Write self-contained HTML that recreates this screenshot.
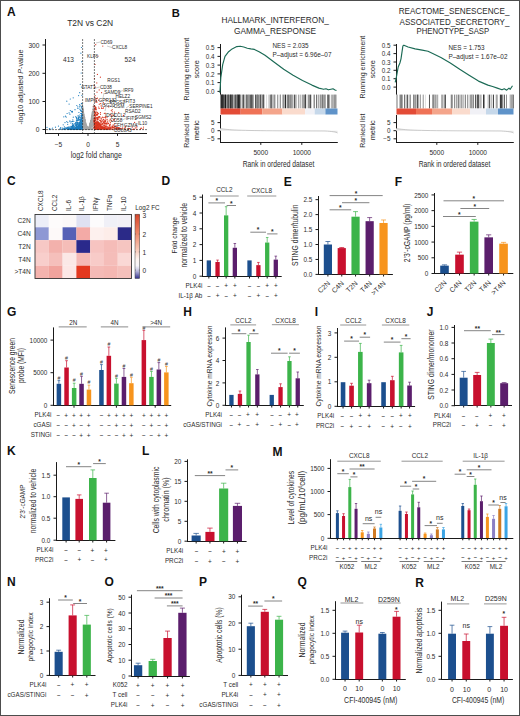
<!DOCTYPE html>
<html><head><meta charset="utf-8"><style>
html,body{margin:0;padding:0;background:#fff;}
svg{display:block;}
text{font-family:"Liberation Sans", sans-serif;}
</style></head><body>
<svg width="520" height="716" viewBox="0 0 520 716">
<rect x="0" y="0" width="520" height="716" fill="#fff"/>
<text x="6.90" y="16.10" font-size="12" fill="#111" font-weight="bold">A</text>
<text x="67.20" y="25.81" font-size="8.4" fill="#2b2b2b" textLength="46" lengthAdjust="spacingAndGlyphs">T2N vs C2N</text>
<g>
<circle cx="85.9" cy="128.1" r="0.6" fill="#a6a6a6"/>
<circle cx="89.8" cy="128.9" r="0.6" fill="#a6a6a6"/>
<circle cx="88.4" cy="128.8" r="0.6" fill="#a6a6a6"/>
<circle cx="82.8" cy="116.0" r="0.6" fill="#a6a6a6"/>
<circle cx="82.5" cy="116.8" r="0.6" fill="#a6a6a6"/>
<circle cx="82.9" cy="126.2" r="0.6" fill="#a6a6a6"/>
<circle cx="87.1" cy="127.4" r="0.6" fill="#a6a6a6"/>
<circle cx="83.6" cy="124.0" r="0.6" fill="#a6a6a6"/>
<circle cx="89.5" cy="125.5" r="0.6" fill="#a6a6a6"/>
<circle cx="88.9" cy="128.3" r="0.6" fill="#a6a6a6"/>
<circle cx="93.6" cy="127.3" r="0.6" fill="#a6a6a6"/>
<circle cx="92.2" cy="123.2" r="0.6" fill="#a6a6a6"/>
<circle cx="83.8" cy="126.5" r="0.6" fill="#a6a6a6"/>
<circle cx="85.7" cy="123.6" r="0.6" fill="#a6a6a6"/>
<circle cx="84.2" cy="120.3" r="0.6" fill="#a6a6a6"/>
<circle cx="89.6" cy="127.4" r="0.6" fill="#a6a6a6"/>
<circle cx="88.6" cy="129.3" r="0.6" fill="#a6a6a6"/>
<circle cx="82.8" cy="123.0" r="0.6" fill="#a6a6a6"/>
<circle cx="90.1" cy="126.3" r="0.6" fill="#a6a6a6"/>
<circle cx="85.8" cy="125.2" r="0.6" fill="#a6a6a6"/>
<circle cx="87.4" cy="128.8" r="0.6" fill="#a6a6a6"/>
<circle cx="91.5" cy="120.0" r="0.6" fill="#a6a6a6"/>
<circle cx="85.0" cy="122.9" r="0.6" fill="#a6a6a6"/>
<circle cx="88.3" cy="128.3" r="0.6" fill="#a6a6a6"/>
<circle cx="90.7" cy="126.2" r="0.6" fill="#a6a6a6"/>
<circle cx="93.7" cy="124.7" r="0.6" fill="#a6a6a6"/>
<circle cx="87.0" cy="127.4" r="0.6" fill="#a6a6a6"/>
<circle cx="83.9" cy="120.4" r="0.6" fill="#a6a6a6"/>
<circle cx="82.6" cy="111.6" r="0.6" fill="#a6a6a6"/>
<circle cx="91.1" cy="122.6" r="0.6" fill="#a6a6a6"/>
<circle cx="92.4" cy="122.3" r="0.6" fill="#a6a6a6"/>
<circle cx="90.3" cy="124.8" r="0.6" fill="#a6a6a6"/>
<circle cx="88.9" cy="128.1" r="0.6" fill="#a6a6a6"/>
<circle cx="92.0" cy="114.6" r="0.6" fill="#a6a6a6"/>
<circle cx="87.7" cy="128.5" r="0.6" fill="#a6a6a6"/>
<circle cx="82.8" cy="112.2" r="0.6" fill="#a6a6a6"/>
<circle cx="89.7" cy="124.6" r="0.6" fill="#a6a6a6"/>
<circle cx="91.8" cy="124.2" r="0.6" fill="#a6a6a6"/>
<circle cx="86.7" cy="126.8" r="0.6" fill="#a6a6a6"/>
<circle cx="82.4" cy="115.4" r="0.6" fill="#a6a6a6"/>
<circle cx="84.1" cy="126.8" r="0.6" fill="#a6a6a6"/>
<circle cx="82.8" cy="110.8" r="0.6" fill="#a6a6a6"/>
<circle cx="83.6" cy="123.7" r="0.6" fill="#a6a6a6"/>
<circle cx="86.7" cy="126.4" r="0.6" fill="#a6a6a6"/>
<circle cx="83.1" cy="118.2" r="0.6" fill="#a6a6a6"/>
<circle cx="88.6" cy="127.9" r="0.6" fill="#a6a6a6"/>
<circle cx="91.8" cy="116.8" r="0.6" fill="#a6a6a6"/>
<circle cx="85.4" cy="125.3" r="0.6" fill="#a6a6a6"/>
<circle cx="86.3" cy="125.3" r="0.6" fill="#a6a6a6"/>
<circle cx="93.4" cy="124.1" r="0.6" fill="#a6a6a6"/>
<circle cx="84.2" cy="125.0" r="0.6" fill="#a6a6a6"/>
<circle cx="84.9" cy="123.4" r="0.6" fill="#a6a6a6"/>
<circle cx="89.1" cy="128.5" r="0.6" fill="#a6a6a6"/>
<circle cx="82.1" cy="115.7" r="0.6" fill="#a6a6a6"/>
<circle cx="86.5" cy="126.8" r="0.6" fill="#a6a6a6"/>
<circle cx="93.3" cy="111.6" r="0.6" fill="#a6a6a6"/>
<circle cx="88.2" cy="128.7" r="0.6" fill="#a6a6a6"/>
<circle cx="90.1" cy="128.9" r="0.6" fill="#a6a6a6"/>
<circle cx="92.7" cy="113.2" r="0.6" fill="#a6a6a6"/>
<circle cx="92.4" cy="114.4" r="0.6" fill="#a6a6a6"/>
<circle cx="86.7" cy="127.9" r="0.6" fill="#a6a6a6"/>
<circle cx="83.3" cy="115.8" r="0.6" fill="#a6a6a6"/>
<circle cx="82.8" cy="126.9" r="0.6" fill="#a6a6a6"/>
<circle cx="84.6" cy="126.6" r="0.6" fill="#a6a6a6"/>
<circle cx="86.1" cy="129.0" r="0.6" fill="#a6a6a6"/>
<circle cx="82.1" cy="123.3" r="0.6" fill="#a6a6a6"/>
<circle cx="83.3" cy="120.7" r="0.6" fill="#a6a6a6"/>
<circle cx="82.4" cy="106.3" r="0.6" fill="#a6a6a6"/>
<circle cx="89.3" cy="128.7" r="0.6" fill="#a6a6a6"/>
<circle cx="85.1" cy="125.3" r="0.6" fill="#a6a6a6"/>
<circle cx="86.4" cy="128.7" r="0.6" fill="#a6a6a6"/>
<circle cx="92.1" cy="113.4" r="0.6" fill="#a6a6a6"/>
<circle cx="87.6" cy="128.7" r="0.6" fill="#a6a6a6"/>
<circle cx="83.1" cy="126.1" r="0.6" fill="#a6a6a6"/>
<circle cx="86.1" cy="127.7" r="0.6" fill="#a6a6a6"/>
<circle cx="91.9" cy="126.0" r="0.6" fill="#a6a6a6"/>
<circle cx="82.4" cy="104.5" r="0.6" fill="#a6a6a6"/>
<circle cx="88.3" cy="129.2" r="0.6" fill="#a6a6a6"/>
<circle cx="88.5" cy="129.4" r="0.6" fill="#a6a6a6"/>
<circle cx="88.3" cy="128.1" r="0.6" fill="#a6a6a6"/>
<circle cx="92.3" cy="116.6" r="0.6" fill="#a6a6a6"/>
<circle cx="85.2" cy="125.3" r="0.6" fill="#a6a6a6"/>
<circle cx="84.1" cy="117.2" r="0.6" fill="#a6a6a6"/>
<circle cx="88.4" cy="128.3" r="0.6" fill="#a6a6a6"/>
<circle cx="86.0" cy="127.7" r="0.6" fill="#a6a6a6"/>
<circle cx="91.7" cy="115.9" r="0.6" fill="#a6a6a6"/>
<circle cx="92.2" cy="115.6" r="0.6" fill="#a6a6a6"/>
<circle cx="91.8" cy="118.4" r="0.6" fill="#a6a6a6"/>
<circle cx="84.8" cy="122.8" r="0.6" fill="#a6a6a6"/>
<circle cx="86.3" cy="129.2" r="0.6" fill="#a6a6a6"/>
<circle cx="82.4" cy="120.3" r="0.6" fill="#a6a6a6"/>
<circle cx="85.2" cy="122.4" r="0.6" fill="#a6a6a6"/>
<circle cx="93.4" cy="116.7" r="0.6" fill="#a6a6a6"/>
<circle cx="93.2" cy="106.9" r="0.6" fill="#a6a6a6"/>
<circle cx="93.4" cy="118.7" r="0.6" fill="#a6a6a6"/>
<circle cx="84.7" cy="125.9" r="0.6" fill="#a6a6a6"/>
<circle cx="84.4" cy="125.8" r="0.6" fill="#a6a6a6"/>
<circle cx="89.5" cy="125.8" r="0.6" fill="#a6a6a6"/>
<circle cx="92.0" cy="120.8" r="0.6" fill="#a6a6a6"/>
<circle cx="89.8" cy="125.2" r="0.6" fill="#a6a6a6"/>
<circle cx="83.1" cy="114.4" r="0.6" fill="#a6a6a6"/>
<circle cx="92.8" cy="112.5" r="0.6" fill="#a6a6a6"/>
<circle cx="91.0" cy="124.0" r="0.6" fill="#a6a6a6"/>
<circle cx="84.2" cy="117.6" r="0.6" fill="#a6a6a6"/>
<circle cx="86.0" cy="124.6" r="0.6" fill="#a6a6a6"/>
<circle cx="93.6" cy="117.3" r="0.6" fill="#a6a6a6"/>
<circle cx="86.8" cy="126.5" r="0.6" fill="#a6a6a6"/>
<circle cx="90.7" cy="127.4" r="0.6" fill="#a6a6a6"/>
<circle cx="83.6" cy="125.5" r="0.6" fill="#a6a6a6"/>
<circle cx="92.8" cy="112.4" r="0.6" fill="#a6a6a6"/>
<circle cx="83.8" cy="115.3" r="0.6" fill="#a6a6a6"/>
<circle cx="93.7" cy="110.7" r="0.6" fill="#a6a6a6"/>
<circle cx="86.2" cy="126.4" r="0.6" fill="#a6a6a6"/>
<circle cx="83.6" cy="128.9" r="0.6" fill="#a6a6a6"/>
<circle cx="93.6" cy="111.4" r="0.6" fill="#a6a6a6"/>
<circle cx="88.3" cy="128.2" r="0.6" fill="#a6a6a6"/>
<circle cx="87.2" cy="127.5" r="0.6" fill="#a6a6a6"/>
<circle cx="91.8" cy="125.3" r="0.6" fill="#a6a6a6"/>
<circle cx="85.1" cy="125.8" r="0.6" fill="#a6a6a6"/>
<circle cx="84.9" cy="122.6" r="0.6" fill="#a6a6a6"/>
<circle cx="85.2" cy="124.8" r="0.6" fill="#a6a6a6"/>
<circle cx="83.6" cy="113.1" r="0.6" fill="#a6a6a6"/>
<circle cx="86.3" cy="126.9" r="0.6" fill="#a6a6a6"/>
<circle cx="89.0" cy="127.0" r="0.6" fill="#a6a6a6"/>
<circle cx="87.1" cy="127.1" r="0.6" fill="#a6a6a6"/>
<circle cx="88.0" cy="128.8" r="0.6" fill="#a6a6a6"/>
<circle cx="88.3" cy="129.4" r="0.6" fill="#a6a6a6"/>
<circle cx="87.3" cy="129.0" r="0.6" fill="#a6a6a6"/>
<circle cx="82.1" cy="106.4" r="0.6" fill="#a6a6a6"/>
<circle cx="84.1" cy="121.4" r="0.6" fill="#a6a6a6"/>
<circle cx="90.7" cy="124.1" r="0.6" fill="#a6a6a6"/>
<circle cx="85.9" cy="125.9" r="0.6" fill="#a6a6a6"/>
<circle cx="88.7" cy="127.9" r="0.6" fill="#a6a6a6"/>
<circle cx="83.4" cy="117.3" r="0.6" fill="#a6a6a6"/>
<circle cx="85.0" cy="125.9" r="0.6" fill="#a6a6a6"/>
<circle cx="91.2" cy="122.9" r="0.6" fill="#a6a6a6"/>
<circle cx="88.7" cy="127.8" r="0.6" fill="#a6a6a6"/>
<circle cx="92.9" cy="118.6" r="0.6" fill="#a6a6a6"/>
<circle cx="89.3" cy="127.4" r="0.6" fill="#a6a6a6"/>
<circle cx="88.1" cy="128.6" r="0.6" fill="#a6a6a6"/>
<circle cx="87.4" cy="128.4" r="0.6" fill="#a6a6a6"/>
<circle cx="87.7" cy="128.3" r="0.6" fill="#a6a6a6"/>
<circle cx="90.4" cy="122.9" r="0.6" fill="#a6a6a6"/>
<circle cx="93.2" cy="121.6" r="0.6" fill="#a6a6a6"/>
<circle cx="88.7" cy="127.6" r="0.6" fill="#a6a6a6"/>
<circle cx="92.0" cy="126.3" r="0.6" fill="#a6a6a6"/>
<circle cx="83.5" cy="120.0" r="0.6" fill="#a6a6a6"/>
<circle cx="83.0" cy="122.5" r="0.6" fill="#a6a6a6"/>
<circle cx="83.0" cy="113.6" r="0.6" fill="#a6a6a6"/>
<circle cx="91.4" cy="118.5" r="0.6" fill="#a6a6a6"/>
<circle cx="83.9" cy="117.2" r="0.6" fill="#a6a6a6"/>
<circle cx="89.9" cy="128.3" r="0.6" fill="#a6a6a6"/>
<circle cx="92.5" cy="111.3" r="0.6" fill="#a6a6a6"/>
<circle cx="84.7" cy="118.2" r="0.6" fill="#a6a6a6"/>
<circle cx="86.8" cy="127.7" r="0.6" fill="#a6a6a6"/>
<circle cx="93.8" cy="106.1" r="0.6" fill="#a6a6a6"/>
<circle cx="84.0" cy="121.6" r="0.6" fill="#a6a6a6"/>
<circle cx="88.2" cy="129.0" r="0.6" fill="#a6a6a6"/>
<circle cx="84.4" cy="124.2" r="0.6" fill="#a6a6a6"/>
<circle cx="90.6" cy="129.1" r="0.6" fill="#a6a6a6"/>
<circle cx="88.6" cy="128.5" r="0.6" fill="#a6a6a6"/>
<circle cx="82.3" cy="118.6" r="0.6" fill="#a6a6a6"/>
<circle cx="89.5" cy="127.1" r="0.6" fill="#a6a6a6"/>
<circle cx="82.9" cy="107.1" r="0.6" fill="#a6a6a6"/>
<circle cx="91.4" cy="117.5" r="0.6" fill="#a6a6a6"/>
<circle cx="83.3" cy="122.7" r="0.6" fill="#a6a6a6"/>
<circle cx="82.6" cy="109.3" r="0.6" fill="#a6a6a6"/>
<circle cx="85.3" cy="127.8" r="0.6" fill="#a6a6a6"/>
<circle cx="87.1" cy="127.2" r="0.6" fill="#a6a6a6"/>
<circle cx="91.8" cy="124.7" r="0.6" fill="#a6a6a6"/>
<circle cx="83.9" cy="114.2" r="0.6" fill="#a6a6a6"/>
<circle cx="88.8" cy="127.8" r="0.6" fill="#a6a6a6"/>
<circle cx="83.2" cy="127.4" r="0.6" fill="#a6a6a6"/>
<circle cx="90.2" cy="126.1" r="0.6" fill="#a6a6a6"/>
<circle cx="83.0" cy="108.6" r="0.6" fill="#a6a6a6"/>
<circle cx="89.6" cy="125.8" r="0.6" fill="#a6a6a6"/>
<circle cx="83.1" cy="110.8" r="0.6" fill="#a6a6a6"/>
<circle cx="82.9" cy="109.5" r="0.6" fill="#a6a6a6"/>
<circle cx="87.5" cy="128.8" r="0.6" fill="#a6a6a6"/>
<circle cx="88.6" cy="127.7" r="0.6" fill="#a6a6a6"/>
<circle cx="85.3" cy="127.7" r="0.6" fill="#a6a6a6"/>
<circle cx="88.3" cy="129.1" r="0.6" fill="#a6a6a6"/>
<circle cx="83.4" cy="125.0" r="0.6" fill="#a6a6a6"/>
<circle cx="82.7" cy="122.9" r="0.6" fill="#a6a6a6"/>
<circle cx="85.8" cy="126.9" r="0.6" fill="#a6a6a6"/>
<circle cx="91.1" cy="125.6" r="0.6" fill="#a6a6a6"/>
<circle cx="88.0" cy="129.2" r="0.6" fill="#a6a6a6"/>
<circle cx="86.2" cy="129.3" r="0.6" fill="#a6a6a6"/>
<circle cx="85.1" cy="129.1" r="0.6" fill="#a6a6a6"/>
<circle cx="90.8" cy="123.9" r="0.6" fill="#a6a6a6"/>
<circle cx="84.3" cy="122.0" r="0.6" fill="#a6a6a6"/>
<circle cx="93.1" cy="125.7" r="0.6" fill="#a6a6a6"/>
<circle cx="91.8" cy="122.2" r="0.6" fill="#a6a6a6"/>
<circle cx="87.9" cy="128.5" r="0.6" fill="#a6a6a6"/>
<circle cx="86.7" cy="127.5" r="0.6" fill="#a6a6a6"/>
<circle cx="90.2" cy="122.9" r="0.6" fill="#a6a6a6"/>
<circle cx="86.1" cy="124.9" r="0.6" fill="#a6a6a6"/>
<circle cx="90.4" cy="124.2" r="0.6" fill="#a6a6a6"/>
<circle cx="86.9" cy="128.2" r="0.6" fill="#a6a6a6"/>
<circle cx="82.7" cy="124.9" r="0.6" fill="#a6a6a6"/>
<circle cx="82.9" cy="112.1" r="0.6" fill="#a6a6a6"/>
<circle cx="85.1" cy="127.2" r="0.6" fill="#a6a6a6"/>
<circle cx="83.1" cy="111.1" r="0.6" fill="#a6a6a6"/>
<circle cx="92.4" cy="116.6" r="0.6" fill="#a6a6a6"/>
<circle cx="85.4" cy="126.8" r="0.6" fill="#a6a6a6"/>
<circle cx="85.6" cy="125.4" r="0.6" fill="#a6a6a6"/>
<circle cx="84.0" cy="121.2" r="0.6" fill="#a6a6a6"/>
<circle cx="85.2" cy="120.5" r="0.6" fill="#a6a6a6"/>
<circle cx="93.6" cy="113.7" r="0.6" fill="#a6a6a6"/>
<circle cx="85.0" cy="119.5" r="0.6" fill="#a6a6a6"/>
<circle cx="85.8" cy="126.5" r="0.6" fill="#a6a6a6"/>
<circle cx="82.1" cy="116.6" r="0.6" fill="#a6a6a6"/>
<circle cx="87.7" cy="128.7" r="0.6" fill="#a6a6a6"/>
<circle cx="84.5" cy="122.0" r="0.6" fill="#a6a6a6"/>
<circle cx="82.2" cy="120.0" r="0.6" fill="#a6a6a6"/>
<circle cx="83.2" cy="119.6" r="0.6" fill="#a6a6a6"/>
<circle cx="82.6" cy="128.3" r="0.6" fill="#a6a6a6"/>
<circle cx="85.7" cy="127.3" r="0.6" fill="#a6a6a6"/>
<circle cx="89.0" cy="127.9" r="0.6" fill="#a6a6a6"/>
<circle cx="91.0" cy="122.3" r="0.6" fill="#a6a6a6"/>
<circle cx="90.5" cy="122.2" r="0.6" fill="#a6a6a6"/>
<circle cx="86.7" cy="128.1" r="0.6" fill="#a6a6a6"/>
<circle cx="93.7" cy="123.7" r="0.6" fill="#a6a6a6"/>
<circle cx="90.6" cy="123.5" r="0.6" fill="#a6a6a6"/>
<circle cx="82.6" cy="108.4" r="0.6" fill="#a6a6a6"/>
<circle cx="92.6" cy="116.2" r="0.6" fill="#a6a6a6"/>
<circle cx="90.8" cy="121.8" r="0.6" fill="#a6a6a6"/>
<circle cx="83.7" cy="119.3" r="0.6" fill="#a6a6a6"/>
<circle cx="88.1" cy="128.5" r="0.6" fill="#a6a6a6"/>
<circle cx="91.6" cy="118.1" r="0.6" fill="#a6a6a6"/>
<circle cx="89.0" cy="127.1" r="0.6" fill="#a6a6a6"/>
<circle cx="90.2" cy="124.6" r="0.6" fill="#a6a6a6"/>
<circle cx="84.8" cy="128.8" r="0.6" fill="#a6a6a6"/>
<circle cx="83.7" cy="121.8" r="0.6" fill="#a6a6a6"/>
<circle cx="83.3" cy="112.6" r="0.6" fill="#a6a6a6"/>
<circle cx="88.7" cy="128.1" r="0.6" fill="#a6a6a6"/>
<circle cx="89.5" cy="126.5" r="0.6" fill="#a6a6a6"/>
<circle cx="87.9" cy="129.5" r="0.6" fill="#a6a6a6"/>
<circle cx="91.5" cy="119.3" r="0.6" fill="#a6a6a6"/>
<circle cx="88.0" cy="128.8" r="0.6" fill="#a6a6a6"/>
<circle cx="89.9" cy="128.9" r="0.6" fill="#a6a6a6"/>
<circle cx="90.8" cy="126.4" r="0.6" fill="#a6a6a6"/>
<circle cx="83.0" cy="121.9" r="0.6" fill="#a6a6a6"/>
<circle cx="90.7" cy="127.0" r="0.6" fill="#a6a6a6"/>
<circle cx="90.8" cy="120.3" r="0.6" fill="#a6a6a6"/>
<circle cx="87.9" cy="129.0" r="0.6" fill="#a6a6a6"/>
<circle cx="87.8" cy="128.5" r="0.6" fill="#a6a6a6"/>
<circle cx="91.2" cy="122.0" r="0.6" fill="#a6a6a6"/>
<circle cx="89.7" cy="128.9" r="0.6" fill="#a6a6a6"/>
<circle cx="83.8" cy="124.0" r="0.6" fill="#a6a6a6"/>
<circle cx="90.9" cy="125.8" r="0.6" fill="#a6a6a6"/>
<circle cx="88.8" cy="129.4" r="0.6" fill="#a6a6a6"/>
<circle cx="82.8" cy="121.5" r="0.6" fill="#a6a6a6"/>
<circle cx="90.0" cy="125.0" r="0.6" fill="#a6a6a6"/>
<circle cx="90.1" cy="127.2" r="0.6" fill="#a6a6a6"/>
<circle cx="88.2" cy="128.8" r="0.6" fill="#a6a6a6"/>
<circle cx="87.6" cy="129.2" r="0.6" fill="#a6a6a6"/>
<circle cx="92.6" cy="124.1" r="0.6" fill="#a6a6a6"/>
<circle cx="93.6" cy="104.7" r="0.6" fill="#a6a6a6"/>
<circle cx="82.3" cy="115.3" r="0.6" fill="#a6a6a6"/>
<circle cx="91.8" cy="115.6" r="0.6" fill="#a6a6a6"/>
<circle cx="87.4" cy="128.9" r="0.6" fill="#a6a6a6"/>
<circle cx="84.6" cy="117.7" r="0.6" fill="#a6a6a6"/>
<circle cx="84.6" cy="121.5" r="0.6" fill="#a6a6a6"/>
<circle cx="83.8" cy="119.4" r="0.6" fill="#a6a6a6"/>
<circle cx="93.3" cy="124.7" r="0.6" fill="#a6a6a6"/>
<circle cx="91.8" cy="121.2" r="0.6" fill="#a6a6a6"/>
<circle cx="92.6" cy="115.2" r="0.6" fill="#a6a6a6"/>
<circle cx="84.8" cy="119.3" r="0.6" fill="#a6a6a6"/>
<circle cx="87.8" cy="129.4" r="0.6" fill="#a6a6a6"/>
<circle cx="82.1" cy="113.8" r="0.6" fill="#a6a6a6"/>
<circle cx="87.4" cy="128.8" r="0.6" fill="#a6a6a6"/>
<circle cx="83.8" cy="122.3" r="0.6" fill="#a6a6a6"/>
<circle cx="85.8" cy="123.8" r="0.6" fill="#a6a6a6"/>
<circle cx="82.1" cy="107.4" r="0.6" fill="#a6a6a6"/>
<circle cx="92.0" cy="126.6" r="0.6" fill="#a6a6a6"/>
<circle cx="93.0" cy="112.8" r="0.6" fill="#a6a6a6"/>
<circle cx="92.7" cy="122.1" r="0.6" fill="#a6a6a6"/>
<circle cx="86.5" cy="127.5" r="0.6" fill="#a6a6a6"/>
<circle cx="93.9" cy="111.2" r="0.6" fill="#a6a6a6"/>
<circle cx="86.4" cy="127.2" r="0.6" fill="#a6a6a6"/>
<circle cx="85.3" cy="128.7" r="0.6" fill="#a6a6a6"/>
<circle cx="83.3" cy="112.4" r="0.6" fill="#a6a6a6"/>
<circle cx="85.5" cy="121.9" r="0.6" fill="#a6a6a6"/>
<circle cx="85.0" cy="126.0" r="0.6" fill="#a6a6a6"/>
<circle cx="88.1" cy="129.2" r="0.6" fill="#a6a6a6"/>
<circle cx="86.5" cy="125.5" r="0.6" fill="#a6a6a6"/>
<circle cx="92.5" cy="113.6" r="0.6" fill="#a6a6a6"/>
<circle cx="89.5" cy="125.5" r="0.6" fill="#a6a6a6"/>
<circle cx="93.2" cy="115.2" r="0.6" fill="#a6a6a6"/>
<circle cx="90.6" cy="128.7" r="0.6" fill="#a6a6a6"/>
<circle cx="90.7" cy="124.7" r="0.6" fill="#a6a6a6"/>
<circle cx="91.0" cy="122.4" r="0.6" fill="#a6a6a6"/>
<circle cx="85.5" cy="128.8" r="0.6" fill="#a6a6a6"/>
<circle cx="93.0" cy="125.3" r="0.6" fill="#a6a6a6"/>
<circle cx="87.7" cy="128.9" r="0.6" fill="#a6a6a6"/>
<circle cx="85.6" cy="123.7" r="0.6" fill="#a6a6a6"/>
<circle cx="93.6" cy="120.7" r="0.6" fill="#a6a6a6"/>
<circle cx="89.8" cy="127.5" r="0.6" fill="#a6a6a6"/>
<circle cx="88.7" cy="128.6" r="0.6" fill="#a6a6a6"/>
<circle cx="84.1" cy="126.0" r="0.6" fill="#a6a6a6"/>
<circle cx="84.6" cy="118.0" r="0.6" fill="#a6a6a6"/>
<circle cx="88.0" cy="129.2" r="0.6" fill="#a6a6a6"/>
<circle cx="92.8" cy="109.2" r="0.6" fill="#a6a6a6"/>
<circle cx="87.4" cy="129.1" r="0.6" fill="#a6a6a6"/>
<circle cx="84.4" cy="127.5" r="0.6" fill="#a6a6a6"/>
<circle cx="86.1" cy="128.7" r="0.6" fill="#a6a6a6"/>
<circle cx="84.9" cy="125.9" r="0.6" fill="#a6a6a6"/>
<circle cx="88.8" cy="127.4" r="0.6" fill="#a6a6a6"/>
<circle cx="90.9" cy="124.6" r="0.6" fill="#a6a6a6"/>
<circle cx="87.0" cy="127.9" r="0.6" fill="#a6a6a6"/>
<circle cx="86.5" cy="127.8" r="0.6" fill="#a6a6a6"/>
<circle cx="82.8" cy="121.3" r="0.6" fill="#a6a6a6"/>
<circle cx="93.5" cy="124.7" r="0.6" fill="#a6a6a6"/>
<circle cx="88.0" cy="128.7" r="0.6" fill="#a6a6a6"/>
<circle cx="92.3" cy="124.4" r="0.6" fill="#a6a6a6"/>
<circle cx="85.3" cy="126.6" r="0.6" fill="#a6a6a6"/>
<circle cx="86.8" cy="127.8" r="0.6" fill="#a6a6a6"/>
<circle cx="93.4" cy="108.3" r="0.6" fill="#a6a6a6"/>
<circle cx="92.4" cy="128.7" r="0.6" fill="#a6a6a6"/>
<circle cx="82.5" cy="110.3" r="0.6" fill="#a6a6a6"/>
<circle cx="92.7" cy="118.7" r="0.6" fill="#a6a6a6"/>
<circle cx="89.0" cy="129.5" r="0.6" fill="#a6a6a6"/>
<circle cx="86.7" cy="126.2" r="0.6" fill="#a6a6a6"/>
<circle cx="91.8" cy="116.6" r="0.6" fill="#a6a6a6"/>
<circle cx="93.6" cy="121.1" r="0.6" fill="#a6a6a6"/>
<circle cx="83.4" cy="125.2" r="0.6" fill="#a6a6a6"/>
<circle cx="88.3" cy="128.5" r="0.6" fill="#a6a6a6"/>
<circle cx="93.2" cy="111.7" r="0.6" fill="#a6a6a6"/>
<circle cx="89.7" cy="125.5" r="0.6" fill="#a6a6a6"/>
<circle cx="87.5" cy="128.5" r="0.6" fill="#a6a6a6"/>
<circle cx="82.6" cy="109.2" r="0.6" fill="#a6a6a6"/>
<circle cx="84.8" cy="119.2" r="0.6" fill="#a6a6a6"/>
<circle cx="89.7" cy="127.6" r="0.6" fill="#a6a6a6"/>
<circle cx="83.6" cy="123.6" r="0.6" fill="#a6a6a6"/>
<circle cx="89.6" cy="126.1" r="0.6" fill="#a6a6a6"/>
<circle cx="83.4" cy="127.2" r="0.6" fill="#a6a6a6"/>
<circle cx="88.3" cy="128.6" r="0.6" fill="#a6a6a6"/>
<circle cx="86.7" cy="128.4" r="0.6" fill="#a6a6a6"/>
<circle cx="89.2" cy="129.4" r="0.6" fill="#a6a6a6"/>
<circle cx="85.7" cy="125.6" r="0.6" fill="#a6a6a6"/>
<circle cx="93.4" cy="112.2" r="0.6" fill="#a6a6a6"/>
<circle cx="92.5" cy="119.2" r="0.6" fill="#a6a6a6"/>
<circle cx="84.9" cy="125.9" r="0.6" fill="#a6a6a6"/>
<circle cx="93.4" cy="110.8" r="0.6" fill="#a6a6a6"/>
<circle cx="85.7" cy="129.2" r="0.6" fill="#a6a6a6"/>
<circle cx="88.0" cy="128.7" r="0.6" fill="#a6a6a6"/>
<circle cx="87.1" cy="128.6" r="0.6" fill="#a6a6a6"/>
<circle cx="90.0" cy="124.1" r="0.6" fill="#a6a6a6"/>
<circle cx="84.8" cy="128.7" r="0.6" fill="#a6a6a6"/>
<circle cx="86.1" cy="126.7" r="0.6" fill="#a6a6a6"/>
<circle cx="90.2" cy="127.7" r="0.6" fill="#a6a6a6"/>
<circle cx="91.5" cy="119.4" r="0.6" fill="#a6a6a6"/>
<circle cx="88.1" cy="129.2" r="0.6" fill="#a6a6a6"/>
<circle cx="93.5" cy="119.5" r="0.6" fill="#a6a6a6"/>
<circle cx="91.8" cy="125.1" r="0.6" fill="#a6a6a6"/>
<circle cx="84.7" cy="120.1" r="0.6" fill="#a6a6a6"/>
<circle cx="85.6" cy="122.2" r="0.6" fill="#a6a6a6"/>
<circle cx="88.0" cy="129.2" r="0.6" fill="#a6a6a6"/>
<circle cx="84.7" cy="123.8" r="0.6" fill="#a6a6a6"/>
<circle cx="90.0" cy="124.0" r="0.6" fill="#a6a6a6"/>
<circle cx="83.8" cy="121.6" r="0.6" fill="#a6a6a6"/>
<circle cx="84.6" cy="117.6" r="0.6" fill="#a6a6a6"/>
<circle cx="83.8" cy="127.9" r="0.6" fill="#a6a6a6"/>
<circle cx="82.8" cy="118.6" r="0.6" fill="#a6a6a6"/>
<circle cx="92.7" cy="111.6" r="0.6" fill="#a6a6a6"/>
<circle cx="90.7" cy="120.5" r="0.6" fill="#a6a6a6"/>
<circle cx="93.1" cy="120.3" r="0.6" fill="#a6a6a6"/>
<circle cx="84.3" cy="116.3" r="0.6" fill="#a6a6a6"/>
<circle cx="90.9" cy="128.9" r="0.6" fill="#a6a6a6"/>
<circle cx="89.9" cy="126.9" r="0.6" fill="#a6a6a6"/>
<circle cx="86.5" cy="127.8" r="0.6" fill="#a6a6a6"/>
<circle cx="84.1" cy="129.4" r="0.6" fill="#a6a6a6"/>
<circle cx="85.4" cy="125.9" r="0.6" fill="#a6a6a6"/>
<circle cx="93.4" cy="124.9" r="0.6" fill="#a6a6a6"/>
<circle cx="93.5" cy="122.4" r="0.6" fill="#a6a6a6"/>
<circle cx="86.3" cy="125.4" r="0.6" fill="#a6a6a6"/>
<circle cx="91.8" cy="122.1" r="0.6" fill="#a6a6a6"/>
<circle cx="82.7" cy="116.4" r="0.6" fill="#a6a6a6"/>
<circle cx="86.5" cy="125.6" r="0.6" fill="#a6a6a6"/>
<circle cx="84.4" cy="123.5" r="0.6" fill="#a6a6a6"/>
<circle cx="92.7" cy="128.3" r="0.6" fill="#a6a6a6"/>
<circle cx="86.9" cy="127.1" r="0.6" fill="#a6a6a6"/>
<circle cx="91.1" cy="128.7" r="0.6" fill="#a6a6a6"/>
<circle cx="82.5" cy="126.8" r="0.6" fill="#a6a6a6"/>
<circle cx="93.0" cy="122.3" r="0.6" fill="#a6a6a6"/>
<circle cx="90.9" cy="120.5" r="0.6" fill="#a6a6a6"/>
<circle cx="86.1" cy="127.6" r="0.6" fill="#a6a6a6"/>
<circle cx="93.4" cy="112.9" r="0.6" fill="#a6a6a6"/>
<circle cx="85.2" cy="122.4" r="0.6" fill="#a6a6a6"/>
<circle cx="85.8" cy="127.2" r="0.6" fill="#a6a6a6"/>
<circle cx="82.1" cy="107.4" r="0.6" fill="#a6a6a6"/>
<circle cx="92.9" cy="114.8" r="0.6" fill="#a6a6a6"/>
<circle cx="93.2" cy="128.3" r="0.6" fill="#a6a6a6"/>
<circle cx="84.9" cy="123.5" r="0.6" fill="#a6a6a6"/>
<circle cx="93.4" cy="106.0" r="0.6" fill="#a6a6a6"/>
<circle cx="86.7" cy="128.3" r="0.6" fill="#a6a6a6"/>
<circle cx="87.2" cy="128.2" r="0.6" fill="#a6a6a6"/>
<circle cx="93.1" cy="123.8" r="0.6" fill="#a6a6a6"/>
<circle cx="91.6" cy="119.2" r="0.6" fill="#a6a6a6"/>
<circle cx="91.8" cy="117.7" r="0.6" fill="#a6a6a6"/>
<circle cx="89.3" cy="128.1" r="0.6" fill="#a6a6a6"/>
<circle cx="85.9" cy="126.7" r="0.6" fill="#a6a6a6"/>
<circle cx="91.3" cy="127.9" r="0.6" fill="#a6a6a6"/>
<circle cx="84.4" cy="119.0" r="0.6" fill="#a6a6a6"/>
<circle cx="85.0" cy="128.4" r="0.6" fill="#a6a6a6"/>
<circle cx="82.5" cy="113.9" r="0.6" fill="#a6a6a6"/>
<circle cx="85.9" cy="123.5" r="0.6" fill="#a6a6a6"/>
<circle cx="92.5" cy="111.0" r="0.6" fill="#a6a6a6"/>
<circle cx="85.2" cy="128.2" r="0.6" fill="#a6a6a6"/>
<circle cx="83.2" cy="117.9" r="0.6" fill="#a6a6a6"/>
<circle cx="90.5" cy="125.4" r="0.6" fill="#a6a6a6"/>
<circle cx="84.9" cy="124.1" r="0.6" fill="#a6a6a6"/>
<circle cx="89.4" cy="126.7" r="0.6" fill="#a6a6a6"/>
<circle cx="90.9" cy="120.9" r="0.6" fill="#a6a6a6"/>
<circle cx="89.9" cy="128.5" r="0.6" fill="#a6a6a6"/>
<circle cx="92.0" cy="123.6" r="0.6" fill="#a6a6a6"/>
<circle cx="88.8" cy="128.5" r="0.6" fill="#a6a6a6"/>
<circle cx="90.8" cy="126.9" r="0.6" fill="#a6a6a6"/>
<circle cx="85.0" cy="126.2" r="0.6" fill="#a6a6a6"/>
<circle cx="83.9" cy="114.9" r="0.6" fill="#a6a6a6"/>
<circle cx="88.9" cy="128.5" r="0.6" fill="#a6a6a6"/>
<circle cx="86.8" cy="126.2" r="0.6" fill="#a6a6a6"/>
<circle cx="88.1" cy="129.1" r="0.6" fill="#a6a6a6"/>
<circle cx="91.6" cy="119.9" r="0.6" fill="#a6a6a6"/>
<circle cx="93.8" cy="125.1" r="0.6" fill="#a6a6a6"/>
<circle cx="87.7" cy="128.3" r="0.6" fill="#a6a6a6"/>
<circle cx="92.0" cy="114.9" r="0.6" fill="#a6a6a6"/>
<circle cx="82.6" cy="120.3" r="0.6" fill="#a6a6a6"/>
<circle cx="83.5" cy="124.6" r="0.6" fill="#a6a6a6"/>
<circle cx="93.6" cy="112.8" r="0.6" fill="#a6a6a6"/>
<circle cx="93.1" cy="119.4" r="0.6" fill="#a6a6a6"/>
<circle cx="92.3" cy="120.3" r="0.6" fill="#a6a6a6"/>
<circle cx="85.2" cy="121.8" r="0.6" fill="#a6a6a6"/>
<circle cx="93.3" cy="125.6" r="0.6" fill="#a6a6a6"/>
<circle cx="89.1" cy="127.4" r="0.6" fill="#a6a6a6"/>
<circle cx="84.7" cy="124.1" r="0.6" fill="#a6a6a6"/>
<circle cx="83.8" cy="124.8" r="0.6" fill="#a6a6a6"/>
<circle cx="85.1" cy="123.1" r="0.6" fill="#a6a6a6"/>
<circle cx="89.8" cy="128.1" r="0.6" fill="#a6a6a6"/>
<circle cx="82.2" cy="118.4" r="0.6" fill="#a6a6a6"/>
<circle cx="90.1" cy="127.9" r="0.6" fill="#a6a6a6"/>
<circle cx="85.8" cy="127.6" r="0.6" fill="#a6a6a6"/>
<circle cx="91.5" cy="121.7" r="0.6" fill="#a6a6a6"/>
<circle cx="82.8" cy="125.9" r="0.6" fill="#a6a6a6"/>
<circle cx="86.8" cy="127.4" r="0.6" fill="#a6a6a6"/>
<circle cx="89.6" cy="128.8" r="0.6" fill="#a6a6a6"/>
<circle cx="84.0" cy="118.0" r="0.6" fill="#a6a6a6"/>
<circle cx="86.9" cy="128.5" r="0.6" fill="#a6a6a6"/>
<circle cx="85.7" cy="122.8" r="0.6" fill="#a6a6a6"/>
<circle cx="85.8" cy="125.2" r="0.6" fill="#a6a6a6"/>
<circle cx="86.3" cy="127.1" r="0.6" fill="#a6a6a6"/>
<circle cx="92.3" cy="112.2" r="0.6" fill="#a6a6a6"/>
<circle cx="86.4" cy="128.3" r="0.6" fill="#a6a6a6"/>
<circle cx="90.7" cy="127.0" r="0.6" fill="#a6a6a6"/>
<circle cx="82.2" cy="104.2" r="0.6" fill="#a6a6a6"/>
<circle cx="87.1" cy="127.4" r="0.6" fill="#a6a6a6"/>
<circle cx="86.9" cy="126.8" r="0.6" fill="#a6a6a6"/>
<circle cx="87.5" cy="129.1" r="0.6" fill="#a6a6a6"/>
<circle cx="82.3" cy="112.9" r="0.6" fill="#a6a6a6"/>
<circle cx="89.7" cy="125.2" r="0.6" fill="#a6a6a6"/>
<circle cx="83.2" cy="115.3" r="0.6" fill="#a6a6a6"/>
<circle cx="86.5" cy="127.1" r="0.6" fill="#a6a6a6"/>
<circle cx="83.8" cy="123.4" r="0.6" fill="#a6a6a6"/>
<circle cx="88.2" cy="128.3" r="0.6" fill="#a6a6a6"/>
<circle cx="83.4" cy="118.6" r="0.6" fill="#a6a6a6"/>
<circle cx="91.6" cy="116.6" r="0.6" fill="#a6a6a6"/>
<circle cx="84.4" cy="127.0" r="0.6" fill="#a6a6a6"/>
<circle cx="93.2" cy="106.7" r="0.6" fill="#a6a6a6"/>
<circle cx="87.8" cy="129.4" r="0.6" fill="#a6a6a6"/>
<circle cx="93.0" cy="119.2" r="0.6" fill="#a6a6a6"/>
<circle cx="92.8" cy="115.7" r="0.6" fill="#a6a6a6"/>
<circle cx="91.8" cy="126.1" r="0.6" fill="#a6a6a6"/>
<circle cx="91.4" cy="125.9" r="0.6" fill="#a6a6a6"/>
<circle cx="86.9" cy="126.8" r="0.6" fill="#a6a6a6"/>
<circle cx="91.9" cy="125.7" r="0.6" fill="#a6a6a6"/>
<circle cx="84.7" cy="123.8" r="0.6" fill="#a6a6a6"/>
<circle cx="88.2" cy="128.9" r="0.6" fill="#a6a6a6"/>
<circle cx="83.6" cy="123.5" r="0.6" fill="#a6a6a6"/>
<circle cx="90.7" cy="121.6" r="0.6" fill="#a6a6a6"/>
<circle cx="82.6" cy="114.0" r="0.6" fill="#a6a6a6"/>
<circle cx="91.0" cy="128.7" r="0.6" fill="#a6a6a6"/>
<circle cx="92.0" cy="126.7" r="0.6" fill="#a6a6a6"/>
<circle cx="89.2" cy="127.5" r="0.6" fill="#a6a6a6"/>
<circle cx="89.5" cy="127.9" r="0.6" fill="#a6a6a6"/>
<circle cx="87.1" cy="127.8" r="0.6" fill="#a6a6a6"/>
<circle cx="87.1" cy="127.8" r="0.6" fill="#a6a6a6"/>
<circle cx="87.4" cy="128.5" r="0.6" fill="#a6a6a6"/>
<circle cx="82.4" cy="111.8" r="0.6" fill="#a6a6a6"/>
<circle cx="87.9" cy="129.1" r="0.6" fill="#a6a6a6"/>
<circle cx="91.1" cy="120.7" r="0.6" fill="#a6a6a6"/>
<circle cx="87.5" cy="129.1" r="0.6" fill="#a6a6a6"/>
<circle cx="87.7" cy="129.3" r="0.6" fill="#a6a6a6"/>
<circle cx="83.6" cy="120.4" r="0.6" fill="#a6a6a6"/>
<circle cx="83.2" cy="118.8" r="0.6" fill="#a6a6a6"/>
<circle cx="88.1" cy="129.4" r="0.6" fill="#a6a6a6"/>
<circle cx="89.6" cy="128.9" r="0.6" fill="#a6a6a6"/>
<circle cx="90.8" cy="122.1" r="0.6" fill="#a6a6a6"/>
<circle cx="88.1" cy="129.4" r="0.6" fill="#a6a6a6"/>
<circle cx="88.0" cy="129.0" r="0.6" fill="#a6a6a6"/>
<circle cx="93.3" cy="124.7" r="0.6" fill="#a6a6a6"/>
<circle cx="92.2" cy="112.8" r="0.6" fill="#a6a6a6"/>
<circle cx="90.7" cy="121.9" r="0.6" fill="#a6a6a6"/>
<circle cx="84.4" cy="116.3" r="0.6" fill="#a6a6a6"/>
<circle cx="87.9" cy="128.4" r="0.6" fill="#a6a6a6"/>
<circle cx="92.9" cy="124.5" r="0.6" fill="#a6a6a6"/>
<circle cx="91.4" cy="117.9" r="0.6" fill="#a6a6a6"/>
<circle cx="82.9" cy="119.7" r="0.6" fill="#a6a6a6"/>
<circle cx="91.0" cy="127.1" r="0.6" fill="#a6a6a6"/>
<circle cx="92.7" cy="122.5" r="0.6" fill="#a6a6a6"/>
<circle cx="91.7" cy="126.5" r="0.6" fill="#a6a6a6"/>
<circle cx="88.0" cy="128.4" r="0.6" fill="#a6a6a6"/>
<circle cx="84.6" cy="125.2" r="0.6" fill="#a6a6a6"/>
<circle cx="88.1" cy="129.0" r="0.6" fill="#a6a6a6"/>
<circle cx="82.5" cy="123.1" r="0.6" fill="#a6a6a6"/>
<circle cx="84.0" cy="114.8" r="0.6" fill="#a6a6a6"/>
<circle cx="90.1" cy="123.7" r="0.6" fill="#a6a6a6"/>
<circle cx="84.1" cy="117.1" r="0.6" fill="#a6a6a6"/>
<circle cx="83.5" cy="118.2" r="0.6" fill="#a6a6a6"/>
<circle cx="89.6" cy="127.5" r="0.6" fill="#a6a6a6"/>
<circle cx="92.4" cy="118.3" r="0.6" fill="#a6a6a6"/>
<circle cx="88.9" cy="127.2" r="0.6" fill="#a6a6a6"/>
<circle cx="83.3" cy="110.0" r="0.6" fill="#a6a6a6"/>
<circle cx="89.5" cy="127.5" r="0.6" fill="#a6a6a6"/>
<circle cx="91.5" cy="125.1" r="0.6" fill="#a6a6a6"/>
<circle cx="93.8" cy="112.0" r="0.6" fill="#a6a6a6"/>
<circle cx="86.4" cy="125.8" r="0.6" fill="#a6a6a6"/>
<circle cx="87.3" cy="129.0" r="0.6" fill="#a6a6a6"/>
<circle cx="90.9" cy="128.6" r="0.6" fill="#a6a6a6"/>
<circle cx="91.8" cy="124.7" r="0.6" fill="#a6a6a6"/>
<circle cx="89.6" cy="125.0" r="0.6" fill="#a6a6a6"/>
<circle cx="89.0" cy="127.5" r="0.6" fill="#a6a6a6"/>
<circle cx="85.8" cy="129.5" r="0.6" fill="#a6a6a6"/>
<circle cx="82.5" cy="124.0" r="0.6" fill="#a6a6a6"/>
<circle cx="89.4" cy="127.6" r="0.6" fill="#a6a6a6"/>
<circle cx="88.1" cy="128.4" r="0.6" fill="#a6a6a6"/>
<circle cx="83.7" cy="124.1" r="0.6" fill="#a6a6a6"/>
<circle cx="89.8" cy="129.3" r="0.6" fill="#a6a6a6"/>
<circle cx="82.1" cy="117.4" r="0.6" fill="#a6a6a6"/>
<circle cx="83.4" cy="121.0" r="0.6" fill="#a6a6a6"/>
<circle cx="84.7" cy="122.0" r="0.6" fill="#a6a6a6"/>
<circle cx="89.1" cy="128.7" r="0.6" fill="#a6a6a6"/>
<circle cx="89.5" cy="127.3" r="0.6" fill="#a6a6a6"/>
<circle cx="83.7" cy="113.0" r="0.6" fill="#a6a6a6"/>
<circle cx="85.0" cy="127.2" r="0.6" fill="#a6a6a6"/>
<circle cx="83.2" cy="115.4" r="0.6" fill="#a6a6a6"/>
<circle cx="92.4" cy="114.9" r="0.6" fill="#a6a6a6"/>
<circle cx="86.8" cy="128.4" r="0.6" fill="#a6a6a6"/>
<circle cx="82.2" cy="110.5" r="0.6" fill="#a6a6a6"/>
<circle cx="88.7" cy="128.6" r="0.6" fill="#a6a6a6"/>
<circle cx="89.7" cy="127.0" r="0.6" fill="#a6a6a6"/>
<circle cx="93.2" cy="111.7" r="0.6" fill="#a6a6a6"/>
<circle cx="85.0" cy="120.2" r="0.6" fill="#a6a6a6"/>
<circle cx="82.6" cy="114.8" r="0.6" fill="#a6a6a6"/>
<circle cx="86.9" cy="128.6" r="0.6" fill="#a6a6a6"/>
<circle cx="82.8" cy="110.5" r="0.6" fill="#a6a6a6"/>
<circle cx="82.2" cy="112.8" r="0.6" fill="#a6a6a6"/>
<circle cx="93.2" cy="124.6" r="0.6" fill="#a6a6a6"/>
<circle cx="84.5" cy="120.8" r="0.6" fill="#a6a6a6"/>
<circle cx="88.1" cy="128.7" r="0.6" fill="#a6a6a6"/>
<circle cx="91.7" cy="126.1" r="0.6" fill="#a6a6a6"/>
<circle cx="85.8" cy="126.9" r="0.6" fill="#a6a6a6"/>
<circle cx="82.7" cy="107.7" r="0.6" fill="#a6a6a6"/>
<circle cx="91.3" cy="120.4" r="0.6" fill="#a6a6a6"/>
<circle cx="82.2" cy="105.5" r="0.6" fill="#a6a6a6"/>
<circle cx="90.9" cy="124.2" r="0.6" fill="#a6a6a6"/>
<circle cx="90.9" cy="124.4" r="0.6" fill="#a6a6a6"/>
<circle cx="84.8" cy="127.6" r="0.6" fill="#a6a6a6"/>
<circle cx="84.8" cy="128.7" r="0.6" fill="#a6a6a6"/>
<circle cx="86.1" cy="125.0" r="0.6" fill="#a6a6a6"/>
<circle cx="90.3" cy="123.3" r="0.6" fill="#a6a6a6"/>
<circle cx="90.5" cy="126.8" r="0.6" fill="#a6a6a6"/>
<circle cx="88.6" cy="128.5" r="0.6" fill="#a6a6a6"/>
<circle cx="91.4" cy="122.2" r="0.6" fill="#a6a6a6"/>
<circle cx="85.2" cy="123.1" r="0.6" fill="#a6a6a6"/>
<circle cx="93.5" cy="122.1" r="0.6" fill="#a6a6a6"/>
<circle cx="92.5" cy="128.9" r="0.6" fill="#a6a6a6"/>
<circle cx="85.2" cy="126.5" r="0.6" fill="#a6a6a6"/>
<circle cx="90.9" cy="120.3" r="0.6" fill="#a6a6a6"/>
<circle cx="90.9" cy="125.5" r="0.6" fill="#a6a6a6"/>
<circle cx="92.5" cy="121.9" r="0.6" fill="#a6a6a6"/>
<circle cx="84.9" cy="119.7" r="0.6" fill="#a6a6a6"/>
<circle cx="89.5" cy="126.3" r="0.6" fill="#a6a6a6"/>
<circle cx="89.9" cy="123.9" r="0.6" fill="#a6a6a6"/>
<circle cx="87.6" cy="128.3" r="0.6" fill="#a6a6a6"/>
<circle cx="90.3" cy="123.1" r="0.6" fill="#a6a6a6"/>
<circle cx="87.3" cy="127.9" r="0.6" fill="#a6a6a6"/>
<circle cx="88.8" cy="128.6" r="0.6" fill="#a6a6a6"/>
<circle cx="84.6" cy="121.1" r="0.6" fill="#a6a6a6"/>
<circle cx="83.0" cy="109.4" r="0.6" fill="#a6a6a6"/>
<circle cx="83.8" cy="128.6" r="0.6" fill="#a6a6a6"/>
<circle cx="83.4" cy="111.2" r="0.6" fill="#a6a6a6"/>
<circle cx="86.2" cy="128.4" r="0.6" fill="#a6a6a6"/>
<circle cx="82.4" cy="127.5" r="0.6" fill="#a6a6a6"/>
<circle cx="90.3" cy="124.7" r="0.6" fill="#a6a6a6"/>
<circle cx="90.3" cy="123.9" r="0.6" fill="#a6a6a6"/>
<circle cx="82.9" cy="114.7" r="0.6" fill="#a6a6a6"/>
<circle cx="86.4" cy="125.7" r="0.6" fill="#a6a6a6"/>
<circle cx="91.8" cy="116.5" r="0.6" fill="#a6a6a6"/>
<circle cx="82.9" cy="109.4" r="0.6" fill="#a6a6a6"/>
<circle cx="92.9" cy="109.4" r="0.6" fill="#a6a6a6"/>
<circle cx="83.4" cy="124.0" r="0.6" fill="#a6a6a6"/>
<circle cx="83.4" cy="128.2" r="0.6" fill="#a6a6a6"/>
<circle cx="92.1" cy="115.8" r="0.6" fill="#a6a6a6"/>
<circle cx="89.6" cy="125.7" r="0.6" fill="#a6a6a6"/>
<circle cx="89.6" cy="127.9" r="0.6" fill="#a6a6a6"/>
<circle cx="83.3" cy="126.4" r="0.6" fill="#a6a6a6"/>
<circle cx="91.0" cy="126.6" r="0.6" fill="#a6a6a6"/>
<circle cx="85.9" cy="126.3" r="0.6" fill="#a6a6a6"/>
<circle cx="82.3" cy="120.7" r="0.6" fill="#a6a6a6"/>
<circle cx="85.4" cy="123.2" r="0.6" fill="#a6a6a6"/>
<circle cx="86.4" cy="127.8" r="0.6" fill="#a6a6a6"/>
<circle cx="93.5" cy="115.1" r="0.6" fill="#a6a6a6"/>
<circle cx="92.1" cy="118.3" r="0.6" fill="#a6a6a6"/>
<circle cx="82.5" cy="117.0" r="0.6" fill="#a6a6a6"/>
<circle cx="87.3" cy="127.8" r="0.6" fill="#a6a6a6"/>
<circle cx="86.2" cy="125.6" r="0.6" fill="#a6a6a6"/>
<circle cx="88.4" cy="129.0" r="0.6" fill="#a6a6a6"/>
<circle cx="92.3" cy="127.0" r="0.6" fill="#a6a6a6"/>
<circle cx="91.8" cy="126.0" r="0.6" fill="#a6a6a6"/>
<circle cx="82.1" cy="121.7" r="0.6" fill="#a6a6a6"/>
<circle cx="91.1" cy="119.0" r="0.6" fill="#a6a6a6"/>
<circle cx="82.2" cy="113.9" r="0.6" fill="#a6a6a6"/>
<circle cx="87.9" cy="128.5" r="0.6" fill="#a6a6a6"/>
<circle cx="84.3" cy="121.5" r="0.6" fill="#a6a6a6"/>
<circle cx="86.2" cy="125.0" r="0.6" fill="#a6a6a6"/>
<circle cx="85.2" cy="120.5" r="0.6" fill="#a6a6a6"/>
<circle cx="85.4" cy="127.1" r="0.6" fill="#a6a6a6"/>
<circle cx="90.4" cy="125.3" r="0.6" fill="#a6a6a6"/>
<circle cx="83.4" cy="116.1" r="0.6" fill="#a6a6a6"/>
<circle cx="83.1" cy="111.8" r="0.6" fill="#a6a6a6"/>
<circle cx="90.3" cy="123.6" r="0.6" fill="#a6a6a6"/>
<circle cx="89.5" cy="127.7" r="0.6" fill="#a6a6a6"/>
<circle cx="86.8" cy="128.0" r="0.6" fill="#a6a6a6"/>
<circle cx="92.6" cy="126.8" r="0.6" fill="#a6a6a6"/>
<circle cx="92.6" cy="128.5" r="0.6" fill="#a6a6a6"/>
<circle cx="84.5" cy="125.2" r="0.6" fill="#a6a6a6"/>
<circle cx="92.7" cy="118.0" r="0.6" fill="#a6a6a6"/>
<circle cx="86.6" cy="126.0" r="0.6" fill="#a6a6a6"/>
<circle cx="84.9" cy="123.6" r="0.6" fill="#a6a6a6"/>
<circle cx="88.4" cy="128.3" r="0.6" fill="#a6a6a6"/>
<circle cx="91.0" cy="122.3" r="0.6" fill="#a6a6a6"/>
<circle cx="86.2" cy="127.4" r="0.6" fill="#a6a6a6"/>
<circle cx="83.9" cy="115.6" r="0.6" fill="#a6a6a6"/>
<circle cx="89.9" cy="125.1" r="0.6" fill="#a6a6a6"/>
<circle cx="84.1" cy="121.8" r="0.6" fill="#a6a6a6"/>
<circle cx="91.2" cy="122.2" r="0.6" fill="#a6a6a6"/>
<circle cx="83.6" cy="119.8" r="0.6" fill="#a6a6a6"/>
<circle cx="92.5" cy="123.5" r="0.6" fill="#a6a6a6"/>
<circle cx="84.4" cy="124.3" r="0.6" fill="#a6a6a6"/>
<circle cx="90.4" cy="123.0" r="0.6" fill="#a6a6a6"/>
<circle cx="83.9" cy="125.9" r="0.6" fill="#a6a6a6"/>
<circle cx="85.0" cy="125.4" r="0.6" fill="#a6a6a6"/>
<circle cx="88.3" cy="129.2" r="0.6" fill="#a6a6a6"/>
<circle cx="86.0" cy="127.9" r="0.6" fill="#a6a6a6"/>
<circle cx="93.6" cy="109.4" r="0.6" fill="#a6a6a6"/>
<circle cx="83.3" cy="110.3" r="0.6" fill="#a6a6a6"/>
<circle cx="83.3" cy="120.3" r="0.6" fill="#a6a6a6"/>
<circle cx="93.7" cy="107.4" r="0.6" fill="#a6a6a6"/>
<circle cx="90.8" cy="124.8" r="0.6" fill="#a6a6a6"/>
<circle cx="84.4" cy="120.3" r="0.6" fill="#a6a6a6"/>
<circle cx="83.4" cy="124.0" r="0.6" fill="#a6a6a6"/>
<circle cx="86.7" cy="129.3" r="0.6" fill="#a6a6a6"/>
<circle cx="86.8" cy="126.8" r="0.6" fill="#a6a6a6"/>
<circle cx="90.3" cy="125.5" r="0.6" fill="#a6a6a6"/>
<circle cx="89.6" cy="127.2" r="0.6" fill="#a6a6a6"/>
<circle cx="83.8" cy="118.2" r="0.6" fill="#a6a6a6"/>
<circle cx="86.9" cy="127.1" r="0.6" fill="#a6a6a6"/>
<circle cx="92.8" cy="119.0" r="0.6" fill="#a6a6a6"/>
<circle cx="88.9" cy="127.6" r="0.6" fill="#a6a6a6"/>
<circle cx="87.1" cy="128.7" r="0.6" fill="#a6a6a6"/>
<circle cx="90.6" cy="121.9" r="0.6" fill="#a6a6a6"/>
<circle cx="91.2" cy="120.9" r="0.6" fill="#a6a6a6"/>
<circle cx="92.2" cy="117.4" r="0.6" fill="#a6a6a6"/>
<circle cx="89.7" cy="127.0" r="0.6" fill="#a6a6a6"/>
<circle cx="85.8" cy="124.9" r="0.6" fill="#a6a6a6"/>
<circle cx="83.3" cy="119.5" r="0.6" fill="#a6a6a6"/>
<circle cx="91.3" cy="120.4" r="0.6" fill="#a6a6a6"/>
<circle cx="89.5" cy="128.1" r="0.6" fill="#a6a6a6"/>
<circle cx="87.1" cy="128.2" r="0.6" fill="#a6a6a6"/>
<circle cx="89.4" cy="127.6" r="0.6" fill="#a6a6a6"/>
<circle cx="90.1" cy="123.7" r="0.6" fill="#a6a6a6"/>
<circle cx="84.3" cy="119.5" r="0.6" fill="#a6a6a6"/>
<circle cx="91.3" cy="124.0" r="0.6" fill="#a6a6a6"/>
<circle cx="87.9" cy="128.3" r="0.6" fill="#a6a6a6"/>
<circle cx="82.6" cy="114.3" r="0.6" fill="#a6a6a6"/>
<circle cx="84.0" cy="116.7" r="0.6" fill="#a6a6a6"/>
<circle cx="93.2" cy="115.8" r="0.6" fill="#a6a6a6"/>
<circle cx="83.3" cy="116.8" r="0.6" fill="#a6a6a6"/>
<circle cx="88.5" cy="128.3" r="0.6" fill="#a6a6a6"/>
<circle cx="88.1" cy="128.7" r="0.6" fill="#a6a6a6"/>
<circle cx="91.9" cy="120.7" r="0.6" fill="#a6a6a6"/>
<circle cx="86.9" cy="126.8" r="0.6" fill="#a6a6a6"/>
<circle cx="84.6" cy="120.4" r="0.6" fill="#a6a6a6"/>
<circle cx="86.7" cy="126.7" r="0.6" fill="#a6a6a6"/>
<circle cx="83.5" cy="111.5" r="0.6" fill="#a6a6a6"/>
<circle cx="86.3" cy="129.0" r="0.6" fill="#a6a6a6"/>
<circle cx="85.3" cy="125.3" r="0.6" fill="#a6a6a6"/>
<circle cx="82.3" cy="116.1" r="0.6" fill="#a6a6a6"/>
<circle cx="87.1" cy="127.6" r="0.6" fill="#a6a6a6"/>
<circle cx="79.7" cy="128.0" r="0.6" fill="#1c7cbd"/>
<circle cx="80.7" cy="121.6" r="0.6" fill="#1c7cbd"/>
<circle cx="66.3" cy="128.7" r="0.6" fill="#1c7cbd"/>
<circle cx="80.7" cy="119.9" r="0.6" fill="#1c7cbd"/>
<circle cx="79.3" cy="128.4" r="0.6" fill="#1c7cbd"/>
<circle cx="81.3" cy="119.6" r="0.6" fill="#1c7cbd"/>
<circle cx="72.8" cy="127.7" r="0.6" fill="#1c7cbd"/>
<circle cx="78.6" cy="126.2" r="0.6" fill="#1c7cbd"/>
<circle cx="80.7" cy="110.1" r="0.6" fill="#1c7cbd"/>
<circle cx="79.7" cy="124.5" r="0.6" fill="#1c7cbd"/>
<circle cx="72.5" cy="126.6" r="0.6" fill="#1c7cbd"/>
<circle cx="78.6" cy="128.1" r="0.6" fill="#1c7cbd"/>
<circle cx="77.6" cy="129.0" r="0.6" fill="#1c7cbd"/>
<circle cx="72.0" cy="128.8" r="0.6" fill="#1c7cbd"/>
<circle cx="71.4" cy="129.0" r="0.6" fill="#1c7cbd"/>
<circle cx="79.5" cy="128.1" r="0.6" fill="#1c7cbd"/>
<circle cx="79.0" cy="128.6" r="0.6" fill="#1c7cbd"/>
<circle cx="82.1" cy="119.8" r="0.6" fill="#1c7cbd"/>
<circle cx="80.2" cy="128.0" r="0.6" fill="#1c7cbd"/>
<circle cx="80.1" cy="126.1" r="0.6" fill="#1c7cbd"/>
<circle cx="79.0" cy="125.1" r="0.6" fill="#1c7cbd"/>
<circle cx="76.1" cy="128.3" r="0.6" fill="#1c7cbd"/>
<circle cx="67.3" cy="127.3" r="0.6" fill="#1c7cbd"/>
<circle cx="81.8" cy="116.9" r="0.6" fill="#1c7cbd"/>
<circle cx="68.9" cy="127.6" r="0.6" fill="#1c7cbd"/>
<circle cx="81.3" cy="117.9" r="0.6" fill="#1c7cbd"/>
<circle cx="76.5" cy="129.5" r="0.6" fill="#1c7cbd"/>
<circle cx="82.0" cy="106.6" r="0.6" fill="#1c7cbd"/>
<circle cx="76.1" cy="128.7" r="0.6" fill="#1c7cbd"/>
<circle cx="81.5" cy="128.4" r="0.6" fill="#1c7cbd"/>
<circle cx="80.6" cy="120.8" r="0.6" fill="#1c7cbd"/>
<circle cx="79.7" cy="128.7" r="0.6" fill="#1c7cbd"/>
<circle cx="69.0" cy="127.5" r="0.6" fill="#1c7cbd"/>
<circle cx="81.1" cy="115.5" r="0.6" fill="#1c7cbd"/>
<circle cx="76.8" cy="124.8" r="0.6" fill="#1c7cbd"/>
<circle cx="75.9" cy="123.5" r="0.6" fill="#1c7cbd"/>
<circle cx="73.4" cy="126.0" r="0.6" fill="#1c7cbd"/>
<circle cx="80.9" cy="122.3" r="0.6" fill="#1c7cbd"/>
<circle cx="77.9" cy="124.6" r="0.6" fill="#1c7cbd"/>
<circle cx="78.9" cy="120.4" r="0.6" fill="#1c7cbd"/>
<circle cx="77.6" cy="128.4" r="0.6" fill="#1c7cbd"/>
<circle cx="80.6" cy="128.6" r="0.6" fill="#1c7cbd"/>
<circle cx="78.3" cy="129.3" r="0.6" fill="#1c7cbd"/>
<circle cx="78.6" cy="128.9" r="0.6" fill="#1c7cbd"/>
<circle cx="78.3" cy="126.8" r="0.6" fill="#1c7cbd"/>
<circle cx="77.8" cy="122.4" r="0.6" fill="#1c7cbd"/>
<circle cx="82.1" cy="115.6" r="0.6" fill="#1c7cbd"/>
<circle cx="78.6" cy="126.1" r="0.6" fill="#1c7cbd"/>
<circle cx="76.0" cy="124.5" r="0.6" fill="#1c7cbd"/>
<circle cx="79.5" cy="126.9" r="0.6" fill="#1c7cbd"/>
<circle cx="64.0" cy="129.4" r="0.6" fill="#1c7cbd"/>
<circle cx="76.4" cy="126.6" r="0.6" fill="#1c7cbd"/>
<circle cx="81.9" cy="122.5" r="0.6" fill="#1c7cbd"/>
<circle cx="75.7" cy="122.6" r="0.6" fill="#1c7cbd"/>
<circle cx="79.9" cy="109.2" r="0.6" fill="#1c7cbd"/>
<circle cx="78.1" cy="127.0" r="0.6" fill="#1c7cbd"/>
<circle cx="69.3" cy="129.5" r="0.6" fill="#1c7cbd"/>
<circle cx="75.0" cy="127.2" r="0.6" fill="#1c7cbd"/>
<circle cx="79.8" cy="119.6" r="0.6" fill="#1c7cbd"/>
<circle cx="79.5" cy="126.4" r="0.6" fill="#1c7cbd"/>
<circle cx="77.9" cy="124.1" r="0.6" fill="#1c7cbd"/>
<circle cx="80.8" cy="126.1" r="0.6" fill="#1c7cbd"/>
<circle cx="79.0" cy="126.0" r="0.6" fill="#1c7cbd"/>
<circle cx="72.3" cy="128.9" r="0.6" fill="#1c7cbd"/>
<circle cx="72.2" cy="128.6" r="0.6" fill="#1c7cbd"/>
<circle cx="78.2" cy="128.3" r="0.6" fill="#1c7cbd"/>
<circle cx="78.1" cy="115.6" r="0.6" fill="#1c7cbd"/>
<circle cx="76.1" cy="125.2" r="0.6" fill="#1c7cbd"/>
<circle cx="79.8" cy="127.6" r="0.6" fill="#1c7cbd"/>
<circle cx="80.1" cy="124.8" r="0.6" fill="#1c7cbd"/>
<circle cx="76.5" cy="125.1" r="0.6" fill="#1c7cbd"/>
<circle cx="81.9" cy="120.1" r="0.6" fill="#1c7cbd"/>
<circle cx="69.9" cy="128.4" r="0.6" fill="#1c7cbd"/>
<circle cx="81.8" cy="126.9" r="0.6" fill="#1c7cbd"/>
<circle cx="82.1" cy="127.9" r="0.6" fill="#1c7cbd"/>
<circle cx="67.8" cy="128.4" r="0.6" fill="#1c7cbd"/>
<circle cx="76.1" cy="125.2" r="0.6" fill="#1c7cbd"/>
<circle cx="68.6" cy="128.3" r="0.6" fill="#1c7cbd"/>
<circle cx="76.7" cy="126.5" r="0.6" fill="#1c7cbd"/>
<circle cx="75.4" cy="127.2" r="0.6" fill="#1c7cbd"/>
<circle cx="75.7" cy="128.9" r="0.6" fill="#1c7cbd"/>
<circle cx="75.9" cy="127.9" r="0.6" fill="#1c7cbd"/>
<circle cx="74.0" cy="129.3" r="0.6" fill="#1c7cbd"/>
<circle cx="81.0" cy="129.3" r="0.6" fill="#1c7cbd"/>
<circle cx="73.8" cy="124.6" r="0.6" fill="#1c7cbd"/>
<circle cx="76.1" cy="128.2" r="0.6" fill="#1c7cbd"/>
<circle cx="72.4" cy="126.8" r="0.6" fill="#1c7cbd"/>
<circle cx="77.5" cy="128.5" r="0.6" fill="#1c7cbd"/>
<circle cx="80.1" cy="126.6" r="0.6" fill="#1c7cbd"/>
<circle cx="80.0" cy="126.6" r="0.6" fill="#1c7cbd"/>
<circle cx="76.3" cy="121.8" r="0.6" fill="#1c7cbd"/>
<circle cx="81.8" cy="123.5" r="0.6" fill="#1c7cbd"/>
<circle cx="81.9" cy="128.6" r="0.6" fill="#1c7cbd"/>
<circle cx="72.8" cy="128.0" r="0.6" fill="#1c7cbd"/>
<circle cx="68.0" cy="128.8" r="0.6" fill="#1c7cbd"/>
<circle cx="82.0" cy="125.8" r="0.6" fill="#1c7cbd"/>
<circle cx="77.1" cy="120.6" r="0.6" fill="#1c7cbd"/>
<circle cx="59.9" cy="128.9" r="0.6" fill="#1c7cbd"/>
<circle cx="79.1" cy="129.0" r="0.6" fill="#1c7cbd"/>
<circle cx="76.3" cy="128.8" r="0.6" fill="#1c7cbd"/>
<circle cx="81.2" cy="129.4" r="0.6" fill="#1c7cbd"/>
<circle cx="82.1" cy="120.8" r="0.6" fill="#1c7cbd"/>
<circle cx="81.4" cy="106.9" r="0.6" fill="#1c7cbd"/>
<circle cx="81.6" cy="115.4" r="0.6" fill="#1c7cbd"/>
<circle cx="81.3" cy="129.4" r="0.6" fill="#1c7cbd"/>
<circle cx="75.0" cy="128.8" r="0.6" fill="#1c7cbd"/>
<circle cx="74.7" cy="129.0" r="0.6" fill="#1c7cbd"/>
<circle cx="81.8" cy="118.7" r="0.6" fill="#1c7cbd"/>
<circle cx="75.1" cy="124.9" r="0.6" fill="#1c7cbd"/>
<circle cx="74.8" cy="129.3" r="0.6" fill="#1c7cbd"/>
<circle cx="76.5" cy="125.9" r="0.6" fill="#1c7cbd"/>
<circle cx="78.6" cy="118.4" r="0.6" fill="#1c7cbd"/>
<circle cx="80.5" cy="110.7" r="0.6" fill="#1c7cbd"/>
<circle cx="75.0" cy="129.5" r="0.6" fill="#1c7cbd"/>
<circle cx="82.0" cy="121.6" r="0.6" fill="#1c7cbd"/>
<circle cx="72.6" cy="129.4" r="0.6" fill="#1c7cbd"/>
<circle cx="80.0" cy="122.7" r="0.6" fill="#1c7cbd"/>
<circle cx="81.1" cy="117.0" r="0.6" fill="#1c7cbd"/>
<circle cx="78.4" cy="129.3" r="0.6" fill="#1c7cbd"/>
<circle cx="79.5" cy="125.4" r="0.6" fill="#1c7cbd"/>
<circle cx="78.9" cy="124.7" r="0.6" fill="#1c7cbd"/>
<circle cx="81.2" cy="119.2" r="0.6" fill="#1c7cbd"/>
<circle cx="79.6" cy="124.5" r="0.6" fill="#1c7cbd"/>
<circle cx="76.5" cy="127.9" r="0.6" fill="#1c7cbd"/>
<circle cx="79.4" cy="122.3" r="0.6" fill="#1c7cbd"/>
<circle cx="65.9" cy="127.9" r="0.6" fill="#1c7cbd"/>
<circle cx="77.4" cy="128.3" r="0.6" fill="#1c7cbd"/>
<circle cx="81.7" cy="103.4" r="0.6" fill="#1c7cbd"/>
<circle cx="75.3" cy="125.2" r="0.6" fill="#1c7cbd"/>
<circle cx="79.8" cy="124.8" r="0.6" fill="#1c7cbd"/>
<circle cx="60.8" cy="127.9" r="0.6" fill="#1c7cbd"/>
<circle cx="76.9" cy="128.3" r="0.6" fill="#1c7cbd"/>
<circle cx="79.0" cy="120.0" r="0.6" fill="#1c7cbd"/>
<circle cx="79.5" cy="124.1" r="0.6" fill="#1c7cbd"/>
<circle cx="76.9" cy="122.4" r="0.6" fill="#1c7cbd"/>
<circle cx="72.9" cy="128.9" r="0.6" fill="#1c7cbd"/>
<circle cx="82.1" cy="127.2" r="0.6" fill="#1c7cbd"/>
<circle cx="79.0" cy="125.6" r="0.6" fill="#1c7cbd"/>
<circle cx="72.6" cy="125.7" r="0.6" fill="#1c7cbd"/>
<circle cx="81.9" cy="116.4" r="0.6" fill="#1c7cbd"/>
<circle cx="72.7" cy="125.9" r="0.6" fill="#1c7cbd"/>
<circle cx="77.3" cy="128.4" r="0.6" fill="#1c7cbd"/>
<circle cx="71.4" cy="126.9" r="0.6" fill="#1c7cbd"/>
<circle cx="75.6" cy="123.2" r="0.6" fill="#1c7cbd"/>
<circle cx="79.7" cy="129.1" r="0.6" fill="#1c7cbd"/>
<circle cx="77.6" cy="124.0" r="0.6" fill="#1c7cbd"/>
<circle cx="80.8" cy="121.1" r="0.6" fill="#1c7cbd"/>
<circle cx="67.1" cy="129.2" r="0.6" fill="#1c7cbd"/>
<circle cx="76.9" cy="126.0" r="0.6" fill="#1c7cbd"/>
<circle cx="78.6" cy="128.6" r="0.6" fill="#1c7cbd"/>
<circle cx="80.5" cy="121.7" r="0.6" fill="#1c7cbd"/>
<circle cx="73.3" cy="128.3" r="0.6" fill="#1c7cbd"/>
<circle cx="81.6" cy="118.1" r="0.6" fill="#1c7cbd"/>
<circle cx="73.8" cy="129.0" r="0.6" fill="#1c7cbd"/>
<circle cx="77.2" cy="122.1" r="0.6" fill="#1c7cbd"/>
<circle cx="70.0" cy="128.5" r="0.6" fill="#1c7cbd"/>
<circle cx="78.5" cy="125.9" r="0.6" fill="#1c7cbd"/>
<circle cx="80.9" cy="128.2" r="0.6" fill="#1c7cbd"/>
<circle cx="81.0" cy="122.0" r="0.6" fill="#1c7cbd"/>
<circle cx="79.6" cy="125.5" r="0.6" fill="#1c7cbd"/>
<circle cx="79.2" cy="126.2" r="0.6" fill="#1c7cbd"/>
<circle cx="81.2" cy="129.2" r="0.6" fill="#1c7cbd"/>
<circle cx="49.3" cy="129.1" r="0.6" fill="#1c7cbd"/>
<circle cx="81.5" cy="122.7" r="0.6" fill="#1c7cbd"/>
<circle cx="73.4" cy="129.2" r="0.6" fill="#1c7cbd"/>
<circle cx="77.0" cy="128.2" r="0.6" fill="#1c7cbd"/>
<circle cx="78.0" cy="129.4" r="0.6" fill="#1c7cbd"/>
<circle cx="81.9" cy="95.3" r="0.6" fill="#1c7cbd"/>
<circle cx="70.8" cy="128.5" r="0.6" fill="#1c7cbd"/>
<circle cx="77.4" cy="128.5" r="0.6" fill="#1c7cbd"/>
<circle cx="73.6" cy="128.4" r="0.6" fill="#1c7cbd"/>
<circle cx="65.7" cy="128.0" r="0.6" fill="#1c7cbd"/>
<circle cx="72.5" cy="123.7" r="0.6" fill="#1c7cbd"/>
<circle cx="80.5" cy="129.3" r="0.6" fill="#1c7cbd"/>
<circle cx="80.8" cy="128.3" r="0.6" fill="#1c7cbd"/>
<circle cx="81.6" cy="129.1" r="0.6" fill="#1c7cbd"/>
<circle cx="77.5" cy="122.5" r="0.6" fill="#1c7cbd"/>
<circle cx="78.7" cy="117.4" r="0.6" fill="#1c7cbd"/>
<circle cx="68.6" cy="129.4" r="0.6" fill="#1c7cbd"/>
<circle cx="77.0" cy="127.9" r="0.6" fill="#1c7cbd"/>
<circle cx="81.4" cy="108.1" r="0.6" fill="#1c7cbd"/>
<circle cx="80.4" cy="124.8" r="0.6" fill="#1c7cbd"/>
<circle cx="76.4" cy="120.5" r="0.6" fill="#1c7cbd"/>
<circle cx="75.9" cy="128.2" r="0.6" fill="#1c7cbd"/>
<circle cx="78.8" cy="128.8" r="0.6" fill="#1c7cbd"/>
<circle cx="63.2" cy="124.8" r="0.6" fill="#1c7cbd"/>
<circle cx="80.7" cy="129.3" r="0.6" fill="#1c7cbd"/>
<circle cx="80.4" cy="127.1" r="0.6" fill="#1c7cbd"/>
<circle cx="69.0" cy="126.5" r="0.6" fill="#1c7cbd"/>
<circle cx="71.9" cy="129.4" r="0.6" fill="#1c7cbd"/>
<circle cx="73.4" cy="127.1" r="0.6" fill="#1c7cbd"/>
<circle cx="76.3" cy="117.6" r="0.6" fill="#1c7cbd"/>
<circle cx="81.8" cy="128.4" r="0.6" fill="#1c7cbd"/>
<circle cx="74.2" cy="123.5" r="0.6" fill="#1c7cbd"/>
<circle cx="75.8" cy="128.6" r="0.6" fill="#1c7cbd"/>
<circle cx="77.1" cy="125.0" r="0.6" fill="#1c7cbd"/>
<circle cx="81.5" cy="126.8" r="0.6" fill="#1c7cbd"/>
<circle cx="80.4" cy="128.8" r="0.6" fill="#1c7cbd"/>
<circle cx="78.4" cy="128.8" r="0.6" fill="#1c7cbd"/>
<circle cx="80.6" cy="128.6" r="0.6" fill="#1c7cbd"/>
<circle cx="75.8" cy="129.5" r="0.6" fill="#1c7cbd"/>
<circle cx="75.0" cy="129.0" r="0.6" fill="#1c7cbd"/>
<circle cx="81.9" cy="110.2" r="0.6" fill="#1c7cbd"/>
<circle cx="80.7" cy="113.5" r="0.6" fill="#1c7cbd"/>
<circle cx="70.8" cy="126.3" r="0.6" fill="#1c7cbd"/>
<circle cx="81.3" cy="125.6" r="0.6" fill="#1c7cbd"/>
<circle cx="81.5" cy="111.4" r="0.6" fill="#1c7cbd"/>
<circle cx="71.7" cy="127.9" r="0.6" fill="#1c7cbd"/>
<circle cx="78.7" cy="127.8" r="0.6" fill="#1c7cbd"/>
<circle cx="72.4" cy="128.4" r="0.6" fill="#1c7cbd"/>
<circle cx="76.6" cy="129.0" r="0.6" fill="#1c7cbd"/>
<circle cx="80.7" cy="129.2" r="0.6" fill="#1c7cbd"/>
<circle cx="75.1" cy="127.6" r="0.6" fill="#1c7cbd"/>
<circle cx="81.2" cy="116.2" r="0.6" fill="#1c7cbd"/>
<circle cx="80.4" cy="126.6" r="0.6" fill="#1c7cbd"/>
<circle cx="81.2" cy="127.5" r="0.6" fill="#1c7cbd"/>
<circle cx="71.8" cy="128.8" r="0.6" fill="#1c7cbd"/>
<circle cx="81.1" cy="125.2" r="0.6" fill="#1c7cbd"/>
<circle cx="80.0" cy="117.5" r="0.6" fill="#1c7cbd"/>
<circle cx="81.4" cy="103.6" r="0.6" fill="#1c7cbd"/>
<circle cx="81.8" cy="113.3" r="0.6" fill="#1c7cbd"/>
<circle cx="75.9" cy="128.9" r="0.6" fill="#1c7cbd"/>
<circle cx="78.5" cy="128.2" r="0.6" fill="#1c7cbd"/>
<circle cx="80.4" cy="128.2" r="0.6" fill="#1c7cbd"/>
<circle cx="79.6" cy="106.8" r="0.6" fill="#1c7cbd"/>
<circle cx="47.0" cy="127.3" r="0.6" fill="#1c7cbd"/>
<circle cx="81.5" cy="127.2" r="0.6" fill="#1c7cbd"/>
<circle cx="69.4" cy="129.4" r="0.6" fill="#1c7cbd"/>
<circle cx="74.8" cy="128.7" r="0.6" fill="#1c7cbd"/>
<circle cx="60.5" cy="129.5" r="0.6" fill="#1c7cbd"/>
<circle cx="72.9" cy="128.7" r="0.6" fill="#1c7cbd"/>
<circle cx="81.3" cy="129.5" r="0.6" fill="#1c7cbd"/>
<circle cx="72.1" cy="128.3" r="0.6" fill="#1c7cbd"/>
<circle cx="80.9" cy="126.0" r="0.6" fill="#1c7cbd"/>
<circle cx="68.5" cy="129.2" r="0.6" fill="#1c7cbd"/>
<circle cx="77.4" cy="129.0" r="0.6" fill="#1c7cbd"/>
<circle cx="81.0" cy="120.4" r="0.6" fill="#1c7cbd"/>
<circle cx="75.1" cy="129.0" r="0.6" fill="#1c7cbd"/>
<circle cx="81.6" cy="128.9" r="0.6" fill="#1c7cbd"/>
<circle cx="76.8" cy="127.4" r="0.6" fill="#1c7cbd"/>
<circle cx="80.3" cy="128.2" r="0.6" fill="#1c7cbd"/>
<circle cx="76.8" cy="125.7" r="0.6" fill="#1c7cbd"/>
<circle cx="72.7" cy="127.9" r="0.6" fill="#1c7cbd"/>
<circle cx="80.8" cy="129.1" r="0.6" fill="#1c7cbd"/>
<circle cx="74.7" cy="128.3" r="0.6" fill="#1c7cbd"/>
<circle cx="74.9" cy="129.4" r="0.6" fill="#1c7cbd"/>
<circle cx="72.8" cy="128.8" r="0.6" fill="#1c7cbd"/>
<circle cx="71.8" cy="126.3" r="0.6" fill="#1c7cbd"/>
<circle cx="78.3" cy="129.4" r="0.6" fill="#1c7cbd"/>
<circle cx="68.6" cy="128.7" r="0.6" fill="#1c7cbd"/>
<circle cx="70.6" cy="129.1" r="0.6" fill="#1c7cbd"/>
<circle cx="80.9" cy="118.5" r="0.6" fill="#1c7cbd"/>
<circle cx="79.5" cy="128.6" r="0.6" fill="#1c7cbd"/>
<circle cx="79.5" cy="125.2" r="0.6" fill="#1c7cbd"/>
<circle cx="82.1" cy="123.9" r="0.6" fill="#1c7cbd"/>
<circle cx="78.8" cy="126.4" r="0.6" fill="#1c7cbd"/>
<circle cx="81.4" cy="121.1" r="0.6" fill="#1c7cbd"/>
<circle cx="72.6" cy="126.0" r="0.6" fill="#1c7cbd"/>
<circle cx="79.9" cy="123.1" r="0.6" fill="#1c7cbd"/>
<circle cx="79.4" cy="123.0" r="0.6" fill="#1c7cbd"/>
<circle cx="81.7" cy="114.8" r="0.6" fill="#1c7cbd"/>
<circle cx="64.8" cy="128.8" r="0.6" fill="#1c7cbd"/>
<circle cx="78.1" cy="126.7" r="0.6" fill="#1c7cbd"/>
<circle cx="77.8" cy="129.4" r="0.6" fill="#1c7cbd"/>
<circle cx="62.9" cy="129.3" r="0.6" fill="#1c7cbd"/>
<circle cx="81.0" cy="128.8" r="0.6" fill="#1c7cbd"/>
<circle cx="80.5" cy="119.9" r="0.6" fill="#1c7cbd"/>
<circle cx="81.9" cy="128.8" r="0.6" fill="#1c7cbd"/>
<circle cx="75.4" cy="129.0" r="0.6" fill="#1c7cbd"/>
<circle cx="82.0" cy="122.6" r="0.6" fill="#1c7cbd"/>
<circle cx="77.3" cy="127.1" r="0.6" fill="#1c7cbd"/>
<circle cx="75.3" cy="129.2" r="0.6" fill="#1c7cbd"/>
<circle cx="70.7" cy="127.7" r="0.6" fill="#1c7cbd"/>
<circle cx="81.8" cy="128.5" r="0.6" fill="#1c7cbd"/>
<circle cx="78.3" cy="126.8" r="0.6" fill="#1c7cbd"/>
<circle cx="80.3" cy="128.8" r="0.6" fill="#1c7cbd"/>
<circle cx="79.2" cy="128.8" r="0.6" fill="#1c7cbd"/>
<circle cx="77.1" cy="123.2" r="0.6" fill="#1c7cbd"/>
<circle cx="81.2" cy="124.0" r="0.6" fill="#1c7cbd"/>
<circle cx="74.4" cy="129.1" r="0.6" fill="#1c7cbd"/>
<circle cx="72.3" cy="124.8" r="0.6" fill="#1c7cbd"/>
<circle cx="79.3" cy="127.0" r="0.6" fill="#1c7cbd"/>
<circle cx="71.8" cy="128.3" r="0.6" fill="#1c7cbd"/>
<circle cx="79.3" cy="116.5" r="0.6" fill="#1c7cbd"/>
<circle cx="73.7" cy="128.7" r="0.6" fill="#1c7cbd"/>
<circle cx="80.6" cy="127.2" r="0.6" fill="#1c7cbd"/>
<circle cx="78.9" cy="112.5" r="0.6" fill="#1c7cbd"/>
<circle cx="73.0" cy="125.0" r="0.6" fill="#1c7cbd"/>
<circle cx="72.6" cy="126.2" r="0.6" fill="#1c7cbd"/>
<circle cx="81.8" cy="124.3" r="0.6" fill="#1c7cbd"/>
<circle cx="64.4" cy="126.8" r="0.6" fill="#1c7cbd"/>
<circle cx="80.5" cy="126.4" r="0.6" fill="#1c7cbd"/>
<circle cx="76.5" cy="128.2" r="0.6" fill="#1c7cbd"/>
<circle cx="77.9" cy="129.2" r="0.6" fill="#1c7cbd"/>
<circle cx="78.9" cy="126.5" r="0.6" fill="#1c7cbd"/>
<circle cx="82.0" cy="128.4" r="0.6" fill="#1c7cbd"/>
<circle cx="62.5" cy="128.1" r="0.6" fill="#1c7cbd"/>
<circle cx="66.6" cy="128.4" r="0.6" fill="#1c7cbd"/>
<circle cx="72.8" cy="125.6" r="0.6" fill="#1c7cbd"/>
<circle cx="70.0" cy="129.5" r="0.6" fill="#1c7cbd"/>
<circle cx="76.3" cy="128.6" r="0.6" fill="#1c7cbd"/>
<circle cx="75.7" cy="128.7" r="0.6" fill="#1c7cbd"/>
<circle cx="77.7" cy="120.4" r="0.6" fill="#1c7cbd"/>
<circle cx="76.7" cy="128.6" r="0.6" fill="#1c7cbd"/>
<circle cx="78.0" cy="127.4" r="0.6" fill="#1c7cbd"/>
<circle cx="65.2" cy="129.1" r="0.6" fill="#1c7cbd"/>
<circle cx="80.1" cy="124.0" r="0.6" fill="#1c7cbd"/>
<circle cx="81.4" cy="123.5" r="0.6" fill="#1c7cbd"/>
<circle cx="64.6" cy="128.8" r="0.6" fill="#1c7cbd"/>
<circle cx="80.3" cy="126.0" r="0.6" fill="#1c7cbd"/>
<circle cx="77.8" cy="128.9" r="0.6" fill="#1c7cbd"/>
<circle cx="81.4" cy="128.6" r="0.6" fill="#1c7cbd"/>
<circle cx="80.2" cy="126.7" r="0.6" fill="#1c7cbd"/>
<circle cx="80.2" cy="128.0" r="0.6" fill="#1c7cbd"/>
<circle cx="81.6" cy="124.0" r="0.6" fill="#1c7cbd"/>
<circle cx="71.8" cy="128.0" r="0.6" fill="#1c7cbd"/>
<circle cx="77.4" cy="126.0" r="0.6" fill="#1c7cbd"/>
<circle cx="80.8" cy="122.0" r="0.6" fill="#1c7cbd"/>
<circle cx="78.6" cy="126.2" r="0.6" fill="#1c7cbd"/>
<circle cx="76.8" cy="127.6" r="0.6" fill="#1c7cbd"/>
<circle cx="80.0" cy="128.1" r="0.6" fill="#1c7cbd"/>
<circle cx="80.7" cy="125.3" r="0.6" fill="#1c7cbd"/>
<circle cx="79.4" cy="125.4" r="0.6" fill="#1c7cbd"/>
<circle cx="82.0" cy="126.2" r="0.6" fill="#1c7cbd"/>
<circle cx="71.0" cy="129.1" r="0.6" fill="#1c7cbd"/>
<circle cx="77.5" cy="127.2" r="0.6" fill="#1c7cbd"/>
<circle cx="80.2" cy="105.8" r="0.6" fill="#1c7cbd"/>
<circle cx="80.1" cy="121.6" r="0.6" fill="#1c7cbd"/>
<circle cx="81.1" cy="129.1" r="0.6" fill="#1c7cbd"/>
<circle cx="70.6" cy="128.7" r="0.6" fill="#1c7cbd"/>
<circle cx="81.7" cy="126.0" r="0.6" fill="#1c7cbd"/>
<circle cx="78.9" cy="123.8" r="0.6" fill="#1c7cbd"/>
<circle cx="81.5" cy="127.8" r="0.6" fill="#1c7cbd"/>
<circle cx="64.2" cy="128.2" r="0.6" fill="#1c7cbd"/>
<circle cx="81.2" cy="126.9" r="0.6" fill="#1c7cbd"/>
<circle cx="79.7" cy="124.0" r="0.6" fill="#1c7cbd"/>
<circle cx="76.7" cy="123.8" r="0.6" fill="#1c7cbd"/>
<circle cx="72.5" cy="128.2" r="0.6" fill="#1c7cbd"/>
<circle cx="74.6" cy="126.5" r="0.6" fill="#1c7cbd"/>
<circle cx="74.1" cy="128.1" r="0.6" fill="#1c7cbd"/>
<circle cx="73.5" cy="127.1" r="0.6" fill="#1c7cbd"/>
<circle cx="68.3" cy="129.3" r="0.6" fill="#1c7cbd"/>
<circle cx="70.6" cy="129.5" r="0.6" fill="#1c7cbd"/>
<circle cx="74.0" cy="127.7" r="0.6" fill="#1c7cbd"/>
<circle cx="78.2" cy="116.9" r="0.6" fill="#1c7cbd"/>
<circle cx="77.3" cy="127.7" r="0.6" fill="#1c7cbd"/>
<circle cx="73.5" cy="125.5" r="0.6" fill="#1c7cbd"/>
<circle cx="76.9" cy="128.0" r="0.6" fill="#1c7cbd"/>
<circle cx="78.7" cy="126.9" r="0.6" fill="#1c7cbd"/>
<circle cx="74.9" cy="128.7" r="0.6" fill="#1c7cbd"/>
<circle cx="79.3" cy="125.8" r="0.6" fill="#1c7cbd"/>
<circle cx="79.4" cy="127.7" r="0.6" fill="#1c7cbd"/>
<circle cx="73.4" cy="125.8" r="0.6" fill="#1c7cbd"/>
<circle cx="78.2" cy="127.3" r="0.6" fill="#1c7cbd"/>
<circle cx="81.0" cy="127.3" r="0.6" fill="#1c7cbd"/>
<circle cx="81.2" cy="123.9" r="0.6" fill="#1c7cbd"/>
<circle cx="77.2" cy="129.2" r="0.6" fill="#1c7cbd"/>
<circle cx="67.9" cy="129.0" r="0.6" fill="#1c7cbd"/>
<circle cx="71.7" cy="126.6" r="0.6" fill="#1c7cbd"/>
<circle cx="64.2" cy="129.3" r="0.6" fill="#1c7cbd"/>
<circle cx="79.0" cy="119.0" r="0.6" fill="#1c7cbd"/>
<circle cx="82.0" cy="129.1" r="0.6" fill="#1c7cbd"/>
<circle cx="77.4" cy="127.2" r="0.6" fill="#1c7cbd"/>
<circle cx="67.9" cy="127.7" r="0.6" fill="#1c7cbd"/>
<circle cx="77.8" cy="106.8" r="0.6" fill="#1c7cbd"/>
<circle cx="78.0" cy="126.8" r="0.6" fill="#1c7cbd"/>
<circle cx="75.6" cy="128.2" r="0.6" fill="#1c7cbd"/>
<circle cx="79.6" cy="125.1" r="0.6" fill="#1c7cbd"/>
<circle cx="79.7" cy="115.0" r="0.6" fill="#1c7cbd"/>
<circle cx="75.8" cy="127.5" r="0.6" fill="#1c7cbd"/>
<circle cx="81.5" cy="126.3" r="0.6" fill="#1c7cbd"/>
<circle cx="79.2" cy="125.8" r="0.6" fill="#1c7cbd"/>
<circle cx="77.3" cy="122.5" r="0.6" fill="#1c7cbd"/>
<circle cx="63.4" cy="128.8" r="0.6" fill="#1c7cbd"/>
<circle cx="78.8" cy="125.3" r="0.6" fill="#1c7cbd"/>
<circle cx="51.0" cy="129.1" r="0.6" fill="#1c7cbd"/>
<circle cx="77.9" cy="123.4" r="0.6" fill="#1c7cbd"/>
<circle cx="81.1" cy="127.1" r="0.6" fill="#1c7cbd"/>
<circle cx="60.6" cy="127.9" r="0.6" fill="#1c7cbd"/>
<circle cx="78.1" cy="129.1" r="0.6" fill="#1c7cbd"/>
<circle cx="69.5" cy="128.0" r="0.6" fill="#1c7cbd"/>
<circle cx="72.5" cy="121.5" r="0.6" fill="#1c7cbd"/>
<circle cx="69.8" cy="128.8" r="0.6" fill="#1c7cbd"/>
<circle cx="81.1" cy="127.3" r="0.6" fill="#1c7cbd"/>
<circle cx="78.1" cy="126.9" r="0.6" fill="#1c7cbd"/>
<circle cx="80.9" cy="128.3" r="0.6" fill="#1c7cbd"/>
<circle cx="76.5" cy="126.8" r="0.6" fill="#1c7cbd"/>
<circle cx="79.7" cy="104.7" r="0.6" fill="#1c7cbd"/>
<circle cx="76.4" cy="129.4" r="0.6" fill="#1c7cbd"/>
<circle cx="79.1" cy="122.6" r="0.6" fill="#1c7cbd"/>
<circle cx="80.0" cy="123.4" r="0.6" fill="#1c7cbd"/>
<circle cx="82.1" cy="126.7" r="0.6" fill="#1c7cbd"/>
<circle cx="71.8" cy="128.1" r="0.6" fill="#1c7cbd"/>
<circle cx="75.9" cy="128.9" r="0.6" fill="#1c7cbd"/>
<circle cx="78.2" cy="126.4" r="0.6" fill="#1c7cbd"/>
<circle cx="80.4" cy="123.7" r="0.6" fill="#1c7cbd"/>
<circle cx="77.9" cy="108.4" r="0.6" fill="#1c7cbd"/>
<circle cx="77.3" cy="127.7" r="0.6" fill="#1c7cbd"/>
<circle cx="81.4" cy="128.4" r="0.6" fill="#1c7cbd"/>
<circle cx="74.1" cy="129.3" r="0.6" fill="#1c7cbd"/>
<circle cx="81.5" cy="128.2" r="0.6" fill="#1c7cbd"/>
<circle cx="78.0" cy="123.1" r="0.6" fill="#1c7cbd"/>
<circle cx="76.8" cy="124.5" r="0.6" fill="#1c7cbd"/>
<circle cx="81.7" cy="129.4" r="0.6" fill="#1c7cbd"/>
<circle cx="73.8" cy="128.7" r="0.6" fill="#1c7cbd"/>
<circle cx="75.1" cy="128.5" r="0.6" fill="#1c7cbd"/>
<circle cx="81.1" cy="127.5" r="0.6" fill="#1c7cbd"/>
<circle cx="81.5" cy="113.5" r="0.6" fill="#1c7cbd"/>
<circle cx="77.2" cy="128.1" r="0.6" fill="#1c7cbd"/>
<circle cx="78.8" cy="127.5" r="0.6" fill="#1c7cbd"/>
<circle cx="81.8" cy="113.6" r="0.6" fill="#1c7cbd"/>
<circle cx="77.2" cy="119.1" r="0.6" fill="#1c7cbd"/>
<circle cx="78.9" cy="125.4" r="0.6" fill="#1c7cbd"/>
<circle cx="80.5" cy="129.2" r="0.6" fill="#1c7cbd"/>
<circle cx="67.1" cy="127.3" r="0.6" fill="#1c7cbd"/>
<circle cx="80.0" cy="117.6" r="0.6" fill="#1c7cbd"/>
<circle cx="72.6" cy="128.9" r="0.6" fill="#1c7cbd"/>
<circle cx="76.9" cy="119.5" r="0.6" fill="#1c7cbd"/>
<circle cx="78.3" cy="118.0" r="0.6" fill="#1c7cbd"/>
<circle cx="80.5" cy="126.7" r="0.6" fill="#1c7cbd"/>
<circle cx="76.8" cy="118.4" r="0.6" fill="#1c7cbd"/>
<circle cx="69.1" cy="112.8" r="0.6" fill="#1c7cbd"/>
<circle cx="72.4" cy="111.4" r="0.6" fill="#1c7cbd"/>
<circle cx="67.8" cy="122.5" r="0.6" fill="#1c7cbd"/>
<circle cx="70.0" cy="121.6" r="0.6" fill="#1c7cbd"/>
<circle cx="81.6" cy="115.0" r="0.6" fill="#1c7cbd"/>
<circle cx="73.8" cy="121.3" r="0.6" fill="#1c7cbd"/>
<circle cx="73.3" cy="117.2" r="0.6" fill="#1c7cbd"/>
<circle cx="70.8" cy="123.0" r="0.6" fill="#1c7cbd"/>
<circle cx="65.5" cy="116.2" r="0.6" fill="#1c7cbd"/>
<circle cx="69.9" cy="120.8" r="0.6" fill="#1c7cbd"/>
<circle cx="66.8" cy="121.6" r="0.6" fill="#1c7cbd"/>
<circle cx="67.7" cy="124.3" r="0.6" fill="#1c7cbd"/>
<circle cx="75.8" cy="116.7" r="0.6" fill="#1c7cbd"/>
<circle cx="66.2" cy="117.1" r="0.6" fill="#1c7cbd"/>
<circle cx="65.0" cy="122.6" r="0.6" fill="#1c7cbd"/>
<circle cx="79.0" cy="119.4" r="0.6" fill="#1c7cbd"/>
<circle cx="71.6" cy="111.3" r="0.6" fill="#1c7cbd"/>
<circle cx="78.4" cy="119.0" r="0.6" fill="#1c7cbd"/>
<circle cx="69.9" cy="114.2" r="0.6" fill="#1c7cbd"/>
<circle cx="70.3" cy="110.6" r="0.6" fill="#1c7cbd"/>
<circle cx="67.1" cy="113.5" r="0.6" fill="#1c7cbd"/>
<circle cx="72.8" cy="119.9" r="0.6" fill="#1c7cbd"/>
<circle cx="71.8" cy="121.7" r="0.6" fill="#1c7cbd"/>
<circle cx="76.6" cy="117.8" r="0.6" fill="#1c7cbd"/>
<circle cx="81.5" cy="47.5" r="0.6" fill="#1c7cbd"/>
<circle cx="80.9" cy="53.2" r="0.6" fill="#1c7cbd"/>
<circle cx="81.8" cy="61.7" r="0.6" fill="#1c7cbd"/>
<circle cx="80.3" cy="84.3" r="0.6" fill="#1c7cbd"/>
<circle cx="78.6" cy="95.6" r="0.6" fill="#1c7cbd"/>
<circle cx="73.2" cy="97.8" r="0.6" fill="#1c7cbd"/>
<circle cx="70.3" cy="99.0" r="0.6" fill="#1c7cbd"/>
<circle cx="66.8" cy="101.2" r="0.6" fill="#1c7cbd"/>
<circle cx="76.8" cy="105.5" r="0.6" fill="#1c7cbd"/>
<circle cx="75.0" cy="109.7" r="0.6" fill="#1c7cbd"/>
<circle cx="63.8" cy="116.8" r="0.6" fill="#1c7cbd"/>
<circle cx="72.1" cy="112.5" r="0.6" fill="#1c7cbd"/>
<circle cx="81.2" cy="73.0" r="0.6" fill="#1c7cbd"/>
<circle cx="81.5" cy="87.1" r="0.6" fill="#1c7cbd"/>
<circle cx="79.7" cy="92.7" r="0.6" fill="#1c7cbd"/>
<circle cx="69.1" cy="104.1" r="0.6" fill="#1c7cbd"/>
<circle cx="55.5" cy="127.2" r="0.6" fill="#1c7cbd"/>
<circle cx="52.6" cy="128.1" r="0.6" fill="#1c7cbd"/>
<circle cx="49.6" cy="128.7" r="0.6" fill="#1c7cbd"/>
<circle cx="58.5" cy="126.1" r="0.6" fill="#1c7cbd"/>
<circle cx="114.2" cy="127.6" r="0.6" fill="#d9351f"/>
<circle cx="98.0" cy="127.6" r="0.6" fill="#d9351f"/>
<circle cx="102.2" cy="128.4" r="0.6" fill="#d9351f"/>
<circle cx="112.1" cy="129.2" r="0.6" fill="#d9351f"/>
<circle cx="100.3" cy="125.2" r="0.6" fill="#d9351f"/>
<circle cx="96.7" cy="118.5" r="0.6" fill="#d9351f"/>
<circle cx="98.2" cy="122.5" r="0.6" fill="#d9351f"/>
<circle cx="101.3" cy="127.6" r="0.6" fill="#d9351f"/>
<circle cx="98.3" cy="128.9" r="0.6" fill="#d9351f"/>
<circle cx="95.6" cy="113.9" r="0.6" fill="#d9351f"/>
<circle cx="97.3" cy="121.9" r="0.6" fill="#d9351f"/>
<circle cx="94.9" cy="122.3" r="0.6" fill="#d9351f"/>
<circle cx="97.9" cy="124.9" r="0.6" fill="#d9351f"/>
<circle cx="97.0" cy="129.0" r="0.6" fill="#d9351f"/>
<circle cx="97.2" cy="127.7" r="0.6" fill="#d9351f"/>
<circle cx="95.1" cy="118.6" r="0.6" fill="#d9351f"/>
<circle cx="96.8" cy="125.7" r="0.6" fill="#d9351f"/>
<circle cx="115.1" cy="126.5" r="0.6" fill="#d9351f"/>
<circle cx="112.9" cy="125.0" r="0.6" fill="#d9351f"/>
<circle cx="95.2" cy="126.7" r="0.6" fill="#d9351f"/>
<circle cx="94.2" cy="118.8" r="0.6" fill="#d9351f"/>
<circle cx="103.5" cy="127.7" r="0.6" fill="#d9351f"/>
<circle cx="98.6" cy="122.7" r="0.6" fill="#d9351f"/>
<circle cx="104.5" cy="128.4" r="0.6" fill="#d9351f"/>
<circle cx="110.5" cy="128.4" r="0.6" fill="#d9351f"/>
<circle cx="102.7" cy="128.6" r="0.6" fill="#d9351f"/>
<circle cx="95.0" cy="108.3" r="0.6" fill="#d9351f"/>
<circle cx="105.6" cy="125.0" r="0.6" fill="#d9351f"/>
<circle cx="94.3" cy="129.1" r="0.6" fill="#d9351f"/>
<circle cx="95.5" cy="127.7" r="0.6" fill="#d9351f"/>
<circle cx="97.1" cy="126.1" r="0.6" fill="#d9351f"/>
<circle cx="94.3" cy="126.0" r="0.6" fill="#d9351f"/>
<circle cx="102.9" cy="128.6" r="0.6" fill="#d9351f"/>
<circle cx="110.1" cy="127.3" r="0.6" fill="#d9351f"/>
<circle cx="105.1" cy="128.4" r="0.6" fill="#d9351f"/>
<circle cx="99.0" cy="122.5" r="0.6" fill="#d9351f"/>
<circle cx="97.7" cy="129.5" r="0.6" fill="#d9351f"/>
<circle cx="109.8" cy="125.4" r="0.6" fill="#d9351f"/>
<circle cx="96.9" cy="129.2" r="0.6" fill="#d9351f"/>
<circle cx="110.9" cy="127.1" r="0.6" fill="#d9351f"/>
<circle cx="94.3" cy="126.9" r="0.6" fill="#d9351f"/>
<circle cx="94.9" cy="115.8" r="0.6" fill="#d9351f"/>
<circle cx="96.0" cy="110.0" r="0.6" fill="#d9351f"/>
<circle cx="106.2" cy="129.2" r="0.6" fill="#d9351f"/>
<circle cx="104.4" cy="127.5" r="0.6" fill="#d9351f"/>
<circle cx="106.1" cy="123.4" r="0.6" fill="#d9351f"/>
<circle cx="96.8" cy="128.8" r="0.6" fill="#d9351f"/>
<circle cx="119.8" cy="128.6" r="0.6" fill="#d9351f"/>
<circle cx="117.5" cy="127.3" r="0.6" fill="#d9351f"/>
<circle cx="105.8" cy="123.2" r="0.6" fill="#d9351f"/>
<circle cx="102.7" cy="126.8" r="0.6" fill="#d9351f"/>
<circle cx="94.4" cy="118.5" r="0.6" fill="#d9351f"/>
<circle cx="98.8" cy="125.1" r="0.6" fill="#d9351f"/>
<circle cx="117.2" cy="129.2" r="0.6" fill="#d9351f"/>
<circle cx="106.6" cy="129.4" r="0.6" fill="#d9351f"/>
<circle cx="104.6" cy="123.2" r="0.6" fill="#d9351f"/>
<circle cx="96.6" cy="123.6" r="0.6" fill="#d9351f"/>
<circle cx="124.8" cy="128.0" r="0.6" fill="#d9351f"/>
<circle cx="100.8" cy="128.0" r="0.6" fill="#d9351f"/>
<circle cx="94.4" cy="125.5" r="0.6" fill="#d9351f"/>
<circle cx="98.6" cy="128.1" r="0.6" fill="#d9351f"/>
<circle cx="97.2" cy="128.5" r="0.6" fill="#d9351f"/>
<circle cx="104.8" cy="125.3" r="0.6" fill="#d9351f"/>
<circle cx="96.3" cy="127.4" r="0.6" fill="#d9351f"/>
<circle cx="100.3" cy="126.3" r="0.6" fill="#d9351f"/>
<circle cx="118.2" cy="128.7" r="0.6" fill="#d9351f"/>
<circle cx="97.0" cy="113.9" r="0.6" fill="#d9351f"/>
<circle cx="95.3" cy="122.5" r="0.6" fill="#d9351f"/>
<circle cx="97.5" cy="117.8" r="0.6" fill="#d9351f"/>
<circle cx="100.9" cy="122.1" r="0.6" fill="#d9351f"/>
<circle cx="95.5" cy="120.4" r="0.6" fill="#d9351f"/>
<circle cx="102.0" cy="126.6" r="0.6" fill="#d9351f"/>
<circle cx="106.8" cy="123.6" r="0.6" fill="#d9351f"/>
<circle cx="95.0" cy="126.5" r="0.6" fill="#d9351f"/>
<circle cx="97.9" cy="127.9" r="0.6" fill="#d9351f"/>
<circle cx="94.5" cy="126.5" r="0.6" fill="#d9351f"/>
<circle cx="95.8" cy="119.8" r="0.6" fill="#d9351f"/>
<circle cx="99.2" cy="128.8" r="0.6" fill="#d9351f"/>
<circle cx="97.4" cy="125.1" r="0.6" fill="#d9351f"/>
<circle cx="97.9" cy="128.3" r="0.6" fill="#d9351f"/>
<circle cx="94.6" cy="129.4" r="0.6" fill="#d9351f"/>
<circle cx="136.8" cy="127.8" r="0.6" fill="#d9351f"/>
<circle cx="94.7" cy="118.2" r="0.6" fill="#d9351f"/>
<circle cx="128.6" cy="128.4" r="0.6" fill="#d9351f"/>
<circle cx="94.9" cy="123.6" r="0.6" fill="#d9351f"/>
<circle cx="98.9" cy="128.2" r="0.6" fill="#d9351f"/>
<circle cx="100.8" cy="129.5" r="0.6" fill="#d9351f"/>
<circle cx="116.2" cy="127.5" r="0.6" fill="#d9351f"/>
<circle cx="102.6" cy="117.2" r="0.6" fill="#d9351f"/>
<circle cx="103.3" cy="128.3" r="0.6" fill="#d9351f"/>
<circle cx="96.4" cy="128.4" r="0.6" fill="#d9351f"/>
<circle cx="94.1" cy="115.5" r="0.6" fill="#d9351f"/>
<circle cx="110.1" cy="128.6" r="0.6" fill="#d9351f"/>
<circle cx="95.7" cy="121.2" r="0.6" fill="#d9351f"/>
<circle cx="110.4" cy="122.7" r="0.6" fill="#d9351f"/>
<circle cx="95.5" cy="116.8" r="0.6" fill="#d9351f"/>
<circle cx="109.6" cy="125.8" r="0.6" fill="#d9351f"/>
<circle cx="97.4" cy="128.1" r="0.6" fill="#d9351f"/>
<circle cx="109.3" cy="128.4" r="0.6" fill="#d9351f"/>
<circle cx="98.0" cy="124.2" r="0.6" fill="#d9351f"/>
<circle cx="98.0" cy="117.7" r="0.6" fill="#d9351f"/>
<circle cx="96.3" cy="129.2" r="0.6" fill="#d9351f"/>
<circle cx="101.3" cy="124.6" r="0.6" fill="#d9351f"/>
<circle cx="109.1" cy="126.0" r="0.6" fill="#d9351f"/>
<circle cx="114.8" cy="123.5" r="0.6" fill="#d9351f"/>
<circle cx="99.9" cy="125.6" r="0.6" fill="#d9351f"/>
<circle cx="95.4" cy="126.5" r="0.6" fill="#d9351f"/>
<circle cx="101.6" cy="129.1" r="0.6" fill="#d9351f"/>
<circle cx="104.2" cy="128.8" r="0.6" fill="#d9351f"/>
<circle cx="99.1" cy="108.4" r="0.6" fill="#d9351f"/>
<circle cx="94.7" cy="129.1" r="0.6" fill="#d9351f"/>
<circle cx="99.0" cy="128.2" r="0.6" fill="#d9351f"/>
<circle cx="105.3" cy="129.5" r="0.6" fill="#d9351f"/>
<circle cx="110.2" cy="124.4" r="0.6" fill="#d9351f"/>
<circle cx="107.6" cy="127.8" r="0.6" fill="#d9351f"/>
<circle cx="96.8" cy="121.5" r="0.6" fill="#d9351f"/>
<circle cx="100.3" cy="126.5" r="0.6" fill="#d9351f"/>
<circle cx="97.6" cy="125.5" r="0.6" fill="#d9351f"/>
<circle cx="103.6" cy="122.2" r="0.6" fill="#d9351f"/>
<circle cx="114.6" cy="129.1" r="0.6" fill="#d9351f"/>
<circle cx="97.0" cy="125.3" r="0.6" fill="#d9351f"/>
<circle cx="101.2" cy="127.3" r="0.6" fill="#d9351f"/>
<circle cx="95.8" cy="128.8" r="0.6" fill="#d9351f"/>
<circle cx="97.4" cy="125.2" r="0.6" fill="#d9351f"/>
<circle cx="125.3" cy="126.1" r="0.6" fill="#d9351f"/>
<circle cx="111.6" cy="120.6" r="0.6" fill="#d9351f"/>
<circle cx="122.8" cy="128.0" r="0.6" fill="#d9351f"/>
<circle cx="108.7" cy="129.3" r="0.6" fill="#d9351f"/>
<circle cx="103.9" cy="125.7" r="0.6" fill="#d9351f"/>
<circle cx="97.0" cy="123.4" r="0.6" fill="#d9351f"/>
<circle cx="120.9" cy="128.4" r="0.6" fill="#d9351f"/>
<circle cx="103.1" cy="128.0" r="0.6" fill="#d9351f"/>
<circle cx="97.6" cy="114.7" r="0.6" fill="#d9351f"/>
<circle cx="94.1" cy="127.5" r="0.6" fill="#d9351f"/>
<circle cx="103.9" cy="127.1" r="0.6" fill="#d9351f"/>
<circle cx="94.7" cy="119.9" r="0.6" fill="#d9351f"/>
<circle cx="98.0" cy="123.8" r="0.6" fill="#d9351f"/>
<circle cx="98.7" cy="124.8" r="0.6" fill="#d9351f"/>
<circle cx="101.3" cy="127.0" r="0.6" fill="#d9351f"/>
<circle cx="95.0" cy="127.8" r="0.6" fill="#d9351f"/>
<circle cx="113.4" cy="127.8" r="0.6" fill="#d9351f"/>
<circle cx="95.0" cy="112.2" r="0.6" fill="#d9351f"/>
<circle cx="96.5" cy="128.7" r="0.6" fill="#d9351f"/>
<circle cx="100.6" cy="128.0" r="0.6" fill="#d9351f"/>
<circle cx="99.8" cy="124.9" r="0.6" fill="#d9351f"/>
<circle cx="96.2" cy="122.9" r="0.6" fill="#d9351f"/>
<circle cx="95.0" cy="123.2" r="0.6" fill="#d9351f"/>
<circle cx="101.8" cy="129.1" r="0.6" fill="#d9351f"/>
<circle cx="98.5" cy="129.0" r="0.6" fill="#d9351f"/>
<circle cx="99.0" cy="117.4" r="0.6" fill="#d9351f"/>
<circle cx="101.0" cy="123.1" r="0.6" fill="#d9351f"/>
<circle cx="106.4" cy="129.1" r="0.6" fill="#d9351f"/>
<circle cx="135.3" cy="127.9" r="0.6" fill="#d9351f"/>
<circle cx="94.9" cy="113.9" r="0.6" fill="#d9351f"/>
<circle cx="98.3" cy="128.3" r="0.6" fill="#d9351f"/>
<circle cx="122.4" cy="128.2" r="0.6" fill="#d9351f"/>
<circle cx="107.1" cy="129.0" r="0.6" fill="#d9351f"/>
<circle cx="107.1" cy="129.3" r="0.6" fill="#d9351f"/>
<circle cx="96.3" cy="125.9" r="0.6" fill="#d9351f"/>
<circle cx="94.0" cy="120.9" r="0.6" fill="#d9351f"/>
<circle cx="96.0" cy="126.7" r="0.6" fill="#d9351f"/>
<circle cx="104.8" cy="127.4" r="0.6" fill="#d9351f"/>
<circle cx="113.3" cy="127.4" r="0.6" fill="#d9351f"/>
<circle cx="112.1" cy="127.5" r="0.6" fill="#d9351f"/>
<circle cx="116.0" cy="125.5" r="0.6" fill="#d9351f"/>
<circle cx="95.5" cy="118.2" r="0.6" fill="#d9351f"/>
<circle cx="97.6" cy="119.6" r="0.6" fill="#d9351f"/>
<circle cx="104.0" cy="122.4" r="0.6" fill="#d9351f"/>
<circle cx="95.1" cy="125.5" r="0.6" fill="#d9351f"/>
<circle cx="105.7" cy="119.0" r="0.6" fill="#d9351f"/>
<circle cx="105.2" cy="129.3" r="0.6" fill="#d9351f"/>
<circle cx="102.1" cy="129.0" r="0.6" fill="#d9351f"/>
<circle cx="100.9" cy="121.1" r="0.6" fill="#d9351f"/>
<circle cx="95.0" cy="106.9" r="0.6" fill="#d9351f"/>
<circle cx="103.9" cy="128.3" r="0.6" fill="#d9351f"/>
<circle cx="95.8" cy="124.7" r="0.6" fill="#d9351f"/>
<circle cx="110.0" cy="127.2" r="0.6" fill="#d9351f"/>
<circle cx="95.0" cy="129.3" r="0.6" fill="#d9351f"/>
<circle cx="94.9" cy="115.4" r="0.6" fill="#d9351f"/>
<circle cx="95.7" cy="122.9" r="0.6" fill="#d9351f"/>
<circle cx="96.9" cy="121.0" r="0.6" fill="#d9351f"/>
<circle cx="98.1" cy="128.5" r="0.6" fill="#d9351f"/>
<circle cx="112.3" cy="127.7" r="0.6" fill="#d9351f"/>
<circle cx="104.3" cy="123.0" r="0.6" fill="#d9351f"/>
<circle cx="120.2" cy="129.5" r="0.6" fill="#d9351f"/>
<circle cx="97.6" cy="128.4" r="0.6" fill="#d9351f"/>
<circle cx="100.1" cy="118.1" r="0.6" fill="#d9351f"/>
<circle cx="108.2" cy="129.4" r="0.6" fill="#d9351f"/>
<circle cx="95.7" cy="115.6" r="0.6" fill="#d9351f"/>
<circle cx="104.0" cy="127.5" r="0.6" fill="#d9351f"/>
<circle cx="99.6" cy="128.5" r="0.6" fill="#d9351f"/>
<circle cx="110.4" cy="128.2" r="0.6" fill="#d9351f"/>
<circle cx="112.2" cy="127.3" r="0.6" fill="#d9351f"/>
<circle cx="94.6" cy="125.9" r="0.6" fill="#d9351f"/>
<circle cx="96.1" cy="111.8" r="0.6" fill="#d9351f"/>
<circle cx="101.8" cy="129.3" r="0.6" fill="#d9351f"/>
<circle cx="95.5" cy="125.8" r="0.6" fill="#d9351f"/>
<circle cx="99.5" cy="124.5" r="0.6" fill="#d9351f"/>
<circle cx="98.2" cy="126.7" r="0.6" fill="#d9351f"/>
<circle cx="94.0" cy="121.2" r="0.6" fill="#d9351f"/>
<circle cx="97.5" cy="129.4" r="0.6" fill="#d9351f"/>
<circle cx="99.3" cy="104.2" r="0.6" fill="#d9351f"/>
<circle cx="94.3" cy="128.0" r="0.6" fill="#d9351f"/>
<circle cx="103.7" cy="128.2" r="0.6" fill="#d9351f"/>
<circle cx="96.7" cy="124.4" r="0.6" fill="#d9351f"/>
<circle cx="96.6" cy="123.2" r="0.6" fill="#d9351f"/>
<circle cx="100.5" cy="112.7" r="0.6" fill="#d9351f"/>
<circle cx="136.8" cy="129.5" r="0.6" fill="#d9351f"/>
<circle cx="101.2" cy="122.1" r="0.6" fill="#d9351f"/>
<circle cx="112.1" cy="126.0" r="0.6" fill="#d9351f"/>
<circle cx="102.8" cy="125.0" r="0.6" fill="#d9351f"/>
<circle cx="97.9" cy="127.3" r="0.6" fill="#d9351f"/>
<circle cx="107.9" cy="123.2" r="0.6" fill="#d9351f"/>
<circle cx="118.6" cy="127.5" r="0.6" fill="#d9351f"/>
<circle cx="97.1" cy="119.2" r="0.6" fill="#d9351f"/>
<circle cx="105.8" cy="127.0" r="0.6" fill="#d9351f"/>
<circle cx="102.8" cy="127.6" r="0.6" fill="#d9351f"/>
<circle cx="101.0" cy="126.8" r="0.6" fill="#d9351f"/>
<circle cx="94.5" cy="125.7" r="0.6" fill="#d9351f"/>
<circle cx="97.4" cy="98.2" r="0.6" fill="#d9351f"/>
<circle cx="99.7" cy="126.9" r="0.6" fill="#d9351f"/>
<circle cx="96.4" cy="127.4" r="0.6" fill="#d9351f"/>
<circle cx="97.7" cy="128.5" r="0.6" fill="#d9351f"/>
<circle cx="94.0" cy="109.9" r="0.6" fill="#d9351f"/>
<circle cx="99.2" cy="126.0" r="0.6" fill="#d9351f"/>
<circle cx="101.3" cy="127.7" r="0.6" fill="#d9351f"/>
<circle cx="95.5" cy="128.9" r="0.6" fill="#d9351f"/>
<circle cx="97.1" cy="126.8" r="0.6" fill="#d9351f"/>
<circle cx="105.4" cy="126.6" r="0.6" fill="#d9351f"/>
<circle cx="118.4" cy="128.8" r="0.6" fill="#d9351f"/>
<circle cx="116.4" cy="127.8" r="0.6" fill="#d9351f"/>
<circle cx="94.6" cy="127.7" r="0.6" fill="#d9351f"/>
<circle cx="101.6" cy="108.1" r="0.6" fill="#d9351f"/>
<circle cx="97.8" cy="119.5" r="0.6" fill="#d9351f"/>
<circle cx="98.8" cy="117.0" r="0.6" fill="#d9351f"/>
<circle cx="94.5" cy="123.5" r="0.6" fill="#d9351f"/>
<circle cx="114.2" cy="128.8" r="0.6" fill="#d9351f"/>
<circle cx="96.5" cy="129.3" r="0.6" fill="#d9351f"/>
<circle cx="95.5" cy="126.9" r="0.6" fill="#d9351f"/>
<circle cx="104.7" cy="128.6" r="0.6" fill="#d9351f"/>
<circle cx="98.4" cy="128.1" r="0.6" fill="#d9351f"/>
<circle cx="102.1" cy="120.1" r="0.6" fill="#d9351f"/>
<circle cx="103.1" cy="128.6" r="0.6" fill="#d9351f"/>
<circle cx="105.6" cy="117.7" r="0.6" fill="#d9351f"/>
<circle cx="102.0" cy="129.1" r="0.6" fill="#d9351f"/>
<circle cx="108.6" cy="123.4" r="0.6" fill="#d9351f"/>
<circle cx="97.6" cy="128.5" r="0.6" fill="#d9351f"/>
<circle cx="95.7" cy="123.3" r="0.6" fill="#d9351f"/>
<circle cx="112.3" cy="127.1" r="0.6" fill="#d9351f"/>
<circle cx="116.6" cy="129.0" r="0.6" fill="#d9351f"/>
<circle cx="97.4" cy="119.8" r="0.6" fill="#d9351f"/>
<circle cx="103.2" cy="127.3" r="0.6" fill="#d9351f"/>
<circle cx="104.0" cy="127.8" r="0.6" fill="#d9351f"/>
<circle cx="94.4" cy="124.6" r="0.6" fill="#d9351f"/>
<circle cx="94.3" cy="120.4" r="0.6" fill="#d9351f"/>
<circle cx="97.5" cy="124.8" r="0.6" fill="#d9351f"/>
<circle cx="102.0" cy="128.1" r="0.6" fill="#d9351f"/>
<circle cx="99.4" cy="129.4" r="0.6" fill="#d9351f"/>
<circle cx="116.9" cy="127.9" r="0.6" fill="#d9351f"/>
<circle cx="132.7" cy="129.4" r="0.6" fill="#d9351f"/>
<circle cx="102.3" cy="123.6" r="0.6" fill="#d9351f"/>
<circle cx="97.4" cy="128.8" r="0.6" fill="#d9351f"/>
<circle cx="95.4" cy="128.2" r="0.6" fill="#d9351f"/>
<circle cx="106.8" cy="129.2" r="0.6" fill="#d9351f"/>
<circle cx="108.8" cy="127.9" r="0.6" fill="#d9351f"/>
<circle cx="100.7" cy="124.8" r="0.6" fill="#d9351f"/>
<circle cx="101.1" cy="124.0" r="0.6" fill="#d9351f"/>
<circle cx="102.0" cy="127.6" r="0.6" fill="#d9351f"/>
<circle cx="105.9" cy="128.5" r="0.6" fill="#d9351f"/>
<circle cx="104.9" cy="124.1" r="0.6" fill="#d9351f"/>
<circle cx="107.1" cy="128.3" r="0.6" fill="#d9351f"/>
<circle cx="107.0" cy="117.2" r="0.6" fill="#d9351f"/>
<circle cx="99.2" cy="127.6" r="0.6" fill="#d9351f"/>
<circle cx="100.5" cy="114.3" r="0.6" fill="#d9351f"/>
<circle cx="95.2" cy="129.4" r="0.6" fill="#d9351f"/>
<circle cx="99.6" cy="123.4" r="0.6" fill="#d9351f"/>
<circle cx="107.1" cy="128.0" r="0.6" fill="#d9351f"/>
<circle cx="134.2" cy="129.2" r="0.6" fill="#d9351f"/>
<circle cx="106.4" cy="129.2" r="0.6" fill="#d9351f"/>
<circle cx="94.2" cy="128.1" r="0.6" fill="#d9351f"/>
<circle cx="94.4" cy="123.1" r="0.6" fill="#d9351f"/>
<circle cx="101.1" cy="128.5" r="0.6" fill="#d9351f"/>
<circle cx="118.8" cy="128.7" r="0.6" fill="#d9351f"/>
<circle cx="95.3" cy="127.9" r="0.6" fill="#d9351f"/>
<circle cx="105.7" cy="120.5" r="0.6" fill="#d9351f"/>
<circle cx="95.5" cy="129.3" r="0.6" fill="#d9351f"/>
<circle cx="107.2" cy="128.6" r="0.6" fill="#d9351f"/>
<circle cx="129.6" cy="128.6" r="0.6" fill="#d9351f"/>
<circle cx="102.8" cy="127.6" r="0.6" fill="#d9351f"/>
<circle cx="108.2" cy="127.6" r="0.6" fill="#d9351f"/>
<circle cx="97.4" cy="113.1" r="0.6" fill="#d9351f"/>
<circle cx="94.9" cy="117.9" r="0.6" fill="#d9351f"/>
<circle cx="94.5" cy="120.1" r="0.6" fill="#d9351f"/>
<circle cx="98.4" cy="116.8" r="0.6" fill="#d9351f"/>
<circle cx="94.4" cy="121.9" r="0.6" fill="#d9351f"/>
<circle cx="98.6" cy="113.6" r="0.6" fill="#d9351f"/>
<circle cx="119.6" cy="127.8" r="0.6" fill="#d9351f"/>
<circle cx="96.1" cy="127.2" r="0.6" fill="#d9351f"/>
<circle cx="96.6" cy="125.2" r="0.6" fill="#d9351f"/>
<circle cx="96.2" cy="127.7" r="0.6" fill="#d9351f"/>
<circle cx="106.5" cy="126.0" r="0.6" fill="#d9351f"/>
<circle cx="97.0" cy="92.2" r="0.6" fill="#d9351f"/>
<circle cx="96.1" cy="122.9" r="0.6" fill="#d9351f"/>
<circle cx="95.4" cy="112.9" r="0.6" fill="#d9351f"/>
<circle cx="111.9" cy="128.8" r="0.6" fill="#d9351f"/>
<circle cx="106.2" cy="123.6" r="0.6" fill="#d9351f"/>
<circle cx="96.8" cy="126.5" r="0.6" fill="#d9351f"/>
<circle cx="99.8" cy="116.9" r="0.6" fill="#d9351f"/>
<circle cx="95.5" cy="119.9" r="0.6" fill="#d9351f"/>
<circle cx="102.0" cy="126.6" r="0.6" fill="#d9351f"/>
<circle cx="101.6" cy="119.0" r="0.6" fill="#d9351f"/>
<circle cx="96.0" cy="112.4" r="0.6" fill="#d9351f"/>
<circle cx="97.9" cy="119.3" r="0.6" fill="#d9351f"/>
<circle cx="111.5" cy="129.0" r="0.6" fill="#d9351f"/>
<circle cx="111.6" cy="116.7" r="0.6" fill="#d9351f"/>
<circle cx="97.0" cy="129.3" r="0.6" fill="#d9351f"/>
<circle cx="94.9" cy="97.6" r="0.6" fill="#d9351f"/>
<circle cx="94.0" cy="106.4" r="0.6" fill="#d9351f"/>
<circle cx="95.3" cy="118.3" r="0.6" fill="#d9351f"/>
<circle cx="94.8" cy="127.9" r="0.6" fill="#d9351f"/>
<circle cx="104.1" cy="129.1" r="0.6" fill="#d9351f"/>
<circle cx="97.6" cy="112.3" r="0.6" fill="#d9351f"/>
<circle cx="105.1" cy="121.5" r="0.6" fill="#d9351f"/>
<circle cx="128.4" cy="129.5" r="0.6" fill="#d9351f"/>
<circle cx="96.3" cy="117.4" r="0.6" fill="#d9351f"/>
<circle cx="104.2" cy="129.3" r="0.6" fill="#d9351f"/>
<circle cx="100.1" cy="128.0" r="0.6" fill="#d9351f"/>
<circle cx="98.9" cy="128.8" r="0.6" fill="#d9351f"/>
<circle cx="94.1" cy="85.2" r="0.6" fill="#d9351f"/>
<circle cx="97.3" cy="114.6" r="0.6" fill="#d9351f"/>
<circle cx="95.0" cy="123.7" r="0.6" fill="#d9351f"/>
<circle cx="95.2" cy="124.7" r="0.6" fill="#d9351f"/>
<circle cx="95.6" cy="120.0" r="0.6" fill="#d9351f"/>
<circle cx="95.3" cy="118.2" r="0.6" fill="#d9351f"/>
<circle cx="100.0" cy="128.8" r="0.6" fill="#d9351f"/>
<circle cx="97.8" cy="124.9" r="0.6" fill="#d9351f"/>
<circle cx="116.1" cy="128.7" r="0.6" fill="#d9351f"/>
<circle cx="96.0" cy="102.5" r="0.6" fill="#d9351f"/>
<circle cx="112.9" cy="126.5" r="0.6" fill="#d9351f"/>
<circle cx="96.7" cy="128.1" r="0.6" fill="#d9351f"/>
<circle cx="96.6" cy="129.0" r="0.6" fill="#d9351f"/>
<circle cx="94.3" cy="122.9" r="0.6" fill="#d9351f"/>
<circle cx="98.5" cy="124.4" r="0.6" fill="#d9351f"/>
<circle cx="97.9" cy="129.4" r="0.6" fill="#d9351f"/>
<circle cx="104.2" cy="125.3" r="0.6" fill="#d9351f"/>
<circle cx="100.8" cy="125.4" r="0.6" fill="#d9351f"/>
<circle cx="104.3" cy="113.5" r="0.6" fill="#d9351f"/>
<circle cx="112.2" cy="126.5" r="0.6" fill="#d9351f"/>
<circle cx="98.4" cy="127.1" r="0.6" fill="#d9351f"/>
<circle cx="98.7" cy="107.0" r="0.6" fill="#d9351f"/>
<circle cx="98.2" cy="126.3" r="0.6" fill="#d9351f"/>
<circle cx="98.6" cy="128.5" r="0.6" fill="#d9351f"/>
<circle cx="141.1" cy="128.4" r="0.6" fill="#d9351f"/>
<circle cx="117.0" cy="129.0" r="0.6" fill="#d9351f"/>
<circle cx="102.3" cy="127.3" r="0.6" fill="#d9351f"/>
<circle cx="96.3" cy="127.8" r="0.6" fill="#d9351f"/>
<circle cx="95.0" cy="113.4" r="0.6" fill="#d9351f"/>
<circle cx="107.5" cy="122.0" r="0.6" fill="#d9351f"/>
<circle cx="94.3" cy="118.6" r="0.6" fill="#d9351f"/>
<circle cx="97.4" cy="122.2" r="0.6" fill="#d9351f"/>
<circle cx="100.9" cy="127.5" r="0.6" fill="#d9351f"/>
<circle cx="125.4" cy="129.5" r="0.6" fill="#d9351f"/>
<circle cx="106.0" cy="122.8" r="0.6" fill="#d9351f"/>
<circle cx="100.2" cy="124.6" r="0.6" fill="#d9351f"/>
<circle cx="140.4" cy="129.2" r="0.6" fill="#d9351f"/>
<circle cx="102.7" cy="123.4" r="0.6" fill="#d9351f"/>
<circle cx="98.1" cy="121.3" r="0.6" fill="#d9351f"/>
<circle cx="98.3" cy="124.7" r="0.6" fill="#d9351f"/>
<circle cx="102.3" cy="124.3" r="0.6" fill="#d9351f"/>
<circle cx="97.3" cy="122.5" r="0.6" fill="#d9351f"/>
<circle cx="100.8" cy="128.2" r="0.6" fill="#d9351f"/>
<circle cx="102.3" cy="128.1" r="0.6" fill="#d9351f"/>
<circle cx="115.1" cy="128.2" r="0.6" fill="#d9351f"/>
<circle cx="105.2" cy="126.8" r="0.6" fill="#d9351f"/>
<circle cx="99.6" cy="128.1" r="0.6" fill="#d9351f"/>
<circle cx="95.3" cy="107.3" r="0.6" fill="#d9351f"/>
<circle cx="100.6" cy="125.6" r="0.6" fill="#d9351f"/>
<circle cx="100.5" cy="120.6" r="0.6" fill="#d9351f"/>
<circle cx="96.3" cy="128.0" r="0.6" fill="#d9351f"/>
<circle cx="109.2" cy="127.8" r="0.6" fill="#d9351f"/>
<circle cx="103.0" cy="121.8" r="0.6" fill="#d9351f"/>
<circle cx="113.8" cy="125.1" r="0.6" fill="#d9351f"/>
<circle cx="94.3" cy="125.1" r="0.6" fill="#d9351f"/>
<circle cx="109.7" cy="124.9" r="0.6" fill="#d9351f"/>
<circle cx="95.1" cy="128.1" r="0.6" fill="#d9351f"/>
<circle cx="96.5" cy="128.7" r="0.6" fill="#d9351f"/>
<circle cx="97.8" cy="118.5" r="0.6" fill="#d9351f"/>
<circle cx="100.4" cy="126.3" r="0.6" fill="#d9351f"/>
<circle cx="94.7" cy="125.0" r="0.6" fill="#d9351f"/>
<circle cx="143.2" cy="128.8" r="0.6" fill="#d9351f"/>
<circle cx="99.7" cy="120.3" r="0.6" fill="#d9351f"/>
<circle cx="106.5" cy="129.0" r="0.6" fill="#d9351f"/>
<circle cx="104.0" cy="127.7" r="0.6" fill="#d9351f"/>
<circle cx="100.4" cy="128.0" r="0.6" fill="#d9351f"/>
<circle cx="98.0" cy="126.7" r="0.6" fill="#d9351f"/>
<circle cx="98.1" cy="129.4" r="0.6" fill="#d9351f"/>
<circle cx="95.9" cy="122.7" r="0.6" fill="#d9351f"/>
<circle cx="94.4" cy="127.7" r="0.6" fill="#d9351f"/>
<circle cx="105.1" cy="128.3" r="0.6" fill="#d9351f"/>
<circle cx="97.4" cy="127.6" r="0.6" fill="#d9351f"/>
<circle cx="109.8" cy="129.2" r="0.6" fill="#d9351f"/>
<circle cx="102.8" cy="120.8" r="0.6" fill="#d9351f"/>
<circle cx="95.9" cy="125.1" r="0.6" fill="#d9351f"/>
<circle cx="107.8" cy="126.5" r="0.6" fill="#d9351f"/>
<circle cx="98.0" cy="129.2" r="0.6" fill="#d9351f"/>
<circle cx="99.1" cy="126.7" r="0.6" fill="#d9351f"/>
<circle cx="104.9" cy="128.2" r="0.6" fill="#d9351f"/>
<circle cx="98.5" cy="122.9" r="0.6" fill="#d9351f"/>
<circle cx="108.6" cy="128.2" r="0.6" fill="#d9351f"/>
<circle cx="98.2" cy="123.9" r="0.6" fill="#d9351f"/>
<circle cx="116.8" cy="129.1" r="0.6" fill="#d9351f"/>
<circle cx="125.3" cy="127.7" r="0.6" fill="#d9351f"/>
<circle cx="98.0" cy="122.3" r="0.6" fill="#d9351f"/>
<circle cx="97.4" cy="129.0" r="0.6" fill="#d9351f"/>
<circle cx="106.4" cy="127.9" r="0.6" fill="#d9351f"/>
<circle cx="100.5" cy="125.8" r="0.6" fill="#d9351f"/>
<circle cx="114.4" cy="126.5" r="0.6" fill="#d9351f"/>
<circle cx="94.1" cy="121.0" r="0.6" fill="#d9351f"/>
<circle cx="99.4" cy="125.9" r="0.6" fill="#d9351f"/>
<circle cx="110.1" cy="128.1" r="0.6" fill="#d9351f"/>
<circle cx="99.6" cy="116.7" r="0.6" fill="#d9351f"/>
<circle cx="99.0" cy="125.4" r="0.6" fill="#d9351f"/>
<circle cx="100.2" cy="120.0" r="0.6" fill="#d9351f"/>
<circle cx="103.7" cy="123.9" r="0.6" fill="#d9351f"/>
<circle cx="98.4" cy="129.2" r="0.6" fill="#d9351f"/>
<circle cx="104.0" cy="126.2" r="0.6" fill="#d9351f"/>
<circle cx="106.9" cy="124.7" r="0.6" fill="#d9351f"/>
<circle cx="95.0" cy="127.3" r="0.6" fill="#d9351f"/>
<circle cx="94.6" cy="114.2" r="0.6" fill="#d9351f"/>
<circle cx="94.8" cy="128.7" r="0.6" fill="#d9351f"/>
<circle cx="106.3" cy="126.7" r="0.6" fill="#d9351f"/>
<circle cx="94.4" cy="119.0" r="0.6" fill="#d9351f"/>
<circle cx="104.9" cy="127.0" r="0.6" fill="#d9351f"/>
<circle cx="94.4" cy="118.7" r="0.6" fill="#d9351f"/>
<circle cx="98.7" cy="124.0" r="0.6" fill="#d9351f"/>
<circle cx="143.5" cy="127.1" r="0.6" fill="#d9351f"/>
<circle cx="95.3" cy="126.1" r="0.6" fill="#d9351f"/>
<circle cx="100.4" cy="129.5" r="0.6" fill="#d9351f"/>
<circle cx="133.6" cy="129.1" r="0.6" fill="#d9351f"/>
<circle cx="96.6" cy="126.7" r="0.6" fill="#d9351f"/>
<circle cx="96.5" cy="114.7" r="0.6" fill="#d9351f"/>
<circle cx="101.1" cy="125.9" r="0.6" fill="#d9351f"/>
<circle cx="98.7" cy="129.2" r="0.6" fill="#d9351f"/>
<circle cx="97.1" cy="115.1" r="0.6" fill="#d9351f"/>
<circle cx="108.2" cy="123.7" r="0.6" fill="#d9351f"/>
<circle cx="96.5" cy="127.8" r="0.6" fill="#d9351f"/>
<circle cx="94.4" cy="122.4" r="0.6" fill="#d9351f"/>
<circle cx="98.0" cy="125.4" r="0.6" fill="#d9351f"/>
<circle cx="99.8" cy="124.5" r="0.6" fill="#d9351f"/>
<circle cx="97.9" cy="118.7" r="0.6" fill="#d9351f"/>
<circle cx="95.9" cy="109.3" r="0.6" fill="#d9351f"/>
<circle cx="101.1" cy="129.2" r="0.6" fill="#d9351f"/>
<circle cx="97.2" cy="124.1" r="0.6" fill="#d9351f"/>
<circle cx="98.6" cy="124.2" r="0.6" fill="#d9351f"/>
<circle cx="97.4" cy="127.3" r="0.6" fill="#d9351f"/>
<circle cx="108.0" cy="128.5" r="0.6" fill="#d9351f"/>
<circle cx="104.9" cy="123.4" r="0.6" fill="#d9351f"/>
<circle cx="101.8" cy="126.6" r="0.6" fill="#d9351f"/>
<circle cx="118.1" cy="128.4" r="0.6" fill="#d9351f"/>
<circle cx="112.5" cy="129.4" r="0.6" fill="#d9351f"/>
<circle cx="98.9" cy="123.3" r="0.6" fill="#d9351f"/>
<circle cx="94.3" cy="111.2" r="0.6" fill="#d9351f"/>
<circle cx="94.6" cy="121.3" r="0.6" fill="#d9351f"/>
<circle cx="95.7" cy="108.6" r="0.6" fill="#d9351f"/>
<circle cx="101.2" cy="121.4" r="0.6" fill="#d9351f"/>
<circle cx="100.0" cy="123.3" r="0.6" fill="#d9351f"/>
<circle cx="103.8" cy="128.1" r="0.6" fill="#d9351f"/>
<circle cx="96.0" cy="115.1" r="0.6" fill="#d9351f"/>
<circle cx="95.3" cy="108.4" r="0.6" fill="#d9351f"/>
<circle cx="96.0" cy="128.7" r="0.6" fill="#d9351f"/>
<circle cx="94.8" cy="115.9" r="0.6" fill="#d9351f"/>
<circle cx="120.6" cy="128.6" r="0.6" fill="#d9351f"/>
<circle cx="103.4" cy="128.2" r="0.6" fill="#d9351f"/>
<circle cx="114.8" cy="127.1" r="0.6" fill="#d9351f"/>
<circle cx="95.4" cy="129.0" r="0.6" fill="#d9351f"/>
<circle cx="104.4" cy="129.3" r="0.6" fill="#d9351f"/>
<circle cx="109.9" cy="128.6" r="0.6" fill="#d9351f"/>
<circle cx="96.2" cy="122.7" r="0.6" fill="#d9351f"/>
<circle cx="97.3" cy="123.7" r="0.6" fill="#d9351f"/>
<circle cx="95.4" cy="109.1" r="0.6" fill="#d9351f"/>
<circle cx="100.6" cy="103.6" r="0.6" fill="#d9351f"/>
<circle cx="97.0" cy="102.1" r="0.6" fill="#d9351f"/>
<circle cx="114.1" cy="119.4" r="0.6" fill="#d9351f"/>
<circle cx="94.6" cy="111.2" r="0.6" fill="#d9351f"/>
<circle cx="107.1" cy="119.4" r="0.6" fill="#d9351f"/>
<circle cx="105.2" cy="121.3" r="0.6" fill="#d9351f"/>
<circle cx="103.5" cy="107.9" r="0.6" fill="#d9351f"/>
<circle cx="102.8" cy="108.5" r="0.6" fill="#d9351f"/>
<circle cx="96.3" cy="100.8" r="0.6" fill="#d9351f"/>
<circle cx="96.4" cy="98.6" r="0.6" fill="#d9351f"/>
<circle cx="114.5" cy="112.1" r="0.6" fill="#d9351f"/>
<circle cx="104.8" cy="117.3" r="0.6" fill="#d9351f"/>
<circle cx="101.1" cy="105.9" r="0.6" fill="#d9351f"/>
<circle cx="104.2" cy="104.3" r="0.6" fill="#d9351f"/>
<circle cx="95.8" cy="109.1" r="0.6" fill="#d9351f"/>
<circle cx="111.7" cy="115.2" r="0.6" fill="#d9351f"/>
<circle cx="105.1" cy="121.3" r="0.6" fill="#d9351f"/>
<circle cx="96.8" cy="114.8" r="0.6" fill="#d9351f"/>
<circle cx="112.3" cy="111.8" r="0.6" fill="#d9351f"/>
<circle cx="98.6" cy="100.2" r="0.6" fill="#d9351f"/>
<circle cx="94.6" cy="105.5" r="0.6" fill="#d9351f"/>
<circle cx="113.9" cy="120.0" r="0.6" fill="#d9351f"/>
<circle cx="113.4" cy="115.3" r="0.6" fill="#d9351f"/>
<circle cx="94.9" cy="112.5" r="0.6" fill="#d9351f"/>
<circle cx="103.2" cy="117.6" r="0.6" fill="#d9351f"/>
<circle cx="109.2" cy="120.9" r="0.6" fill="#d9351f"/>
<circle cx="110.2" cy="119.2" r="0.6" fill="#d9351f"/>
<circle cx="95.3" cy="107.0" r="0.6" fill="#d9351f"/>
<circle cx="95.9" cy="107.4" r="0.6" fill="#d9351f"/>
<circle cx="110.2" cy="114.4" r="0.6" fill="#d9351f"/>
<circle cx="103.4" cy="122.0" r="0.6" fill="#d9351f"/>
<circle cx="104.5" cy="121.0" r="0.6" fill="#d9351f"/>
<circle cx="107.3" cy="121.1" r="0.6" fill="#d9351f"/>
<circle cx="105.8" cy="116.5" r="0.6" fill="#d9351f"/>
<circle cx="101.6" cy="108.1" r="0.6" fill="#d9351f"/>
<circle cx="97.3" cy="117.4" r="0.6" fill="#d9351f"/>
<circle cx="113.3" cy="119.9" r="0.6" fill="#d9351f"/>
<circle cx="111.3" cy="110.6" r="0.6" fill="#d9351f"/>
<circle cx="103.8" cy="119.8" r="0.6" fill="#d9351f"/>
<circle cx="95.8" cy="99.3" r="0.6" fill="#d9351f"/>
<circle cx="96.3" cy="109.0" r="0.6" fill="#d9351f"/>
<circle cx="105.0" cy="120.7" r="0.6" fill="#d9351f"/>
<circle cx="103.6" cy="119.4" r="0.6" fill="#d9351f"/>
<circle cx="105.0" cy="113.2" r="0.6" fill="#d9351f"/>
<circle cx="101.5" cy="118.1" r="0.6" fill="#d9351f"/>
<circle cx="95.7" cy="44.7" r="0.6" fill="#d9351f"/>
<circle cx="102.8" cy="46.1" r="0.6" fill="#d9351f"/>
<circle cx="98.0" cy="56.0" r="0.6" fill="#d9351f"/>
<circle cx="95.1" cy="64.5" r="0.6" fill="#d9351f"/>
<circle cx="97.4" cy="74.4" r="0.6" fill="#d9351f"/>
<circle cx="100.4" cy="77.2" r="0.6" fill="#d9351f"/>
<circle cx="96.8" cy="82.9" r="0.6" fill="#d9351f"/>
<circle cx="99.2" cy="89.9" r="0.6" fill="#d9351f"/>
<circle cx="101.6" cy="92.7" r="0.6" fill="#d9351f"/>
<circle cx="95.1" cy="95.6" r="0.6" fill="#d9351f"/>
<circle cx="105.7" cy="99.8" r="0.6" fill="#d9351f"/>
<circle cx="103.3" cy="102.6" r="0.6" fill="#d9351f"/>
<circle cx="96.3" cy="101.2" r="0.6" fill="#d9351f"/>
<circle cx="108.7" cy="106.9" r="0.6" fill="#d9351f"/>
<circle cx="112.2" cy="109.7" r="0.6" fill="#d9351f"/>
<circle cx="118.7" cy="112.5" r="0.6" fill="#d9351f"/>
<circle cx="123.4" cy="115.4" r="0.6" fill="#d9351f"/>
<circle cx="134.6" cy="122.4" r="0.6" fill="#d9351f"/>
<circle cx="94.5" cy="78.6" r="0.6" fill="#d9351f"/>
<circle cx="95.4" cy="87.1" r="0.6" fill="#d9351f"/>
<circle cx="136.4" cy="126.1" r="0.6" fill="#d9351f"/>
<circle cx="132.2" cy="127.2" r="0.6" fill="#d9351f"/>
<circle cx="141.1" cy="128.1" r="0.6" fill="#d9351f"/>
</g>
<line x1="82.60" y1="39.00" x2="82.60" y2="133.60" stroke="#222" stroke-width="0.6" stroke-dasharray="2,1"/>
<line x1="94.40" y1="39.00" x2="94.40" y2="133.60" stroke="#222" stroke-width="0.6" stroke-dasharray="2,1"/>
<line x1="46.00" y1="129.60" x2="147.00" y2="129.60" stroke="#222" stroke-width="0.6" stroke-dasharray="2,1"/>
<line x1="45.50" y1="39.00" x2="45.50" y2="134.10" stroke="#1a1a1a" stroke-width="1.0" />
<line x1="42.50" y1="45.00" x2="45.50" y2="45.00" stroke="#1a1a1a" stroke-width="1.0" />
<text x="39.40" y="47.76" font-size="6.6" fill="#2b2b2b" text-anchor="end">300</text>
<line x1="42.50" y1="73.30" x2="45.50" y2="73.30" stroke="#1a1a1a" stroke-width="1.0" />
<text x="39.40" y="76.06" font-size="6.6" fill="#2b2b2b" text-anchor="end">200</text>
<line x1="42.50" y1="101.50" x2="45.50" y2="101.50" stroke="#1a1a1a" stroke-width="1.0" />
<text x="39.40" y="104.26" font-size="6.6" fill="#2b2b2b" text-anchor="end">100</text>
<line x1="42.50" y1="129.50" x2="45.50" y2="129.50" stroke="#1a1a1a" stroke-width="1.0" />
<text x="39.40" y="132.26" font-size="6.6" fill="#2b2b2b" text-anchor="end">0</text>
<line x1="45.00" y1="133.50" x2="147.00" y2="133.50" stroke="#1a1a1a" stroke-width="1.0" />
<line x1="58.50" y1="133.50" x2="58.50" y2="135.90" stroke="#1a1a1a" stroke-width="1.0" />
<line x1="88.00" y1="133.50" x2="88.00" y2="135.90" stroke="#1a1a1a" stroke-width="1.0" />
<line x1="117.50" y1="133.50" x2="117.50" y2="135.90" stroke="#1a1a1a" stroke-width="1.0" />
<text x="58.50" y="146.96" font-size="6.6" fill="#2b2b2b" text-anchor="middle">−5</text>
<text x="88.00" y="146.96" font-size="6.6" fill="#2b2b2b" text-anchor="middle">0</text>
<text x="117.50" y="146.96" font-size="6.6" fill="#2b2b2b" text-anchor="middle">5</text>
<text x="96.30" y="158.04" font-size="8.2" fill="#2b2b2b" text-anchor="middle" textLength="51" lengthAdjust="spacingAndGlyphs">log2 fold change</text>
<text transform="translate(20.00,87.00) rotate(-90)" x="0" y="2.58" font-size="7.2" fill="#2b2b2b" text-anchor="middle" textLength="75" lengthAdjust="spacingAndGlyphs">-log10 adjusted <tspan font-style="italic">P</tspan>-value</text>
<text x="63.00" y="62.45" font-size="7.4" fill="#2b2b2b" textLength="11" lengthAdjust="spacingAndGlyphs">413</text>
<text x="124.60" y="62.45" font-size="7.4" fill="#2b2b2b" textLength="11" lengthAdjust="spacingAndGlyphs">524</text>
<text x="100.40" y="43.78" font-size="4.7" fill="#2a2a2a">CD69</text>
<text x="112.00" y="49.28" font-size="4.7" fill="#2a2a2a">CXCL8</text>
<text x="87.00" y="57.98" font-size="4.7" fill="#2a2a2a">KLF6</text>
<text x="107.30" y="81.88" font-size="4.7" fill="#2a2a2a">RGS1</text>
<text x="81.70" y="88.78" font-size="4.7" fill="#2a2a2a">STAT1</text>
<text x="99.90" y="88.78" font-size="4.7" fill="#2a2a2a">CD38</text>
<text x="104.20" y="94.28" font-size="4.7" fill="#2a2a2a">SAMD9</text>
<text x="123.30" y="92.28" font-size="4.7" fill="#2a2a2a">IRF9</text>
<text x="115.50" y="98.28" font-size="4.7" fill="#2a2a2a">HELZ2</text>
<text x="98.70" y="101.68" font-size="4.7" fill="#2a2a2a">GPR132</text>
<text x="85.00" y="101.68" font-size="4.7" fill="#2a2a2a">IMPG</text>
<text x="109.40" y="103.98" font-size="4.7" fill="#2a2a2a">PTGS2</text>
<text x="124.10" y="102.98" font-size="4.7" fill="#2a2a2a">IFIT3</text>
<text x="129.30" y="107.78" font-size="4.7" fill="#2a2a2a">SERPINE1</text>
<text x="101.60" y="106.98" font-size="4.7" fill="#2a2a2a">ISG20</text>
<text x="113.70" y="107.78" font-size="4.7" fill="#2a2a2a">OSM</text>
<text x="125.00" y="112.98" font-size="4.7" fill="#2a2a2a">RSAD2</text>
<text x="113.70" y="116.78" font-size="4.7" fill="#2a2a2a">CCL2</text>
<text x="105.00" y="116.78" font-size="4.7" fill="#2a2a2a">IDO1</text>
<text x="125.80" y="119.88" font-size="4.7" fill="#2a2a2a">IFIT1</text>
<text x="135.00" y="119.08" font-size="4.7" fill="#2a2a2a">SGMS2</text>
<text x="138.00" y="125.08" font-size="4.7" fill="#2a2a2a">IL10</text>
<text x="124.10" y="126.88" font-size="4.7" fill="#2a2a2a">GZMA</text>
<text x="113.70" y="126.88" font-size="4.7" fill="#2a2a2a">CFH</text>
<text x="110.30" y="122.48" font-size="4.7" fill="#2a2a2a">CD58</text>
<text x="113.70" y="132.48" font-size="4.7" fill="#2a2a2a">COL6A3</text>
<line x1="96.00" y1="43.00" x2="100.00" y2="42.00" stroke="#555" stroke-width="0.3" />
<line x1="107.00" y1="46.00" x2="112.00" y2="47.60" stroke="#555" stroke-width="0.3" />
<line x1="96.00" y1="88.00" x2="99.50" y2="87.00" stroke="#555" stroke-width="0.3" />
<line x1="103.00" y1="98.00" x2="104.00" y2="93.00" stroke="#555" stroke-width="0.3" />
<line x1="118.00" y1="92.00" x2="123.00" y2="90.60" stroke="#555" stroke-width="0.3" />
<line x1="120.00" y1="104.00" x2="124.00" y2="101.30" stroke="#555" stroke-width="0.3" />
<line x1="126.00" y1="108.00" x2="129.00" y2="106.00" stroke="#555" stroke-width="0.3" />
<line x1="112.00" y1="108.00" x2="113.50" y2="106.00" stroke="#555" stroke-width="0.3" />
<line x1="105.00" y1="111.00" x2="106.00" y2="107.00" stroke="#555" stroke-width="0.3" />
<line x1="111.00" y1="118.00" x2="113.50" y2="115.50" stroke="#555" stroke-width="0.3" />
<line x1="122.00" y1="120.00" x2="125.50" y2="118.50" stroke="#555" stroke-width="0.3" />
<line x1="130.00" y1="119.00" x2="135.00" y2="117.50" stroke="#555" stroke-width="0.3" />
<line x1="135.00" y1="125.00" x2="138.00" y2="123.40" stroke="#555" stroke-width="0.3" />
<text x="171.70" y="16.51" font-size="11.2" fill="#111" font-weight="bold">B</text>
<text x="221.50" y="23.45" font-size="8.8" fill="#2b2b2b" textLength="107.3" lengthAdjust="spacingAndGlyphs">HALLMARK_INTERFERON_</text>
<text x="234.00" y="33.55" font-size="8.8" fill="#2b2b2b" textLength="82" lengthAdjust="spacingAndGlyphs">GAMMA_RESPONSE</text>
<line x1="220.50" y1="44.00" x2="220.50" y2="94.70" stroke="#1a1a1a" stroke-width="1.0" />
<line x1="217.50" y1="47.60" x2="220.50" y2="47.60" stroke="#1a1a1a" stroke-width="1.0" />
<text x="214.40" y="50.26" font-size="6.3" fill="#2b2b2b" text-anchor="end">0.5</text>
<line x1="217.50" y1="56.40" x2="220.50" y2="56.40" stroke="#1a1a1a" stroke-width="1.0" />
<text x="214.40" y="59.06" font-size="6.3" fill="#2b2b2b" text-anchor="end">0.4</text>
<line x1="217.50" y1="65.10" x2="220.50" y2="65.10" stroke="#1a1a1a" stroke-width="1.0" />
<text x="214.40" y="67.76" font-size="6.3" fill="#2b2b2b" text-anchor="end">0.3</text>
<line x1="217.50" y1="73.90" x2="220.50" y2="73.90" stroke="#1a1a1a" stroke-width="1.0" />
<text x="214.40" y="76.56" font-size="6.3" fill="#2b2b2b" text-anchor="end">0.2</text>
<line x1="217.50" y1="82.60" x2="220.50" y2="82.60" stroke="#1a1a1a" stroke-width="1.0" />
<text x="214.40" y="85.26" font-size="6.3" fill="#2b2b2b" text-anchor="end">0.1</text>
<line x1="217.50" y1="91.40" x2="220.50" y2="91.40" stroke="#1a1a1a" stroke-width="1.0" />
<text x="214.40" y="94.06" font-size="6.3" fill="#2b2b2b" text-anchor="end">0.0</text>
<path d="M219.9,92.8 L220.8,77.6 L222.7,64.6 L225.0,56.4 L228.6,51.7 L232.1,48.9 L236.8,46.6 L240.3,46.3 L243.8,47.0 L247.3,48.2 L250.9,48.9 L254.4,49.4 L259.1,51.7 L265.0,55.3 L274.3,62.3 L283.7,69.3 L293.1,75.2 L302.5,80.4 L311.9,85.1 L318.9,88.1 L323.6,89.3 L326.0,88.8 L328.3,89.8 L331.0,89.2 L333.0,88.8 L335.0,90.0 L336.5,90.5" fill="none" stroke="#1b6a55" stroke-width="1.15" stroke-linejoin="round"/>
<text x="272.50" y="48.33" font-size="6.8" fill="#2b2b2b" textLength="36" lengthAdjust="spacingAndGlyphs">NES = 2.035</text>
<text x="272.50" y="57.23" font-size="6.8" fill="#2b2b2b" textLength="59" lengthAdjust="spacingAndGlyphs">P–adjust = 6.96e–07</text>
<rect x="220.50" y="94.6" width="0.83" height="13.9" fill="#1d1d1d"/>
<rect x="221.07" y="94.6" width="0.88" height="13.9" fill="#3a3a3a"/>
<rect x="221.53" y="94.6" width="1.00" height="13.9" fill="#0b0b0b"/>
<rect x="222.06" y="94.6" width="1.10" height="13.9" fill="#1c1c1c"/>
<rect x="222.67" y="94.6" width="0.79" height="13.9" fill="#4c4c4c"/>
<rect x="223.37" y="94.6" width="0.88" height="13.9" fill="#161616"/>
<rect x="224.33" y="94.6" width="0.94" height="13.9" fill="#333333"/>
<rect x="225.06" y="94.6" width="0.95" height="13.9" fill="#0f0f0f"/>
<rect x="225.73" y="94.6" width="0.52" height="13.9" fill="#222222"/>
<rect x="226.68" y="94.6" width="0.93" height="13.9" fill="#2f2f2f"/>
<rect x="227.66" y="94.6" width="1.05" height="13.9" fill="#434343"/>
<rect x="228.23" y="94.6" width="0.77" height="13.9" fill="#4a4a4a"/>
<rect x="229.37" y="94.6" width="0.56" height="13.9" fill="#505050"/>
<rect x="229.86" y="94.6" width="1.08" height="13.9" fill="#1b1b1b"/>
<rect x="230.45" y="94.6" width="0.68" height="13.9" fill="#3c3c3c"/>
<rect x="231.08" y="94.6" width="0.71" height="13.9" fill="#282828"/>
<rect x="231.75" y="94.6" width="1.04" height="13.9" fill="#383838"/>
<rect x="232.48" y="94.6" width="1.01" height="13.9" fill="#545454"/>
<rect x="234.11" y="94.6" width="0.60" height="13.9" fill="#3f3f3f"/>
<rect x="235.05" y="94.6" width="1.04" height="13.9" fill="#575757"/>
<rect x="235.71" y="94.6" width="0.63" height="13.9" fill="#434343"/>
<rect x="236.61" y="94.6" width="0.67" height="13.9" fill="#373737"/>
<rect x="237.07" y="94.6" width="1.09" height="13.9" fill="#4e4e4e"/>
<rect x="237.55" y="94.6" width="0.75" height="13.9" fill="#4a4a4a"/>
<rect x="238.04" y="94.6" width="0.96" height="13.9" fill="#212121"/>
<rect x="239.00" y="94.6" width="0.87" height="13.9" fill="#0d0d0d"/>
<rect x="239.47" y="94.6" width="0.70" height="13.9" fill="#434343"/>
<rect x="240.45" y="94.6" width="0.80" height="13.9" fill="#585858"/>
<rect x="242.52" y="94.6" width="0.55" height="13.9" fill="#222222"/>
<rect x="243.20" y="94.6" width="0.62" height="13.9" fill="#0c0c0c"/>
<rect x="243.78" y="94.6" width="0.53" height="13.9" fill="#242424"/>
<rect x="245.50" y="94.6" width="1.04" height="13.9" fill="#909090"/>
<rect x="246.25" y="94.6" width="0.89" height="13.9" fill="#555555"/>
<rect x="247.26" y="94.6" width="1.06" height="13.9" fill="#626262"/>
<rect x="248.15" y="94.6" width="0.64" height="13.9" fill="#707070"/>
<rect x="248.83" y="94.6" width="0.83" height="13.9" fill="#b0b0b0"/>
<rect x="249.29" y="94.6" width="0.51" height="13.9" fill="#5d5d5d"/>
<rect x="250.33" y="94.6" width="0.88" height="13.9" fill="#171717"/>
<rect x="251.18" y="94.6" width="0.92" height="13.9" fill="#3e3e3e"/>
<rect x="252.46" y="94.6" width="0.91" height="13.9" fill="#171717"/>
<rect x="254.98" y="94.6" width="0.86" height="13.9" fill="#4c4c4c"/>
<rect x="255.67" y="94.6" width="0.72" height="13.9" fill="#393939"/>
<rect x="256.69" y="94.6" width="0.96" height="13.9" fill="#414141"/>
<rect x="257.15" y="94.6" width="0.69" height="13.9" fill="#727272"/>
<rect x="257.76" y="94.6" width="0.61" height="13.9" fill="#9c9c9c"/>
<rect x="258.57" y="94.6" width="0.69" height="13.9" fill="#1c1c1c"/>
<rect x="259.27" y="94.6" width="1.01" height="13.9" fill="#aaaaaa"/>
<rect x="259.84" y="94.6" width="1.03" height="13.9" fill="#666666"/>
<rect x="260.66" y="94.6" width="0.82" height="13.9" fill="#1f1f1f"/>
<rect x="261.24" y="94.6" width="0.61" height="13.9" fill="#c6c6c6"/>
<rect x="261.90" y="94.6" width="0.98" height="13.9" fill="#b8b8b8"/>
<rect x="262.61" y="94.6" width="0.98" height="13.9" fill="#363636"/>
<rect x="263.26" y="94.6" width="0.75" height="13.9" fill="#474747"/>
<rect x="264.04" y="94.6" width="0.50" height="13.9" fill="#969696"/>
<rect x="266.28" y="94.6" width="0.76" height="13.9" fill="#d1d1d1"/>
<rect x="268.61" y="94.6" width="0.95" height="13.9" fill="#9b9b9b"/>
<rect x="270.19" y="94.6" width="0.67" height="13.9" fill="#555555"/>
<rect x="270.90" y="94.6" width="0.85" height="13.9" fill="#181818"/>
<rect x="271.56" y="94.6" width="1.04" height="13.9" fill="#8f8f8f"/>
<rect x="272.75" y="94.6" width="1.04" height="13.9" fill="#cacaca"/>
<rect x="273.74" y="94.6" width="0.60" height="13.9" fill="#737373"/>
<rect x="274.51" y="94.6" width="0.75" height="13.9" fill="#555555"/>
<rect x="277.51" y="94.6" width="0.65" height="13.9" fill="#3d3d3d"/>
<rect x="279.75" y="94.6" width="0.71" height="13.9" fill="#787878"/>
<rect x="280.40" y="94.6" width="0.60" height="13.9" fill="#7d7d7d"/>
<rect x="282.28" y="94.6" width="0.99" height="13.9" fill="#c4c4c4"/>
<rect x="282.74" y="94.6" width="0.53" height="13.9" fill="#838383"/>
<rect x="283.48" y="94.6" width="0.75" height="13.9" fill="#565656"/>
<rect x="284.51" y="94.6" width="0.53" height="13.9" fill="#8c8c8c"/>
<rect x="285.08" y="94.6" width="1.08" height="13.9" fill="#181818"/>
<rect x="287.28" y="94.6" width="0.69" height="13.9" fill="#525252"/>
<rect x="288.08" y="94.6" width="0.85" height="13.9" fill="#666666"/>
<rect x="288.93" y="94.6" width="0.57" height="13.9" fill="#3b3b3b"/>
<rect x="290.12" y="94.6" width="0.55" height="13.9" fill="#424242"/>
<rect x="290.75" y="94.6" width="0.97" height="13.9" fill="#606060"/>
<rect x="291.63" y="94.6" width="0.76" height="13.9" fill="#b7b7b7"/>
<rect x="292.51" y="94.6" width="0.75" height="13.9" fill="#6d6d6d"/>
<rect x="294.03" y="94.6" width="0.82" height="13.9" fill="#303030"/>
<rect x="295.56" y="94.6" width="0.76" height="13.9" fill="#484848"/>
<rect x="297.94" y="94.6" width="1.04" height="13.9" fill="#a6a6a6"/>
<rect x="299.81" y="94.6" width="0.57" height="13.9" fill="#4d4d4d"/>
<rect x="301.79" y="94.6" width="0.98" height="13.9" fill="#868686"/>
<rect x="303.24" y="94.6" width="0.56" height="13.9" fill="#5b5b5b"/>
<rect x="304.49" y="94.6" width="0.96" height="13.9" fill="#222222"/>
<rect x="304.99" y="94.6" width="1.03" height="13.9" fill="#1c1c1c"/>
<rect x="305.61" y="94.6" width="0.57" height="13.9" fill="#808080"/>
<rect x="307.75" y="94.6" width="1.07" height="13.9" fill="#7f7f7f"/>
<rect x="308.99" y="94.6" width="0.96" height="13.9" fill="#8e8e8e"/>
<rect x="310.24" y="94.6" width="0.95" height="13.9" fill="#1d1d1d"/>
<rect x="313.72" y="94.6" width="0.84" height="13.9" fill="#3a3a3a"/>
<rect x="316.12" y="94.6" width="0.65" height="13.9" fill="#272727"/>
<rect x="317.64" y="94.6" width="0.72" height="13.9" fill="#a7a7a7"/>
<rect x="318.65" y="94.6" width="0.55" height="13.9" fill="#474747"/>
<rect x="319.87" y="94.6" width="0.95" height="13.9" fill="#a8a8a8"/>
<rect x="320.51" y="94.6" width="0.90" height="13.9" fill="#757575"/>
<rect x="321.77" y="94.6" width="1.04" height="13.9" fill="#656565"/>
<rect x="322.40" y="94.6" width="1.05" height="13.9" fill="#747474"/>
<rect x="323.66" y="94.6" width="0.61" height="13.9" fill="#707070"/>
<rect x="324.46" y="94.6" width="0.69" height="13.9" fill="#5e5e5e"/>
<rect x="325.20" y="94.6" width="0.68" height="13.9" fill="#8f8f8f"/>
<rect x="327.01" y="94.6" width="0.85" height="13.9" fill="#828282"/>
<rect x="327.80" y="94.6" width="0.79" height="13.9" fill="#121212"/>
<rect x="328.79" y="94.6" width="0.69" height="13.9" fill="#3f3f3f"/>
<rect x="330.89" y="94.6" width="0.79" height="13.9" fill="#949494"/>
<rect x="332.36" y="94.6" width="0.99" height="13.9" fill="#7f7f7f"/>
<rect x="333.71" y="94.6" width="1.01" height="13.9" fill="#707070"/>
<rect x="334.73" y="94.6" width="0.78" height="13.9" fill="#909090"/>
<rect x="335.47" y="94.6" width="0.91" height="13.9" fill="#6f6f6f"/>
<rect x="220.50" y="108.50" width="20.20" height="6.00" fill="#e34b36" />
<rect x="240.70" y="108.50" width="21.50" height="6.00" fill="#ef7256" />
<rect x="262.20" y="108.50" width="20.20" height="6.00" fill="#f4a58b" />
<rect x="282.40" y="108.50" width="22.70" height="6.00" fill="#fadbcd" />
<rect x="305.10" y="108.50" width="9.60" height="6.00" fill="#f1f1f6" />
<rect x="314.70" y="108.50" width="10.70" height="6.00" fill="#c6d8ea" />
<rect x="325.40" y="108.50" width="12.10" height="6.00" fill="#5f93c9" />
<line x1="220.50" y1="115.00" x2="220.50" y2="142.90" stroke="#1a1a1a" stroke-width="1.0" />
<line x1="217.50" y1="122.60" x2="220.50" y2="122.60" stroke="#1a1a1a" stroke-width="1.0" />
<text x="214.40" y="125.26" font-size="6.3" fill="#2b2b2b" text-anchor="end">5</text>
<line x1="217.50" y1="130.70" x2="220.50" y2="130.70" stroke="#1a1a1a" stroke-width="1.0" />
<text x="214.40" y="133.36" font-size="6.3" fill="#2b2b2b" text-anchor="end">0</text>
<line x1="217.50" y1="138.80" x2="220.50" y2="138.80" stroke="#1a1a1a" stroke-width="1.0" />
<text x="214.40" y="141.46" font-size="6.3" fill="#2b2b2b" text-anchor="end">−5</text>
<path d="M220,128.4 C228,130 240,130.6 280,130.8 L325,131 C332,131.4 336,132 337.5,133 L337.5,130.7 L220,130.7 Z" fill="#e6e6e6" stroke="none"/>
<path d="M220,128.4 C228,130 240,130.6 280,130.8 L325,131 C332,131.4 336,132 337.5,133" fill="none" stroke="#aaa" stroke-width="0.6"/>
<line x1="220.00" y1="142.50" x2="337.80" y2="142.50" stroke="#1a1a1a" stroke-width="1.0" />
<line x1="260.80" y1="142.50" x2="260.80" y2="144.90" stroke="#1a1a1a" stroke-width="1.0" />
<line x1="301.80" y1="142.50" x2="301.80" y2="144.90" stroke="#1a1a1a" stroke-width="1.0" />
<text x="260.80" y="154.56" font-size="6.6" fill="#2b2b2b" text-anchor="middle">5000</text>
<text x="301.80" y="154.56" font-size="6.6" fill="#2b2b2b" text-anchor="middle">10000</text>
<text x="278.50" y="166.57" font-size="8.3" fill="#2b2b2b" text-anchor="middle" textLength="71.5" lengthAdjust="spacingAndGlyphs">Rank in ordered dataset</text>
<text transform="translate(186.70,69.10) rotate(-90)" x="0" y="2.65" font-size="7.4" fill="#2b2b2b" text-anchor="middle" textLength="62.6" lengthAdjust="spacingAndGlyphs">Running enrichment</text>
<text transform="translate(196.60,69.30) rotate(-90)" x="0" y="2.65" font-size="7.4" fill="#2b2b2b" text-anchor="middle">score</text>
<text transform="translate(186.70,130.70) rotate(-90)" x="0" y="2.65" font-size="7.4" fill="#2b2b2b" text-anchor="middle" textLength="34" lengthAdjust="spacingAndGlyphs">Ranked list</text>
<text transform="translate(196.60,130.30) rotate(-90)" x="0" y="2.65" font-size="7.4" fill="#2b2b2b" text-anchor="middle">metric</text>
<text x="398.70" y="14.35" font-size="8.8" fill="#2b2b2b" textLength="110.7" lengthAdjust="spacingAndGlyphs">REACTOME_SENESCENCE_</text>
<text x="399.60" y="24.65" font-size="8.8" fill="#2b2b2b" textLength="109.8" lengthAdjust="spacingAndGlyphs">ASSOCIATED_SECRETORY_</text>
<text x="416.50" y="34.45" font-size="8.8" fill="#2b2b2b" textLength="72.7" lengthAdjust="spacingAndGlyphs">PHENOTYPE_SASP</text>
<line x1="396.50" y1="44.00" x2="396.50" y2="94.70" stroke="#1a1a1a" stroke-width="1.0" />
<line x1="393.50" y1="45.20" x2="396.50" y2="45.20" stroke="#1a1a1a" stroke-width="1.0" />
<text x="390.40" y="47.86" font-size="6.3" fill="#2b2b2b" text-anchor="end">0.5</text>
<line x1="393.50" y1="53.60" x2="396.50" y2="53.60" stroke="#1a1a1a" stroke-width="1.0" />
<text x="390.40" y="56.26" font-size="6.3" fill="#2b2b2b" text-anchor="end">0.4</text>
<line x1="393.50" y1="62.00" x2="396.50" y2="62.00" stroke="#1a1a1a" stroke-width="1.0" />
<text x="390.40" y="64.66" font-size="6.3" fill="#2b2b2b" text-anchor="end">0.3</text>
<line x1="393.50" y1="70.30" x2="396.50" y2="70.30" stroke="#1a1a1a" stroke-width="1.0" />
<text x="390.40" y="72.96" font-size="6.3" fill="#2b2b2b" text-anchor="end">0.2</text>
<line x1="393.50" y1="78.70" x2="396.50" y2="78.70" stroke="#1a1a1a" stroke-width="1.0" />
<text x="390.40" y="81.36" font-size="6.3" fill="#2b2b2b" text-anchor="end">0.1</text>
<line x1="393.50" y1="87.10" x2="396.50" y2="87.10" stroke="#1a1a1a" stroke-width="1.0" />
<text x="390.40" y="89.76" font-size="6.3" fill="#2b2b2b" text-anchor="end">0.0</text>
<path d="M395.2,82.3 L396.3,77.6 L398.2,67.0 L399.9,63.0 L401.0,58.8 L402.9,45.9 L403.9,45.2 L408.1,47.0 L415.1,48.9 L422.2,50.1 L428.0,51.3 L432.7,53.6 L440.9,57.6 L450.3,63.0 L459.7,69.3 L469.1,75.2 L478.5,81.1 L487.9,85.1 L492.6,86.5 L497.3,88.1 L502.0,89.8 L504.3,88.8 L506.7,90.2 L509.0,88.1 L510.2,89.3 L512.5,85.8" fill="none" stroke="#1b6a55" stroke-width="1.15" stroke-linejoin="round"/>
<text x="448.50" y="50.13" font-size="6.8" fill="#2b2b2b" textLength="36" lengthAdjust="spacingAndGlyphs">NES = 1.753</text>
<text x="448.50" y="59.03" font-size="6.8" fill="#2b2b2b" textLength="59" lengthAdjust="spacingAndGlyphs">P–adjust = 1.67e–02</text>
<rect x="396.50" y="94.6" width="0.98" height="13.9" fill="#737373"/>
<rect x="399.15" y="94.6" width="0.52" height="13.9" fill="#8b8b8b"/>
<rect x="400.08" y="94.6" width="1.04" height="13.9" fill="#b9b9b9"/>
<rect x="400.62" y="94.6" width="0.83" height="13.9" fill="#303030"/>
<rect x="401.73" y="94.6" width="0.67" height="13.9" fill="#2c2c2c"/>
<rect x="404.09" y="94.6" width="0.98" height="13.9" fill="#979797"/>
<rect x="404.65" y="94.6" width="0.50" height="13.9" fill="#202020"/>
<rect x="406.68" y="94.6" width="1.09" height="13.9" fill="#2c2c2c"/>
<rect x="408.71" y="94.6" width="0.82" height="13.9" fill="#909090"/>
<rect x="410.03" y="94.6" width="0.91" height="13.9" fill="#8e8e8e"/>
<rect x="413.10" y="94.6" width="0.72" height="13.9" fill="#a0a0a0"/>
<rect x="413.69" y="94.6" width="0.68" height="13.9" fill="#171717"/>
<rect x="415.16" y="94.6" width="0.70" height="13.9" fill="#6a6a6a"/>
<rect x="416.03" y="94.6" width="0.69" height="13.9" fill="#adadad"/>
<rect x="417.20" y="94.6" width="1.09" height="13.9" fill="#161616"/>
<rect x="417.68" y="94.6" width="0.51" height="13.9" fill="#818181"/>
<rect x="419.85" y="94.6" width="0.51" height="13.9" fill="#5d5d5d"/>
<rect x="420.36" y="94.6" width="0.62" height="13.9" fill="#8f8f8f"/>
<rect x="422.37" y="94.6" width="0.71" height="13.9" fill="#cdcdcd"/>
<rect x="423.31" y="94.6" width="0.56" height="13.9" fill="#777777"/>
<rect x="425.29" y="94.6" width="0.52" height="13.9" fill="#c8c8c8"/>
<rect x="428.98" y="94.6" width="0.87" height="13.9" fill="#3c3c3c"/>
<rect x="432.21" y="94.6" width="0.83" height="13.9" fill="#8b8b8b"/>
<rect x="433.08" y="94.6" width="0.55" height="13.9" fill="#262626"/>
<rect x="433.71" y="94.6" width="0.60" height="13.9" fill="#959595"/>
<rect x="434.21" y="94.6" width="0.74" height="13.9" fill="#b1b1b1"/>
<rect x="434.96" y="94.6" width="0.77" height="13.9" fill="#7e7e7e"/>
<rect x="436.02" y="94.6" width="0.52" height="13.9" fill="#8a8a8a"/>
<rect x="437.23" y="94.6" width="0.94" height="13.9" fill="#959595"/>
<rect x="441.00" y="94.6" width="0.56" height="13.9" fill="#797979"/>
<rect x="442.09" y="94.6" width="0.68" height="13.9" fill="#818181"/>
<rect x="443.21" y="94.6" width="1.09" height="13.9" fill="#c7c7c7"/>
<rect x="444.33" y="94.6" width="0.79" height="13.9" fill="#717171"/>
<rect x="445.16" y="94.6" width="0.73" height="13.9" fill="#222222"/>
<rect x="450.56" y="94.6" width="0.80" height="13.9" fill="#b7b7b7"/>
<rect x="451.47" y="94.6" width="0.97" height="13.9" fill="#333333"/>
<rect x="454.16" y="94.6" width="0.96" height="13.9" fill="#797979"/>
<rect x="455.93" y="94.6" width="0.72" height="13.9" fill="#757575"/>
<rect x="457.74" y="94.6" width="0.96" height="13.9" fill="#505050"/>
<rect x="459.49" y="94.6" width="0.89" height="13.9" fill="#8e8e8e"/>
<rect x="460.91" y="94.6" width="0.65" height="13.9" fill="#585858"/>
<rect x="462.59" y="94.6" width="0.89" height="13.9" fill="#7d7d7d"/>
<rect x="464.82" y="94.6" width="0.94" height="13.9" fill="#656565"/>
<rect x="467.23" y="94.6" width="1.02" height="13.9" fill="#808080"/>
<rect x="468.97" y="94.6" width="0.81" height="13.9" fill="#cecece"/>
<rect x="470.26" y="94.6" width="1.06" height="13.9" fill="#7f7f7f"/>
<rect x="471.43" y="94.6" width="0.94" height="13.9" fill="#707070"/>
<rect x="472.09" y="94.6" width="0.90" height="13.9" fill="#b4b4b4"/>
<rect x="473.15" y="94.6" width="0.88" height="13.9" fill="#777777"/>
<rect x="475.01" y="94.6" width="0.76" height="13.9" fill="#242424"/>
<rect x="476.63" y="94.6" width="0.88" height="13.9" fill="#6b6b6b"/>
<rect x="477.13" y="94.6" width="0.53" height="13.9" fill="#2d2d2d"/>
<rect x="477.74" y="94.6" width="0.62" height="13.9" fill="#272727"/>
<rect x="478.23" y="94.6" width="0.87" height="13.9" fill="#424242"/>
<rect x="479.67" y="94.6" width="0.50" height="13.9" fill="#888888"/>
<rect x="480.69" y="94.6" width="0.57" height="13.9" fill="#464646"/>
<rect x="483.12" y="94.6" width="0.87" height="13.9" fill="#131313"/>
<rect x="483.68" y="94.6" width="0.85" height="13.9" fill="#3c3c3c"/>
<rect x="487.66" y="94.6" width="0.99" height="13.9" fill="#a9a9a9"/>
<rect x="489.26" y="94.6" width="0.86" height="13.9" fill="#222222"/>
<rect x="490.63" y="94.6" width="0.87" height="13.9" fill="#cfcfcf"/>
<rect x="491.56" y="94.6" width="0.56" height="13.9" fill="#8c8c8c"/>
<rect x="492.94" y="94.6" width="0.88" height="13.9" fill="#212121"/>
<rect x="495.85" y="94.6" width="0.64" height="13.9" fill="#494949"/>
<rect x="496.68" y="94.6" width="1.08" height="13.9" fill="#a6a6a6"/>
<rect x="499.86" y="94.6" width="1.09" height="13.9" fill="#323232"/>
<rect x="501.07" y="94.6" width="1.09" height="13.9" fill="#3a3a3a"/>
<rect x="502.27" y="94.6" width="0.57" height="13.9" fill="#4f4f4f"/>
<rect x="503.80" y="94.6" width="0.97" height="13.9" fill="#363636"/>
<rect x="506.20" y="94.6" width="0.66" height="13.9" fill="#565656"/>
<rect x="509.69" y="94.6" width="0.66" height="13.9" fill="#9d9d9d"/>
<rect x="510.33" y="94.6" width="0.86" height="13.9" fill="#a0a0a0"/>
<rect x="511.49" y="94.6" width="0.95" height="13.9" fill="#606060"/>
<rect x="512.08" y="94.6" width="0.82" height="13.9" fill="#a1a1a1"/>
<rect x="512.99" y="94.6" width="0.78" height="13.9" fill="#565656"/>
<rect x="396.50" y="108.50" width="19.50" height="6.00" fill="#e34b36" />
<rect x="416.00" y="108.50" width="16.00" height="6.00" fill="#ef7256" />
<rect x="432.00" y="108.50" width="20.00" height="6.00" fill="#f4a58b" />
<rect x="452.00" y="108.50" width="18.00" height="6.00" fill="#fadbcd" />
<rect x="470.00" y="108.50" width="16.00" height="6.00" fill="#f1f1f6" />
<rect x="486.00" y="108.50" width="12.00" height="6.00" fill="#c6d8ea" />
<rect x="498.00" y="108.50" width="15.50" height="6.00" fill="#5f93c9" />
<line x1="396.50" y1="115.00" x2="396.50" y2="142.90" stroke="#1a1a1a" stroke-width="1.0" />
<line x1="393.50" y1="122.60" x2="396.50" y2="122.60" stroke="#1a1a1a" stroke-width="1.0" />
<text x="390.40" y="125.26" font-size="6.3" fill="#2b2b2b" text-anchor="end">5</text>
<line x1="393.50" y1="130.70" x2="396.50" y2="130.70" stroke="#1a1a1a" stroke-width="1.0" />
<text x="390.40" y="133.36" font-size="6.3" fill="#2b2b2b" text-anchor="end">0</text>
<line x1="393.50" y1="138.80" x2="396.50" y2="138.80" stroke="#1a1a1a" stroke-width="1.0" />
<text x="390.40" y="141.46" font-size="6.3" fill="#2b2b2b" text-anchor="end">−5</text>
<path d="M396,128.4 C404,130 416,130.6 456,130.8 L501,131 C508,131.4 512,132 513.5,133 L513.5,130.7 L396,130.7 Z" fill="#e6e6e6" stroke="none"/>
<path d="M396,128.4 C404,130 416,130.6 456,130.8 L501,131 C508,131.4 512,132 513.5,133" fill="none" stroke="#aaa" stroke-width="0.6"/>
<line x1="396.00" y1="142.50" x2="513.80" y2="142.50" stroke="#1a1a1a" stroke-width="1.0" />
<line x1="436.80" y1="142.50" x2="436.80" y2="144.90" stroke="#1a1a1a" stroke-width="1.0" />
<line x1="477.80" y1="142.50" x2="477.80" y2="144.90" stroke="#1a1a1a" stroke-width="1.0" />
<text x="436.80" y="154.56" font-size="6.6" fill="#2b2b2b" text-anchor="middle">5000</text>
<text x="477.80" y="154.56" font-size="6.6" fill="#2b2b2b" text-anchor="middle">10000</text>
<text x="454.50" y="166.57" font-size="8.3" fill="#2b2b2b" text-anchor="middle" textLength="71.5" lengthAdjust="spacingAndGlyphs">Rank in ordered dataset</text>
<text transform="translate(362.70,67.16) rotate(-90)" x="0" y="2.65" font-size="7.4" fill="#2b2b2b" text-anchor="middle" textLength="62.6" lengthAdjust="spacingAndGlyphs">Running enrichment</text>
<text transform="translate(372.60,69.30) rotate(-90)" x="0" y="2.65" font-size="7.4" fill="#2b2b2b" text-anchor="middle">score</text>
<text transform="translate(362.70,130.70) rotate(-90)" x="0" y="2.65" font-size="7.4" fill="#2b2b2b" text-anchor="middle" textLength="34" lengthAdjust="spacingAndGlyphs">Ranked list</text>
<text transform="translate(372.60,130.30) rotate(-90)" x="0" y="2.65" font-size="7.4" fill="#2b2b2b" text-anchor="middle">metric</text>
<text x="6.90" y="184.90" font-size="12" fill="#111" font-weight="bold">C</text>
<rect x="35.00" y="214.50" width="13.84" height="12.85" fill="#eceef8" />
<rect x="48.79" y="214.50" width="13.84" height="12.85" fill="#fdfbfb" />
<rect x="62.58" y="214.50" width="13.84" height="12.85" fill="#fbf8f8" />
<rect x="76.37" y="214.50" width="13.84" height="12.85" fill="#dfe1f2" />
<rect x="90.16" y="214.50" width="13.84" height="12.85" fill="#fcfbfc" />
<rect x="103.95" y="214.50" width="13.84" height="12.85" fill="#f0f0f7" />
<rect x="117.74" y="214.50" width="13.84" height="12.85" fill="#f2f0f6" />
<rect x="35.00" y="227.30" width="13.84" height="12.85" fill="#8e98d4" />
<rect x="48.79" y="227.30" width="13.84" height="12.85" fill="#fdf9f9" />
<rect x="62.58" y="227.30" width="13.84" height="12.85" fill="#5661b6" />
<rect x="76.37" y="227.30" width="13.84" height="12.85" fill="#f3aaa6" />
<rect x="90.16" y="227.30" width="13.84" height="12.85" fill="#fdf0ee" />
<rect x="103.95" y="227.30" width="13.84" height="12.85" fill="#fdede9" />
<rect x="117.74" y="227.30" width="13.84" height="12.85" fill="#2b2a88" />
<rect x="35.00" y="240.10" width="13.84" height="12.85" fill="#f7c8c5" />
<rect x="48.79" y="240.10" width="13.84" height="12.85" fill="#f3b1ac" />
<rect x="62.58" y="240.10" width="13.84" height="12.85" fill="#f5bdb8" />
<rect x="76.37" y="240.10" width="13.84" height="12.85" fill="#2a298b" />
<rect x="90.16" y="240.10" width="13.84" height="12.85" fill="#f7c4c1" />
<rect x="103.95" y="240.10" width="13.84" height="12.85" fill="#f5bcb8" />
<rect x="117.74" y="240.10" width="13.84" height="12.85" fill="#f6c5c1" />
<rect x="35.00" y="252.90" width="13.84" height="12.85" fill="#f8cecb" />
<rect x="48.79" y="252.90" width="13.84" height="12.85" fill="#f5bfbb" />
<rect x="62.58" y="252.90" width="13.84" height="12.85" fill="#fbe8e6" />
<rect x="76.37" y="252.90" width="13.84" height="12.85" fill="#f5b9b5" />
<rect x="90.16" y="252.90" width="13.84" height="12.85" fill="#f8cbc8" />
<rect x="103.95" y="252.90" width="13.84" height="12.85" fill="#f5bdb9" />
<rect x="117.74" y="252.90" width="13.84" height="12.85" fill="#fad8d5" />
<rect x="35.00" y="265.70" width="13.84" height="12.85" fill="#f4b3ae" />
<rect x="48.79" y="265.70" width="13.84" height="12.85" fill="#f1a39d" />
<rect x="62.58" y="265.70" width="13.84" height="12.85" fill="#fce7e5" />
<rect x="76.37" y="265.70" width="13.84" height="12.85" fill="#e3381f" />
<rect x="90.16" y="265.70" width="13.84" height="12.85" fill="#f5bab6" />
<rect x="103.95" y="265.70" width="13.84" height="12.85" fill="#f5b7b2" />
<rect x="117.74" y="265.70" width="13.84" height="12.85" fill="#f5c0bb" />
<rect x="35" y="214.5" width="96.53" height="64.00" fill="none" stroke="#333" stroke-width="0.9"/>
<text transform="translate(43.09,211) rotate(-90)" x="0" y="0" font-size="6.4" fill="#2b2b2b">CXCL8</text>
<text transform="translate(56.89,211) rotate(-90)" x="0" y="0" font-size="6.4" fill="#2b2b2b">CCL2</text>
<text transform="translate(70.67,211) rotate(-90)" x="0" y="0" font-size="6.4" fill="#2b2b2b">IL-6</text>
<text transform="translate(84.47,211) rotate(-90)" x="0" y="0" font-size="6.4" fill="#2b2b2b">IL-1β</text>
<text transform="translate(98.25,211) rotate(-90)" x="0" y="0" font-size="6.4" fill="#2b2b2b">IFNγ</text>
<text transform="translate(112.05,211) rotate(-90)" x="0" y="0" font-size="6.4" fill="#2b2b2b">TNFα</text>
<text transform="translate(125.83,211) rotate(-90)" x="0" y="0" font-size="6.4" fill="#2b2b2b">IL-10</text>
<text x="30.80" y="223.26" font-size="6.6" fill="#2b2b2b" text-anchor="end">C2N</text>
<text x="30.80" y="236.06" font-size="6.6" fill="#2b2b2b" text-anchor="end">C4N</text>
<text x="30.80" y="248.86" font-size="6.6" fill="#2b2b2b" text-anchor="end">T2N</text>
<text x="30.80" y="261.66" font-size="6.6" fill="#2b2b2b" text-anchor="end">T4N</text>
<text x="30.80" y="274.46" font-size="6.6" fill="#2b2b2b" text-anchor="end">&gt;T4N</text>
<defs><linearGradient id="cb" x1="0" y1="0" x2="0" y2="1"><stop offset="0" stop-color="#d7452a"/><stop offset="0.28" stop-color="#ec8466"/><stop offset="0.56" stop-color="#f8cbbb"/><stop offset="0.7" stop-color="#fdf3ef"/><stop offset="0.8" stop-color="#f6f4f8"/><stop offset="0.87" stop-color="#c9c8e4"/><stop offset="1" stop-color="#33308c"/></linearGradient></defs>
<rect x="135" y="214.2" width="4.7" height="64.3" fill="url(#cb)" stroke="#444" stroke-width="0.5"/>
<line x1="135.00" y1="215.80" x2="136.00" y2="215.80" stroke="#444" stroke-width="0.5" />
<line x1="138.80" y1="215.80" x2="139.70" y2="215.80" stroke="#444" stroke-width="0.5" />
<text x="142.40" y="218.46" font-size="6.6" fill="#2b2b2b">3</text>
<line x1="135.00" y1="234.00" x2="136.00" y2="234.00" stroke="#444" stroke-width="0.5" />
<line x1="138.80" y1="234.00" x2="139.70" y2="234.00" stroke="#444" stroke-width="0.5" />
<text x="142.40" y="236.66" font-size="6.6" fill="#2b2b2b">2</text>
<line x1="135.00" y1="251.90" x2="136.00" y2="251.90" stroke="#444" stroke-width="0.5" />
<line x1="138.80" y1="251.90" x2="139.70" y2="251.90" stroke="#444" stroke-width="0.5" />
<text x="142.40" y="254.56" font-size="6.6" fill="#2b2b2b">1</text>
<line x1="135.00" y1="270.10" x2="136.00" y2="270.10" stroke="#444" stroke-width="0.5" />
<line x1="138.80" y1="270.10" x2="139.70" y2="270.10" stroke="#444" stroke-width="0.5" />
<text x="142.40" y="272.76" font-size="6.6" fill="#2b2b2b">0</text>
<text x="135.30" y="210.29" font-size="6.4" fill="#2b2b2b" textLength="24.4" lengthAdjust="spacingAndGlyphs">Log2 FC</text>
<text x="161.60" y="184.80" font-size="12" fill="#111" font-weight="bold">D</text>
<line x1="202.50" y1="194.50" x2="202.50" y2="276.70" stroke="#1a1a1a" stroke-width="1.0" />
<line x1="199.50" y1="276.20" x2="202.50" y2="276.20" stroke="#1a1a1a" stroke-width="1.0" />
<text x="196.40" y="278.89" font-size="6.4" fill="#2b2b2b" text-anchor="end">0</text>
<line x1="199.50" y1="260.40" x2="202.50" y2="260.40" stroke="#1a1a1a" stroke-width="1.0" />
<text x="196.40" y="263.09" font-size="6.4" fill="#2b2b2b" text-anchor="end">1</text>
<line x1="199.50" y1="244.60" x2="202.50" y2="244.60" stroke="#1a1a1a" stroke-width="1.0" />
<text x="196.40" y="247.29" font-size="6.4" fill="#2b2b2b" text-anchor="end">2</text>
<line x1="199.50" y1="228.80" x2="202.50" y2="228.80" stroke="#1a1a1a" stroke-width="1.0" />
<text x="196.40" y="231.49" font-size="6.4" fill="#2b2b2b" text-anchor="end">3</text>
<line x1="199.50" y1="213.00" x2="202.50" y2="213.00" stroke="#1a1a1a" stroke-width="1.0" />
<text x="196.40" y="215.69" font-size="6.4" fill="#2b2b2b" text-anchor="end">4</text>
<line x1="199.50" y1="197.20" x2="202.50" y2="197.20" stroke="#1a1a1a" stroke-width="1.0" />
<text x="196.40" y="199.89" font-size="6.4" fill="#2b2b2b" text-anchor="end">5</text>
<line x1="202.00" y1="276.50" x2="281.70" y2="276.50" stroke="#1a1a1a" stroke-width="1.0" />
<line x1="208.85" y1="276.50" x2="208.85" y2="278.50" stroke="#1a1a1a" stroke-width="1.0" />
<line x1="217.55" y1="276.50" x2="217.55" y2="278.50" stroke="#1a1a1a" stroke-width="1.0" />
<line x1="226.15" y1="276.50" x2="226.15" y2="278.50" stroke="#1a1a1a" stroke-width="1.0" />
<line x1="234.85" y1="276.50" x2="234.85" y2="278.50" stroke="#1a1a1a" stroke-width="1.0" />
<line x1="249.50" y1="276.50" x2="249.50" y2="278.50" stroke="#1a1a1a" stroke-width="1.0" />
<line x1="258.40" y1="276.50" x2="258.40" y2="278.50" stroke="#1a1a1a" stroke-width="1.0" />
<line x1="267.20" y1="276.50" x2="267.20" y2="278.50" stroke="#1a1a1a" stroke-width="1.0" />
<line x1="275.80" y1="276.50" x2="275.80" y2="278.50" stroke="#1a1a1a" stroke-width="1.0" />
<rect x="206.70" y="260.40" width="4.30" height="15.80" fill="#1c4f8e" />
<rect x="215.40" y="261.98" width="4.30" height="14.22" fill="#c8102e" />
<line x1="217.55" y1="261.98" x2="217.55" y2="260.08" stroke="#c8102e" stroke-width="0.7" />
<line x1="216.26" y1="260.08" x2="218.84" y2="260.08" stroke="#c8102e" stroke-width="0.7" />
<rect x="224.00" y="215.37" width="4.30" height="60.83" fill="#3cb44a" />
<line x1="226.15" y1="215.37" x2="226.15" y2="206.68" stroke="#3cb44a" stroke-width="0.7" />
<line x1="224.86" y1="206.68" x2="227.44" y2="206.68" stroke="#3cb44a" stroke-width="0.7" />
<rect x="232.70" y="247.76" width="4.30" height="28.44" fill="#5b1e6c" />
<line x1="234.85" y1="247.76" x2="234.85" y2="243.49" stroke="#5b1e6c" stroke-width="0.7" />
<line x1="233.56" y1="243.49" x2="236.14" y2="243.49" stroke="#5b1e6c" stroke-width="0.7" />
<rect x="247.35" y="260.40" width="4.30" height="15.80" fill="#1c4f8e" />
<rect x="256.25" y="265.14" width="4.30" height="11.06" fill="#c8102e" />
<line x1="258.40" y1="265.14" x2="258.40" y2="262.45" stroke="#c8102e" stroke-width="0.7" />
<line x1="257.11" y1="262.45" x2="259.69" y2="262.45" stroke="#c8102e" stroke-width="0.7" />
<rect x="265.05" y="242.55" width="4.30" height="33.65" fill="#3cb44a" />
<line x1="267.20" y1="242.55" x2="267.20" y2="237.49" stroke="#3cb44a" stroke-width="0.7" />
<line x1="265.91" y1="237.49" x2="268.49" y2="237.49" stroke="#3cb44a" stroke-width="0.7" />
<rect x="273.65" y="259.61" width="4.30" height="16.59" fill="#5b1e6c" />
<line x1="275.80" y1="259.61" x2="275.80" y2="256.13" stroke="#5b1e6c" stroke-width="0.7" />
<line x1="274.51" y1="256.13" x2="277.09" y2="256.13" stroke="#5b1e6c" stroke-width="0.7" />
<text x="224.30" y="192.49" font-size="6.4" fill="#2b2b2b" text-anchor="middle">CCL2</text>
<text x="261.80" y="192.79" font-size="6.4" fill="#2b2b2b" text-anchor="middle">CXCL8</text>
<line x1="210.00" y1="196.00" x2="238.70" y2="196.00" stroke="#8a8a8a" stroke-width="0.9" />
<line x1="247.20" y1="196.00" x2="276.30" y2="196.00" stroke="#8a8a8a" stroke-width="0.9" />
<line x1="208.40" y1="202.90" x2="225.00" y2="202.90" stroke="#505050" stroke-width="0.7" />
<text x="216.70" y="202.96" font-size="6.6" fill="#2a2a2a" text-anchor="middle" font-weight="bold">*</text>
<line x1="226.60" y1="205.50" x2="236.00" y2="205.50" stroke="#505050" stroke-width="0.7" />
<text x="231.30" y="205.56" font-size="6.6" fill="#2a2a2a" text-anchor="middle" font-weight="bold">*</text>
<line x1="250.30" y1="232.20" x2="266.00" y2="232.20" stroke="#505050" stroke-width="0.7" />
<text x="258.15" y="232.26" font-size="6.6" fill="#2a2a2a" text-anchor="middle" font-weight="bold">*</text>
<line x1="267.20" y1="233.90" x2="277.50" y2="233.90" stroke="#505050" stroke-width="0.7" />
<text x="272.35" y="233.96" font-size="6.6" fill="#2a2a2a" text-anchor="middle" font-weight="bold">*</text>
<text x="202.40" y="287.66" font-size="6.3" fill="#2b2b2b" text-anchor="end">PLK4i</text>
<text x="202.40" y="297.66" font-size="6.3" fill="#2b2b2b" text-anchor="end">IL-1β Ab</text>
<text x="208.85" y="287.61" font-size="6.18" fill="#2b2b2b" text-anchor="middle" font-weight="bold">–</text>
<text x="217.55" y="287.61" font-size="6.18" fill="#2b2b2b" text-anchor="middle" font-weight="bold">–</text>
<text x="226.15" y="288.02" font-size="6.48" fill="#2b2b2b" text-anchor="middle">+</text>
<text x="234.85" y="288.02" font-size="6.48" fill="#2b2b2b" text-anchor="middle">+</text>
<text x="249.50" y="287.61" font-size="6.18" fill="#2b2b2b" text-anchor="middle" font-weight="bold">–</text>
<text x="258.40" y="287.61" font-size="6.18" fill="#2b2b2b" text-anchor="middle" font-weight="bold">–</text>
<text x="267.20" y="288.02" font-size="6.48" fill="#2b2b2b" text-anchor="middle">+</text>
<text x="275.80" y="288.02" font-size="6.48" fill="#2b2b2b" text-anchor="middle">+</text>
<text x="208.85" y="297.61" font-size="6.18" fill="#2b2b2b" text-anchor="middle" font-weight="bold">–</text>
<text x="217.55" y="298.02" font-size="6.48" fill="#2b2b2b" text-anchor="middle">+</text>
<text x="226.15" y="297.61" font-size="6.18" fill="#2b2b2b" text-anchor="middle" font-weight="bold">–</text>
<text x="234.85" y="298.02" font-size="6.48" fill="#2b2b2b" text-anchor="middle">+</text>
<text x="249.50" y="297.61" font-size="6.18" fill="#2b2b2b" text-anchor="middle" font-weight="bold">–</text>
<text x="258.40" y="298.02" font-size="6.48" fill="#2b2b2b" text-anchor="middle">+</text>
<text x="267.20" y="297.61" font-size="6.18" fill="#2b2b2b" text-anchor="middle" font-weight="bold">–</text>
<text x="275.80" y="298.02" font-size="6.48" fill="#2b2b2b" text-anchor="middle">+</text>
<text transform="translate(173.95,235.20) rotate(-90)" x="0" y="2.89" font-size="8.07" fill="#2b2b2b" text-anchor="middle" textLength="36.4" lengthAdjust="spacingAndGlyphs">Fold change</text>
<text transform="translate(184.35,235.20) rotate(-90)" x="0" y="3.01" font-size="8.41" fill="#2b2b2b" text-anchor="middle" textLength="64.8" lengthAdjust="spacingAndGlyphs">normalized to vehicle</text>
<text x="283.80" y="185.80" font-size="12" fill="#111" font-weight="bold">E</text>
<line x1="318.50" y1="196.00" x2="318.50" y2="274.90" stroke="#1a1a1a" stroke-width="1.0" />
<line x1="315.50" y1="274.40" x2="318.50" y2="274.40" stroke="#1a1a1a" stroke-width="1.0" />
<text x="312.40" y="277.09" font-size="6.4" fill="#2b2b2b" text-anchor="end">0.0</text>
<line x1="315.50" y1="259.45" x2="318.50" y2="259.45" stroke="#1a1a1a" stroke-width="1.0" />
<text x="312.40" y="262.14" font-size="6.4" fill="#2b2b2b" text-anchor="end">0.5</text>
<line x1="315.50" y1="244.50" x2="318.50" y2="244.50" stroke="#1a1a1a" stroke-width="1.0" />
<text x="312.40" y="247.19" font-size="6.4" fill="#2b2b2b" text-anchor="end">1.0</text>
<line x1="315.50" y1="229.55" x2="318.50" y2="229.55" stroke="#1a1a1a" stroke-width="1.0" />
<text x="312.40" y="232.24" font-size="6.4" fill="#2b2b2b" text-anchor="end">1.5</text>
<line x1="315.50" y1="214.60" x2="318.50" y2="214.60" stroke="#1a1a1a" stroke-width="1.0" />
<text x="312.40" y="217.29" font-size="6.4" fill="#2b2b2b" text-anchor="end">2.0</text>
<line x1="315.50" y1="199.65" x2="318.50" y2="199.65" stroke="#1a1a1a" stroke-width="1.0" />
<text x="312.40" y="202.34" font-size="6.4" fill="#2b2b2b" text-anchor="end">2.5</text>
<line x1="318.00" y1="274.50" x2="392.90" y2="274.50" stroke="#1a1a1a" stroke-width="1.0" />
<line x1="327.90" y1="274.50" x2="327.90" y2="276.50" stroke="#1a1a1a" stroke-width="1.0" />
<line x1="341.75" y1="274.50" x2="341.75" y2="276.50" stroke="#1a1a1a" stroke-width="1.0" />
<line x1="355.55" y1="274.50" x2="355.55" y2="276.50" stroke="#1a1a1a" stroke-width="1.0" />
<line x1="369.65" y1="274.50" x2="369.65" y2="276.50" stroke="#1a1a1a" stroke-width="1.0" />
<line x1="383.55" y1="274.50" x2="383.55" y2="276.50" stroke="#1a1a1a" stroke-width="1.0" />
<rect x="323.80" y="244.50" width="8.20" height="29.90" fill="#1c4f8e" />
<line x1="327.90" y1="244.50" x2="327.90" y2="241.51" stroke="#1c4f8e" stroke-width="0.7" />
<line x1="325.44" y1="241.51" x2="330.36" y2="241.51" stroke="#1c4f8e" stroke-width="0.7" />
<rect x="337.65" y="248.09" width="8.20" height="26.31" fill="#c8102e" />
<line x1="341.75" y1="248.09" x2="341.75" y2="247.49" stroke="#c8102e" stroke-width="0.7" />
<line x1="339.29" y1="247.49" x2="344.21" y2="247.49" stroke="#c8102e" stroke-width="0.7" />
<rect x="351.45" y="216.69" width="8.20" height="57.71" fill="#3cb44a" />
<line x1="355.55" y1="216.69" x2="355.55" y2="211.61" stroke="#3cb44a" stroke-width="0.7" />
<line x1="353.09" y1="211.61" x2="358.01" y2="211.61" stroke="#3cb44a" stroke-width="0.7" />
<rect x="365.55" y="221.18" width="8.20" height="53.22" fill="#5b1e6c" />
<line x1="369.65" y1="221.18" x2="369.65" y2="217.59" stroke="#5b1e6c" stroke-width="0.7" />
<line x1="367.19" y1="217.59" x2="372.11" y2="217.59" stroke="#5b1e6c" stroke-width="0.7" />
<rect x="379.45" y="222.97" width="8.20" height="51.43" fill="#f7941d" />
<line x1="383.55" y1="222.97" x2="383.55" y2="219.98" stroke="#f7941d" stroke-width="0.7" />
<line x1="381.09" y1="219.98" x2="386.01" y2="219.98" stroke="#f7941d" stroke-width="0.7" />
<line x1="329.60" y1="209.80" x2="351.20" y2="209.80" stroke="#505050" stroke-width="0.7" />
<text x="340.40" y="209.86" font-size="6.6" fill="#2a2a2a" text-anchor="middle" font-weight="bold">*</text>
<line x1="342.00" y1="202.70" x2="369.40" y2="202.70" stroke="#505050" stroke-width="0.7" />
<text x="355.70" y="202.76" font-size="6.6" fill="#2a2a2a" text-anchor="middle" font-weight="bold">*</text>
<line x1="329.60" y1="195.60" x2="382.70" y2="195.60" stroke="#505050" stroke-width="0.7" />
<text x="356.15" y="195.66" font-size="6.6" fill="#2a2a2a" text-anchor="middle" font-weight="bold">*</text>
<text transform="translate(330.50,283.6) rotate(-45)" x="0" y="0" font-size="7" fill="#2b2b2b" text-anchor="end">C2N</text>
<text transform="translate(344.35,283.6) rotate(-45)" x="0" y="0" font-size="7" fill="#2b2b2b" text-anchor="end">C4N</text>
<text transform="translate(358.15,283.6) rotate(-45)" x="0" y="0" font-size="7" fill="#2b2b2b" text-anchor="end">T2N</text>
<text transform="translate(372.25,283.6) rotate(-45)" x="0" y="0" font-size="7" fill="#2b2b2b" text-anchor="end">T4N</text>
<text transform="translate(386.15,283.6) rotate(-45)" x="0" y="0" font-size="7" fill="#2b2b2b" text-anchor="end">&gt;T4N</text>
<text transform="translate(294.55,235.20) rotate(-90)" x="0" y="2.96" font-size="8.28" fill="#2b2b2b" text-anchor="middle" textLength="61.5" lengthAdjust="spacingAndGlyphs">STING dimer/tubulin</text>
<text x="394.80" y="185.50" font-size="12" fill="#111" font-weight="bold">F</text>
<line x1="434.50" y1="193.00" x2="434.50" y2="274.00" stroke="#1a1a1a" stroke-width="1.0" />
<line x1="431.50" y1="273.50" x2="434.50" y2="273.50" stroke="#1a1a1a" stroke-width="1.0" />
<text x="428.40" y="276.19" font-size="6.4" fill="#2b2b2b" text-anchor="end">0</text>
<line x1="431.50" y1="257.79" x2="434.50" y2="257.79" stroke="#1a1a1a" stroke-width="1.0" />
<text x="428.40" y="260.48" font-size="6.4" fill="#2b2b2b" text-anchor="end">500</text>
<line x1="431.50" y1="242.07" x2="434.50" y2="242.07" stroke="#1a1a1a" stroke-width="1.0" />
<text x="428.40" y="244.76" font-size="6.4" fill="#2b2b2b" text-anchor="end">1000</text>
<line x1="431.50" y1="226.36" x2="434.50" y2="226.36" stroke="#1a1a1a" stroke-width="1.0" />
<text x="428.40" y="229.05" font-size="6.4" fill="#2b2b2b" text-anchor="end">1500</text>
<line x1="431.50" y1="210.64" x2="434.50" y2="210.64" stroke="#1a1a1a" stroke-width="1.0" />
<text x="428.40" y="213.33" font-size="6.4" fill="#2b2b2b" text-anchor="end">2000</text>
<line x1="431.50" y1="194.93" x2="434.50" y2="194.93" stroke="#1a1a1a" stroke-width="1.0" />
<text x="428.40" y="197.62" font-size="6.4" fill="#2b2b2b" text-anchor="end">2500</text>
<line x1="434.00" y1="273.50" x2="513.30" y2="273.50" stroke="#1a1a1a" stroke-width="1.0" />
<line x1="444.50" y1="273.50" x2="444.50" y2="275.50" stroke="#1a1a1a" stroke-width="1.0" />
<line x1="459.50" y1="273.50" x2="459.50" y2="275.50" stroke="#1a1a1a" stroke-width="1.0" />
<line x1="474.15" y1="273.50" x2="474.15" y2="275.50" stroke="#1a1a1a" stroke-width="1.0" />
<line x1="488.70" y1="273.50" x2="488.70" y2="275.50" stroke="#1a1a1a" stroke-width="1.0" />
<line x1="503.55" y1="273.50" x2="503.55" y2="275.50" stroke="#1a1a1a" stroke-width="1.0" />
<rect x="440.20" y="265.64" width="8.60" height="7.86" fill="#1c4f8e" />
<line x1="444.50" y1="265.64" x2="444.50" y2="264.86" stroke="#1c4f8e" stroke-width="0.7" />
<line x1="441.92" y1="264.86" x2="447.08" y2="264.86" stroke="#1c4f8e" stroke-width="0.7" />
<rect x="455.20" y="254.64" width="8.60" height="18.86" fill="#c8102e" />
<line x1="459.50" y1="254.64" x2="459.50" y2="252.13" stroke="#c8102e" stroke-width="0.7" />
<line x1="456.92" y1="252.13" x2="462.08" y2="252.13" stroke="#c8102e" stroke-width="0.7" />
<rect x="469.85" y="221.64" width="8.60" height="51.86" fill="#3cb44a" />
<line x1="474.15" y1="221.64" x2="474.15" y2="219.44" stroke="#3cb44a" stroke-width="0.7" />
<line x1="471.57" y1="219.44" x2="476.73" y2="219.44" stroke="#3cb44a" stroke-width="0.7" />
<rect x="484.40" y="237.36" width="8.60" height="36.14" fill="#5b1e6c" />
<line x1="488.70" y1="237.36" x2="488.70" y2="234.84" stroke="#5b1e6c" stroke-width="0.7" />
<line x1="486.12" y1="234.84" x2="491.28" y2="234.84" stroke="#5b1e6c" stroke-width="0.7" />
<rect x="499.25" y="243.64" width="8.60" height="29.86" fill="#f7941d" />
<line x1="503.55" y1="243.64" x2="503.55" y2="242.38" stroke="#f7941d" stroke-width="0.7" />
<line x1="500.97" y1="242.38" x2="506.13" y2="242.38" stroke="#f7941d" stroke-width="0.7" />
<line x1="443.00" y1="216.50" x2="475.80" y2="216.50" stroke="#505050" stroke-width="0.7" />
<text x="459.40" y="216.56" font-size="6.6" fill="#2a2a2a" text-anchor="middle" font-weight="bold">*</text>
<line x1="460.40" y1="208.50" x2="489.20" y2="208.50" stroke="#505050" stroke-width="0.7" />
<text x="474.80" y="208.56" font-size="6.6" fill="#2a2a2a" text-anchor="middle" font-weight="bold">*</text>
<line x1="443.50" y1="200.80" x2="504.00" y2="200.80" stroke="#505050" stroke-width="0.7" />
<text x="473.75" y="200.86" font-size="6.6" fill="#2a2a2a" text-anchor="middle" font-weight="bold">*</text>
<text transform="translate(447.10,283.1) rotate(-45)" x="0" y="0" font-size="7" fill="#2b2b2b" text-anchor="end">C2N</text>
<text transform="translate(462.10,283.1) rotate(-45)" x="0" y="0" font-size="7" fill="#2b2b2b" text-anchor="end">C4N</text>
<text transform="translate(476.75,283.1) rotate(-45)" x="0" y="0" font-size="7" fill="#2b2b2b" text-anchor="end">T2N</text>
<text transform="translate(491.30,283.1) rotate(-45)" x="0" y="0" font-size="7" fill="#2b2b2b" text-anchor="end">T4N</text>
<text transform="translate(506.15,283.1) rotate(-45)" x="0" y="0" font-size="7" fill="#2b2b2b" text-anchor="end">&gt;T4N</text>
<text transform="translate(406.65,233.00) rotate(-90)" x="0" y="2.94" font-size="8.21" fill="#2b2b2b" text-anchor="middle" textLength="58.6" lengthAdjust="spacingAndGlyphs">2’3’-cGAMP (pg/ml)</text>
<text x="7.00" y="315.90" font-size="12" fill="#111" font-weight="bold">G</text>
<line x1="53.50" y1="327.40" x2="53.50" y2="405.80" stroke="#1a1a1a" stroke-width="1.0" />
<line x1="50.50" y1="405.30" x2="53.50" y2="405.30" stroke="#1a1a1a" stroke-width="1.0" />
<text x="47.40" y="407.99" font-size="6.4" fill="#2b2b2b" text-anchor="end">0</text>
<line x1="50.50" y1="372.70" x2="53.50" y2="372.70" stroke="#1a1a1a" stroke-width="1.0" />
<text x="47.40" y="375.39" font-size="6.4" fill="#2b2b2b" text-anchor="end">5000</text>
<line x1="50.50" y1="340.10" x2="53.50" y2="340.10" stroke="#1a1a1a" stroke-width="1.0" />
<text x="47.40" y="342.79" font-size="6.4" fill="#2b2b2b" text-anchor="end">10000</text>
<line x1="53.00" y1="405.50" x2="171.20" y2="405.50" stroke="#1a1a1a" stroke-width="1.0" />
<line x1="74.00" y1="405.50" x2="74.00" y2="407.70" stroke="#1a1a1a" stroke-width="1.0" />
<line x1="116.40" y1="405.50" x2="116.40" y2="407.70" stroke="#1a1a1a" stroke-width="1.0" />
<line x1="155.20" y1="405.50" x2="155.20" y2="407.70" stroke="#1a1a1a" stroke-width="1.0" />
<rect x="56.65" y="383.80" width="4.50" height="21.50" fill="#1c4f8e" />
<line x1="58.90" y1="383.80" x2="58.90" y2="380.60" stroke="#1c4f8e" stroke-width="0.7" />
<line x1="57.55" y1="380.60" x2="60.25" y2="380.60" stroke="#1c4f8e" stroke-width="0.7" />
<text x="58.90" y="379.86" font-size="5.2" fill="#333" text-anchor="middle">#</text>
<rect x="64.30" y="367.50" width="4.50" height="37.80" fill="#c8102e" />
<line x1="66.55" y1="367.50" x2="66.55" y2="360.70" stroke="#c8102e" stroke-width="0.7" />
<line x1="65.20" y1="360.70" x2="67.90" y2="360.70" stroke="#c8102e" stroke-width="0.7" />
<text x="66.55" y="359.96" font-size="5.2" fill="#333" text-anchor="middle">#</text>
<rect x="71.90" y="388.00" width="4.50" height="17.30" fill="#3cb44a" />
<line x1="74.15" y1="388.00" x2="74.15" y2="383.20" stroke="#3cb44a" stroke-width="0.7" />
<line x1="72.80" y1="383.20" x2="75.50" y2="383.20" stroke="#3cb44a" stroke-width="0.7" />
<text x="74.15" y="382.46" font-size="5.2" fill="#333" text-anchor="middle">#</text>
<rect x="79.30" y="383.80" width="4.50" height="21.50" fill="#5b1e6c" />
<line x1="81.55" y1="383.80" x2="81.55" y2="376.30" stroke="#5b1e6c" stroke-width="0.7" />
<line x1="80.20" y1="376.30" x2="82.90" y2="376.30" stroke="#5b1e6c" stroke-width="0.7" />
<text x="81.55" y="375.56" font-size="5.2" fill="#333" text-anchor="middle">#</text>
<rect x="86.70" y="389.60" width="4.50" height="15.70" fill="#f7941d" />
<line x1="88.95" y1="389.60" x2="88.95" y2="385.10" stroke="#f7941d" stroke-width="0.7" />
<line x1="87.60" y1="385.10" x2="90.30" y2="385.10" stroke="#f7941d" stroke-width="0.7" />
<text x="88.95" y="384.36" font-size="5.2" fill="#333" text-anchor="middle">#</text>
<rect x="99.20" y="370.00" width="4.50" height="35.30" fill="#1c4f8e" />
<line x1="101.45" y1="370.00" x2="101.45" y2="364.60" stroke="#1c4f8e" stroke-width="0.7" />
<line x1="100.10" y1="364.60" x2="102.80" y2="364.60" stroke="#1c4f8e" stroke-width="0.7" />
<text x="101.45" y="363.86" font-size="5.2" fill="#333" text-anchor="middle">#</text>
<rect x="106.60" y="355.80" width="4.50" height="49.50" fill="#c8102e" />
<line x1="108.85" y1="355.80" x2="108.85" y2="347.00" stroke="#c8102e" stroke-width="0.7" />
<line x1="107.50" y1="347.00" x2="110.20" y2="347.00" stroke="#c8102e" stroke-width="0.7" />
<text x="108.85" y="346.26" font-size="5.2" fill="#333" text-anchor="middle">#</text>
<rect x="114.15" y="383.60" width="4.50" height="21.70" fill="#3cb44a" />
<line x1="116.40" y1="383.60" x2="116.40" y2="378.30" stroke="#3cb44a" stroke-width="0.7" />
<line x1="115.05" y1="378.30" x2="117.75" y2="378.30" stroke="#3cb44a" stroke-width="0.7" />
<text x="116.40" y="377.56" font-size="5.2" fill="#333" text-anchor="middle">#</text>
<rect x="121.70" y="376.90" width="4.50" height="28.40" fill="#5b1e6c" />
<line x1="123.95" y1="376.90" x2="123.95" y2="368.50" stroke="#5b1e6c" stroke-width="0.7" />
<line x1="122.60" y1="368.50" x2="125.30" y2="368.50" stroke="#5b1e6c" stroke-width="0.7" />
<text x="123.95" y="367.76" font-size="5.2" fill="#333" text-anchor="middle">#</text>
<rect x="129.10" y="383.20" width="4.50" height="22.10" fill="#f7941d" />
<line x1="131.35" y1="383.20" x2="131.35" y2="377.30" stroke="#f7941d" stroke-width="0.7" />
<line x1="130.00" y1="377.30" x2="132.70" y2="377.30" stroke="#f7941d" stroke-width="0.7" />
<text x="131.35" y="376.56" font-size="5.2" fill="#333" text-anchor="middle">#</text>
<rect x="141.60" y="340.10" width="4.50" height="65.20" fill="#c8102e" />
<line x1="143.85" y1="340.10" x2="143.85" y2="330.30" stroke="#c8102e" stroke-width="0.7" />
<line x1="142.50" y1="330.30" x2="145.20" y2="330.30" stroke="#c8102e" stroke-width="0.7" />
<text x="143.85" y="329.56" font-size="5.2" fill="#333" text-anchor="middle">#</text>
<rect x="149.20" y="376.90" width="4.50" height="28.40" fill="#3cb44a" />
<line x1="151.45" y1="376.90" x2="151.45" y2="371.40" stroke="#3cb44a" stroke-width="0.7" />
<line x1="150.10" y1="371.40" x2="152.80" y2="371.40" stroke="#3cb44a" stroke-width="0.7" />
<text x="151.45" y="370.66" font-size="5.2" fill="#333" text-anchor="middle">#</text>
<rect x="156.60" y="369.50" width="4.50" height="35.80" fill="#5b1e6c" />
<line x1="158.85" y1="369.50" x2="158.85" y2="362.60" stroke="#5b1e6c" stroke-width="0.7" />
<line x1="157.50" y1="362.60" x2="160.20" y2="362.60" stroke="#5b1e6c" stroke-width="0.7" />
<text x="158.85" y="361.86" font-size="5.2" fill="#333" text-anchor="middle">#</text>
<rect x="164.10" y="372.40" width="4.50" height="32.90" fill="#f7941d" />
<line x1="166.35" y1="372.40" x2="166.35" y2="366.50" stroke="#f7941d" stroke-width="0.7" />
<line x1="165.00" y1="366.50" x2="167.70" y2="366.50" stroke="#f7941d" stroke-width="0.7" />
<text x="166.35" y="365.76" font-size="5.2" fill="#333" text-anchor="middle">#</text>
<text x="73.40" y="324.76" font-size="6.3" fill="#2b2b2b" text-anchor="middle">2N</text>
<line x1="58.70" y1="326.90" x2="86.70" y2="326.90" stroke="#8a8a8a" stroke-width="1.0" />
<text x="114.50" y="324.76" font-size="6.3" fill="#2b2b2b" text-anchor="middle">4N</text>
<line x1="100.80" y1="326.90" x2="128.20" y2="326.90" stroke="#8a8a8a" stroke-width="1.0" />
<text x="156.10" y="324.76" font-size="6.3" fill="#2b2b2b" text-anchor="middle">&gt;4N</text>
<line x1="142.40" y1="326.90" x2="170.20" y2="326.90" stroke="#8a8a8a" stroke-width="1.0" />
<text x="51.30" y="417.26" font-size="6.3" fill="#2b2b2b" text-anchor="end">PLK4i</text>
<text x="51.30" y="427.16" font-size="6.3" fill="#2b2b2b" text-anchor="end">cGASi</text>
<text x="51.30" y="437.26" font-size="6.3" fill="#2b2b2b" text-anchor="end">STINGi</text>
<text x="58.30" y="417.21" font-size="6.18" fill="#2b2b2b" text-anchor="middle" font-weight="bold">–</text>
<text x="66.10" y="417.62" font-size="6.48" fill="#2b2b2b" text-anchor="middle">+</text>
<text x="74.00" y="417.62" font-size="6.48" fill="#2b2b2b" text-anchor="middle">+</text>
<text x="81.20" y="417.62" font-size="6.48" fill="#2b2b2b" text-anchor="middle">+</text>
<text x="88.60" y="417.62" font-size="6.48" fill="#2b2b2b" text-anchor="middle">+</text>
<text x="58.30" y="427.11" font-size="6.18" fill="#2b2b2b" text-anchor="middle" font-weight="bold">–</text>
<text x="66.10" y="427.11" font-size="6.18" fill="#2b2b2b" text-anchor="middle" font-weight="bold">–</text>
<text x="74.00" y="427.52" font-size="6.48" fill="#2b2b2b" text-anchor="middle">+</text>
<text x="81.20" y="427.11" font-size="6.18" fill="#2b2b2b" text-anchor="middle" font-weight="bold">–</text>
<text x="88.60" y="427.52" font-size="6.48" fill="#2b2b2b" text-anchor="middle">+</text>
<text x="58.30" y="437.21" font-size="6.18" fill="#2b2b2b" text-anchor="middle" font-weight="bold">–</text>
<text x="66.10" y="437.21" font-size="6.18" fill="#2b2b2b" text-anchor="middle" font-weight="bold">–</text>
<text x="74.00" y="437.21" font-size="6.18" fill="#2b2b2b" text-anchor="middle" font-weight="bold">–</text>
<text x="81.20" y="437.62" font-size="6.48" fill="#2b2b2b" text-anchor="middle">+</text>
<text x="88.60" y="437.62" font-size="6.48" fill="#2b2b2b" text-anchor="middle">+</text>
<text x="101.40" y="417.21" font-size="6.18" fill="#2b2b2b" text-anchor="middle" font-weight="bold">–</text>
<text x="109.00" y="417.62" font-size="6.48" fill="#2b2b2b" text-anchor="middle">+</text>
<text x="116.40" y="417.62" font-size="6.48" fill="#2b2b2b" text-anchor="middle">+</text>
<text x="123.90" y="417.62" font-size="6.48" fill="#2b2b2b" text-anchor="middle">+</text>
<text x="131.50" y="417.62" font-size="6.48" fill="#2b2b2b" text-anchor="middle">+</text>
<text x="101.40" y="427.11" font-size="6.18" fill="#2b2b2b" text-anchor="middle" font-weight="bold">–</text>
<text x="109.00" y="427.11" font-size="6.18" fill="#2b2b2b" text-anchor="middle" font-weight="bold">–</text>
<text x="116.40" y="427.52" font-size="6.48" fill="#2b2b2b" text-anchor="middle">+</text>
<text x="123.90" y="427.11" font-size="6.18" fill="#2b2b2b" text-anchor="middle" font-weight="bold">–</text>
<text x="131.50" y="427.52" font-size="6.48" fill="#2b2b2b" text-anchor="middle">+</text>
<text x="101.40" y="437.21" font-size="6.18" fill="#2b2b2b" text-anchor="middle" font-weight="bold">–</text>
<text x="109.00" y="437.21" font-size="6.18" fill="#2b2b2b" text-anchor="middle" font-weight="bold">–</text>
<text x="116.40" y="437.21" font-size="6.18" fill="#2b2b2b" text-anchor="middle" font-weight="bold">–</text>
<text x="123.90" y="437.62" font-size="6.48" fill="#2b2b2b" text-anchor="middle">+</text>
<text x="131.50" y="437.62" font-size="6.48" fill="#2b2b2b" text-anchor="middle">+</text>
<text x="143.80" y="417.62" font-size="6.48" fill="#2b2b2b" text-anchor="middle">+</text>
<text x="151.30" y="417.62" font-size="6.48" fill="#2b2b2b" text-anchor="middle">+</text>
<text x="158.90" y="417.62" font-size="6.48" fill="#2b2b2b" text-anchor="middle">+</text>
<text x="166.30" y="417.62" font-size="6.48" fill="#2b2b2b" text-anchor="middle">+</text>
<text x="143.80" y="427.11" font-size="6.18" fill="#2b2b2b" text-anchor="middle" font-weight="bold">–</text>
<text x="151.30" y="427.52" font-size="6.48" fill="#2b2b2b" text-anchor="middle">+</text>
<text x="158.90" y="427.11" font-size="6.18" fill="#2b2b2b" text-anchor="middle" font-weight="bold">–</text>
<text x="166.30" y="427.52" font-size="6.48" fill="#2b2b2b" text-anchor="middle">+</text>
<text x="143.80" y="437.21" font-size="6.18" fill="#2b2b2b" text-anchor="middle" font-weight="bold">–</text>
<text x="151.30" y="437.21" font-size="6.18" fill="#2b2b2b" text-anchor="middle" font-weight="bold">–</text>
<text x="158.90" y="437.62" font-size="6.48" fill="#2b2b2b" text-anchor="middle">+</text>
<text x="166.30" y="437.62" font-size="6.48" fill="#2b2b2b" text-anchor="middle">+</text>
<text transform="translate(11.65,366.00) rotate(-90)" x="0" y="2.93" font-size="8.19" fill="#2b2b2b" text-anchor="middle" textLength="56" lengthAdjust="spacingAndGlyphs">Senescence green</text>
<text transform="translate(20.85,365.50) rotate(-90)" x="0" y="2.92" font-size="8.17" fill="#2b2b2b" text-anchor="middle" textLength="35" lengthAdjust="spacingAndGlyphs">probe (MFI)</text>
<text x="183.30" y="315.90" font-size="12" fill="#111" font-weight="bold">H</text>
<line x1="225.50" y1="327.40" x2="225.50" y2="405.80" stroke="#1a1a1a" stroke-width="1.0" />
<line x1="222.50" y1="405.30" x2="225.50" y2="405.30" stroke="#1a1a1a" stroke-width="1.0" />
<text x="219.40" y="407.99" font-size="6.4" fill="#2b2b2b" text-anchor="end">0</text>
<line x1="222.50" y1="382.90" x2="225.50" y2="382.90" stroke="#1a1a1a" stroke-width="1.0" />
<text x="219.40" y="385.59" font-size="6.4" fill="#2b2b2b" text-anchor="end">2</text>
<line x1="222.50" y1="360.50" x2="225.50" y2="360.50" stroke="#1a1a1a" stroke-width="1.0" />
<text x="219.40" y="363.19" font-size="6.4" fill="#2b2b2b" text-anchor="end">4</text>
<line x1="222.50" y1="338.10" x2="225.50" y2="338.10" stroke="#1a1a1a" stroke-width="1.0" />
<text x="219.40" y="340.79" font-size="6.4" fill="#2b2b2b" text-anchor="end">6</text>
<line x1="225.00" y1="405.50" x2="303.80" y2="405.50" stroke="#1a1a1a" stroke-width="1.0" />
<line x1="231.45" y1="405.50" x2="231.45" y2="407.50" stroke="#1a1a1a" stroke-width="1.0" />
<line x1="239.95" y1="405.50" x2="239.95" y2="407.50" stroke="#1a1a1a" stroke-width="1.0" />
<line x1="248.55" y1="405.50" x2="248.55" y2="407.50" stroke="#1a1a1a" stroke-width="1.0" />
<line x1="257.35" y1="405.50" x2="257.35" y2="407.50" stroke="#1a1a1a" stroke-width="1.0" />
<line x1="271.75" y1="405.50" x2="271.75" y2="407.50" stroke="#1a1a1a" stroke-width="1.0" />
<line x1="280.55" y1="405.50" x2="280.55" y2="407.50" stroke="#1a1a1a" stroke-width="1.0" />
<line x1="289.45" y1="405.50" x2="289.45" y2="407.50" stroke="#1a1a1a" stroke-width="1.0" />
<line x1="297.75" y1="405.50" x2="297.75" y2="407.50" stroke="#1a1a1a" stroke-width="1.0" />
<rect x="229.30" y="394.90" width="4.30" height="10.40" fill="#1c4f8e" />
<rect x="237.80" y="393.90" width="4.30" height="11.40" fill="#c8102e" />
<line x1="239.95" y1="393.90" x2="239.95" y2="391.00" stroke="#c8102e" stroke-width="0.7" />
<line x1="238.66" y1="391.00" x2="241.24" y2="391.00" stroke="#c8102e" stroke-width="0.7" />
<rect x="246.40" y="342.00" width="4.30" height="63.30" fill="#3cb44a" />
<line x1="248.55" y1="342.00" x2="248.55" y2="335.20" stroke="#3cb44a" stroke-width="0.7" />
<line x1="247.26" y1="335.20" x2="249.84" y2="335.20" stroke="#3cb44a" stroke-width="0.7" />
<rect x="255.20" y="374.40" width="4.30" height="30.90" fill="#5b1e6c" />
<line x1="257.35" y1="374.40" x2="257.35" y2="369.50" stroke="#5b1e6c" stroke-width="0.7" />
<line x1="256.06" y1="369.50" x2="258.64" y2="369.50" stroke="#5b1e6c" stroke-width="0.7" />
<rect x="269.60" y="394.90" width="4.30" height="10.40" fill="#1c4f8e" />
<rect x="278.40" y="387.10" width="4.30" height="18.20" fill="#c8102e" />
<line x1="280.55" y1="387.10" x2="280.55" y2="383.80" stroke="#c8102e" stroke-width="0.7" />
<line x1="279.26" y1="383.80" x2="281.84" y2="383.80" stroke="#c8102e" stroke-width="0.7" />
<rect x="287.30" y="361.00" width="4.30" height="44.30" fill="#3cb44a" />
<line x1="289.45" y1="361.00" x2="289.45" y2="356.80" stroke="#3cb44a" stroke-width="0.7" />
<line x1="288.16" y1="356.80" x2="290.74" y2="356.80" stroke="#3cb44a" stroke-width="0.7" />
<rect x="295.60" y="378.30" width="4.30" height="27.00" fill="#5b1e6c" />
<line x1="297.75" y1="378.30" x2="297.75" y2="372.00" stroke="#5b1e6c" stroke-width="0.7" />
<line x1="296.46" y1="372.00" x2="299.04" y2="372.00" stroke="#5b1e6c" stroke-width="0.7" />
<text x="243.40" y="322.79" font-size="6.4" fill="#2b2b2b" text-anchor="middle">CCL2</text>
<line x1="230.30" y1="324.90" x2="256.10" y2="324.90" stroke="#8a8a8a" stroke-width="0.9" />
<text x="285.60" y="322.59" font-size="6.4" fill="#2b2b2b" text-anchor="middle">CXCL8</text>
<line x1="271.90" y1="324.70" x2="298.90" y2="324.70" stroke="#8a8a8a" stroke-width="0.9" />
<line x1="231.60" y1="333.70" x2="246.30" y2="333.70" stroke="#505050" stroke-width="0.7" />
<text x="238.95" y="333.76" font-size="6.6" fill="#2a2a2a" text-anchor="middle" font-weight="bold">*</text>
<line x1="249.30" y1="333.70" x2="258.50" y2="333.70" stroke="#505050" stroke-width="0.7" />
<text x="253.90" y="333.76" font-size="6.6" fill="#2a2a2a" text-anchor="middle" font-weight="bold">*</text>
<line x1="271.00" y1="353.20" x2="287.60" y2="353.20" stroke="#505050" stroke-width="0.7" />
<text x="279.30" y="353.26" font-size="6.6" fill="#2a2a2a" text-anchor="middle" font-weight="bold">*</text>
<line x1="289.10" y1="353.20" x2="299.90" y2="353.20" stroke="#505050" stroke-width="0.7" />
<text x="294.50" y="353.26" font-size="6.6" fill="#2a2a2a" text-anchor="middle" font-weight="bold">*</text>
<text x="222.00" y="416.76" font-size="6.3" fill="#2b2b2b" text-anchor="end">PLK4i</text>
<text x="222.00" y="426.56" font-size="6.3" fill="#2b2b2b" text-anchor="end">cGAS/STINGi</text>
<text x="231.30" y="416.71" font-size="6.18" fill="#2b2b2b" text-anchor="middle" font-weight="bold">–</text>
<text x="239.50" y="416.71" font-size="6.18" fill="#2b2b2b" text-anchor="middle" font-weight="bold">–</text>
<text x="247.90" y="417.12" font-size="6.48" fill="#2b2b2b" text-anchor="middle">+</text>
<text x="257.10" y="417.12" font-size="6.48" fill="#2b2b2b" text-anchor="middle">+</text>
<text x="271.90" y="416.71" font-size="6.18" fill="#2b2b2b" text-anchor="middle" font-weight="bold">–</text>
<text x="280.30" y="416.71" font-size="6.18" fill="#2b2b2b" text-anchor="middle" font-weight="bold">–</text>
<text x="289.10" y="417.12" font-size="6.48" fill="#2b2b2b" text-anchor="middle">+</text>
<text x="297.00" y="417.12" font-size="6.48" fill="#2b2b2b" text-anchor="middle">+</text>
<text x="231.30" y="426.51" font-size="6.18" fill="#2b2b2b" text-anchor="middle" font-weight="bold">–</text>
<text x="239.50" y="426.92" font-size="6.48" fill="#2b2b2b" text-anchor="middle">+</text>
<text x="247.90" y="426.51" font-size="6.18" fill="#2b2b2b" text-anchor="middle" font-weight="bold">–</text>
<text x="257.10" y="426.92" font-size="6.48" fill="#2b2b2b" text-anchor="middle">+</text>
<text x="271.90" y="426.51" font-size="6.18" fill="#2b2b2b" text-anchor="middle" font-weight="bold">–</text>
<text x="280.30" y="426.92" font-size="6.48" fill="#2b2b2b" text-anchor="middle">+</text>
<text x="289.10" y="426.51" font-size="6.18" fill="#2b2b2b" text-anchor="middle" font-weight="bold">–</text>
<text x="297.00" y="426.92" font-size="6.48" fill="#2b2b2b" text-anchor="middle">+</text>
<text transform="translate(209.05,366.00) rotate(-90)" x="0" y="2.91" font-size="8.12" fill="#2b2b2b" text-anchor="middle" textLength="81" lengthAdjust="spacingAndGlyphs">Cytokine mRNA expression</text>
<text x="314.80" y="315.90" font-size="12" fill="#111" font-weight="bold">I</text>
<line x1="337.50" y1="328.00" x2="337.50" y2="406.80" stroke="#1a1a1a" stroke-width="1.0" />
<line x1="334.50" y1="406.30" x2="337.50" y2="406.30" stroke="#1a1a1a" stroke-width="1.0" />
<text x="331.40" y="408.99" font-size="6.4" fill="#2b2b2b" text-anchor="end">0</text>
<line x1="334.50" y1="381.80" x2="337.50" y2="381.80" stroke="#1a1a1a" stroke-width="1.0" />
<text x="331.40" y="384.49" font-size="6.4" fill="#2b2b2b" text-anchor="end">1</text>
<line x1="334.50" y1="357.30" x2="337.50" y2="357.30" stroke="#1a1a1a" stroke-width="1.0" />
<text x="331.40" y="359.99" font-size="6.4" fill="#2b2b2b" text-anchor="end">2</text>
<line x1="334.50" y1="332.90" x2="337.50" y2="332.90" stroke="#1a1a1a" stroke-width="1.0" />
<text x="331.40" y="335.59" font-size="6.4" fill="#2b2b2b" text-anchor="end">3</text>
<line x1="337.00" y1="406.50" x2="415.10" y2="406.50" stroke="#1a1a1a" stroke-width="1.0" />
<line x1="343.05" y1="406.50" x2="343.05" y2="408.50" stroke="#1a1a1a" stroke-width="1.0" />
<line x1="351.55" y1="406.50" x2="351.55" y2="408.50" stroke="#1a1a1a" stroke-width="1.0" />
<line x1="360.35" y1="406.50" x2="360.35" y2="408.50" stroke="#1a1a1a" stroke-width="1.0" />
<line x1="369.15" y1="406.50" x2="369.15" y2="408.50" stroke="#1a1a1a" stroke-width="1.0" />
<line x1="383.55" y1="406.50" x2="383.55" y2="408.50" stroke="#1a1a1a" stroke-width="1.0" />
<line x1="392.35" y1="406.50" x2="392.35" y2="408.50" stroke="#1a1a1a" stroke-width="1.0" />
<line x1="401.15" y1="406.50" x2="401.15" y2="408.50" stroke="#1a1a1a" stroke-width="1.0" />
<line x1="409.55" y1="406.50" x2="409.55" y2="408.50" stroke="#1a1a1a" stroke-width="1.0" />
<rect x="340.75" y="382.20" width="4.60" height="24.10" fill="#1c4f8e" />
<rect x="349.25" y="385.70" width="4.60" height="20.60" fill="#c8102e" />
<line x1="351.55" y1="385.70" x2="351.55" y2="383.30" stroke="#c8102e" stroke-width="0.7" />
<line x1="350.17" y1="383.30" x2="352.93" y2="383.30" stroke="#c8102e" stroke-width="0.7" />
<rect x="358.05" y="351.90" width="4.60" height="54.40" fill="#3cb44a" />
<line x1="360.35" y1="351.90" x2="360.35" y2="343.40" stroke="#3cb44a" stroke-width="0.7" />
<line x1="358.97" y1="343.40" x2="361.73" y2="343.40" stroke="#3cb44a" stroke-width="0.7" />
<rect x="366.85" y="383.20" width="4.60" height="23.10" fill="#5b1e6c" />
<line x1="369.15" y1="383.20" x2="369.15" y2="380.20" stroke="#5b1e6c" stroke-width="0.7" />
<line x1="367.77" y1="380.20" x2="370.53" y2="380.20" stroke="#5b1e6c" stroke-width="0.7" />
<rect x="381.25" y="382.20" width="4.60" height="24.10" fill="#1c4f8e" />
<rect x="390.05" y="380.20" width="4.60" height="26.10" fill="#c8102e" />
<line x1="392.35" y1="380.20" x2="392.35" y2="376.30" stroke="#c8102e" stroke-width="0.7" />
<line x1="390.97" y1="376.30" x2="393.73" y2="376.30" stroke="#c8102e" stroke-width="0.7" />
<rect x="398.85" y="352.40" width="4.60" height="53.90" fill="#3cb44a" />
<line x1="401.15" y1="352.40" x2="401.15" y2="345.40" stroke="#3cb44a" stroke-width="0.7" />
<line x1="399.77" y1="345.40" x2="402.53" y2="345.40" stroke="#3cb44a" stroke-width="0.7" />
<rect x="407.25" y="385.50" width="4.60" height="20.80" fill="#5b1e6c" />
<line x1="409.55" y1="385.50" x2="409.55" y2="382.20" stroke="#5b1e6c" stroke-width="0.7" />
<line x1="408.17" y1="382.20" x2="410.93" y2="382.20" stroke="#5b1e6c" stroke-width="0.7" />
<text x="353.50" y="323.29" font-size="6.4" fill="#2b2b2b" text-anchor="middle">CCL2</text>
<line x1="340.20" y1="325.00" x2="366.20" y2="325.00" stroke="#8a8a8a" stroke-width="0.9" />
<text x="395.60" y="323.29" font-size="6.4" fill="#2b2b2b" text-anchor="middle">CXCL8</text>
<line x1="381.90" y1="325.00" x2="409.30" y2="325.00" stroke="#8a8a8a" stroke-width="0.9" />
<line x1="344.10" y1="341.10" x2="359.00" y2="341.10" stroke="#505050" stroke-width="0.7" />
<text x="351.55" y="341.16" font-size="6.6" fill="#2a2a2a" text-anchor="middle" font-weight="bold">*</text>
<line x1="359.70" y1="337.20" x2="370.10" y2="337.20" stroke="#505050" stroke-width="0.7" />
<text x="364.90" y="337.26" font-size="6.6" fill="#2a2a2a" text-anchor="middle" font-weight="bold">*</text>
<line x1="383.80" y1="342.10" x2="400.50" y2="342.10" stroke="#505050" stroke-width="0.7" />
<text x="392.15" y="342.16" font-size="6.6" fill="#2a2a2a" text-anchor="middle" font-weight="bold">*</text>
<line x1="401.40" y1="338.70" x2="410.60" y2="338.70" stroke="#505050" stroke-width="0.7" />
<text x="406.00" y="338.76" font-size="6.6" fill="#2a2a2a" text-anchor="middle" font-weight="bold">*</text>
<text x="334.10" y="417.86" font-size="6.3" fill="#2b2b2b" text-anchor="end">PLK4i</text>
<text x="334.10" y="427.76" font-size="6.3" fill="#2b2b2b" text-anchor="end">PRC2i</text>
<text x="342.10" y="418.01" font-size="6.18" fill="#2b2b2b" text-anchor="middle" font-weight="bold">–</text>
<text x="351.50" y="418.01" font-size="6.18" fill="#2b2b2b" text-anchor="middle" font-weight="bold">–</text>
<text x="360.30" y="418.42" font-size="6.48" fill="#2b2b2b" text-anchor="middle">+</text>
<text x="369.10" y="418.42" font-size="6.48" fill="#2b2b2b" text-anchor="middle">+</text>
<text x="383.20" y="418.01" font-size="6.18" fill="#2b2b2b" text-anchor="middle" font-weight="bold">–</text>
<text x="392.20" y="418.01" font-size="6.18" fill="#2b2b2b" text-anchor="middle" font-weight="bold">–</text>
<text x="400.80" y="418.42" font-size="6.48" fill="#2b2b2b" text-anchor="middle">+</text>
<text x="409.80" y="418.42" font-size="6.48" fill="#2b2b2b" text-anchor="middle">+</text>
<text x="342.10" y="428.11" font-size="6.18" fill="#2b2b2b" text-anchor="middle" font-weight="bold">–</text>
<text x="351.50" y="428.52" font-size="6.48" fill="#2b2b2b" text-anchor="middle">+</text>
<text x="360.30" y="428.11" font-size="6.18" fill="#2b2b2b" text-anchor="middle" font-weight="bold">–</text>
<text x="369.10" y="428.52" font-size="6.48" fill="#2b2b2b" text-anchor="middle">+</text>
<text x="383.20" y="428.11" font-size="6.18" fill="#2b2b2b" text-anchor="middle" font-weight="bold">–</text>
<text x="392.20" y="428.52" font-size="6.48" fill="#2b2b2b" text-anchor="middle">+</text>
<text x="400.80" y="428.11" font-size="6.18" fill="#2b2b2b" text-anchor="middle" font-weight="bold">–</text>
<text x="409.80" y="428.52" font-size="6.48" fill="#2b2b2b" text-anchor="middle">+</text>
<text transform="translate(318.55,366.00) rotate(-90)" x="0" y="2.91" font-size="8.12" fill="#2b2b2b" text-anchor="middle" textLength="81" lengthAdjust="spacingAndGlyphs">Cytokine mRNA expression</text>
<text x="426.80" y="315.90" font-size="12" fill="#111" font-weight="bold">J</text>
<line x1="454.50" y1="325.00" x2="454.50" y2="406.20" stroke="#1a1a1a" stroke-width="1.0" />
<line x1="451.50" y1="405.70" x2="454.50" y2="405.70" stroke="#1a1a1a" stroke-width="1.0" />
<text x="448.40" y="408.39" font-size="6.4" fill="#2b2b2b" text-anchor="end">0.0</text>
<line x1="451.50" y1="390.00" x2="454.50" y2="390.00" stroke="#1a1a1a" stroke-width="1.0" />
<text x="448.40" y="392.69" font-size="6.4" fill="#2b2b2b" text-anchor="end">0.2</text>
<line x1="451.50" y1="374.40" x2="454.50" y2="374.40" stroke="#1a1a1a" stroke-width="1.0" />
<text x="448.40" y="377.09" font-size="6.4" fill="#2b2b2b" text-anchor="end">0.4</text>
<line x1="451.50" y1="358.70" x2="454.50" y2="358.70" stroke="#1a1a1a" stroke-width="1.0" />
<text x="448.40" y="361.39" font-size="6.4" fill="#2b2b2b" text-anchor="end">0.6</text>
<line x1="451.50" y1="343.00" x2="454.50" y2="343.00" stroke="#1a1a1a" stroke-width="1.0" />
<text x="448.40" y="345.69" font-size="6.4" fill="#2b2b2b" text-anchor="end">0.8</text>
<line x1="451.50" y1="327.40" x2="454.50" y2="327.40" stroke="#1a1a1a" stroke-width="1.0" />
<text x="448.40" y="330.09" font-size="6.4" fill="#2b2b2b" text-anchor="end">1.0</text>
<line x1="454.00" y1="405.50" x2="512.00" y2="405.50" stroke="#1a1a1a" stroke-width="1.0" />
<line x1="463.65" y1="405.50" x2="463.65" y2="407.50" stroke="#1a1a1a" stroke-width="1.0" />
<line x1="477.15" y1="405.50" x2="477.15" y2="407.50" stroke="#1a1a1a" stroke-width="1.0" />
<line x1="490.85" y1="405.50" x2="490.85" y2="407.50" stroke="#1a1a1a" stroke-width="1.0" />
<line x1="504.15" y1="405.50" x2="504.15" y2="407.50" stroke="#1a1a1a" stroke-width="1.0" />
<rect x="459.70" y="377.70" width="7.90" height="28.00" fill="#1c4f8e" />
<line x1="463.65" y1="377.70" x2="463.65" y2="371.40" stroke="#1c4f8e" stroke-width="0.7" />
<line x1="461.28" y1="371.40" x2="466.02" y2="371.40" stroke="#1c4f8e" stroke-width="0.7" />
<rect x="473.20" y="375.00" width="7.90" height="30.70" fill="#c8102e" />
<line x1="477.15" y1="375.00" x2="477.15" y2="372.40" stroke="#c8102e" stroke-width="0.7" />
<line x1="474.78" y1="372.40" x2="479.52" y2="372.40" stroke="#c8102e" stroke-width="0.7" />
<rect x="486.90" y="343.00" width="7.90" height="62.70" fill="#3cb44a" />
<line x1="490.85" y1="343.00" x2="490.85" y2="339.10" stroke="#3cb44a" stroke-width="0.7" />
<line x1="488.48" y1="339.10" x2="493.22" y2="339.10" stroke="#3cb44a" stroke-width="0.7" />
<rect x="500.20" y="383.20" width="7.90" height="22.50" fill="#5b1e6c" />
<line x1="504.15" y1="383.20" x2="504.15" y2="382.60" stroke="#5b1e6c" stroke-width="0.7" />
<line x1="501.78" y1="382.60" x2="506.52" y2="382.60" stroke="#5b1e6c" stroke-width="0.7" />
<line x1="464.00" y1="330.70" x2="490.80" y2="330.70" stroke="#505050" stroke-width="0.7" />
<text x="477.40" y="330.76" font-size="6.6" fill="#2a2a2a" text-anchor="middle" font-weight="bold">**</text>
<line x1="492.00" y1="334.60" x2="504.50" y2="334.60" stroke="#505050" stroke-width="0.7" />
<text x="498.25" y="334.66" font-size="6.6" fill="#2a2a2a" text-anchor="middle" font-weight="bold">**</text>
<text x="450.90" y="417.76" font-size="6.3" fill="#2b2b2b" text-anchor="end">PLK4i</text>
<text x="450.90" y="427.16" font-size="6.3" fill="#2b2b2b" text-anchor="end">PRC2i</text>
<text x="463.40" y="417.71" font-size="6.18" fill="#2b2b2b" text-anchor="middle" font-weight="bold">–</text>
<text x="476.80" y="417.71" font-size="6.18" fill="#2b2b2b" text-anchor="middle" font-weight="bold">–</text>
<text x="490.50" y="418.12" font-size="6.48" fill="#2b2b2b" text-anchor="middle">+</text>
<text x="503.80" y="418.12" font-size="6.48" fill="#2b2b2b" text-anchor="middle">+</text>
<text x="463.40" y="427.11" font-size="6.18" fill="#2b2b2b" text-anchor="middle" font-weight="bold">–</text>
<text x="476.80" y="427.52" font-size="6.48" fill="#2b2b2b" text-anchor="middle">+</text>
<text x="490.50" y="427.11" font-size="6.18" fill="#2b2b2b" text-anchor="middle" font-weight="bold">–</text>
<text x="503.80" y="427.52" font-size="6.48" fill="#2b2b2b" text-anchor="middle">+</text>
<text transform="translate(430.65,364.60) rotate(-90)" x="0" y="2.97" font-size="8.31" fill="#2b2b2b" text-anchor="middle" textLength="70.4" lengthAdjust="spacingAndGlyphs">STING dimer/monomer</text>
<text x="7.00" y="455.20" font-size="12" fill="#111" font-weight="bold">K</text>
<line x1="56.50" y1="462.10" x2="56.50" y2="540.70" stroke="#1a1a1a" stroke-width="1.0" />
<line x1="53.50" y1="540.20" x2="56.50" y2="540.20" stroke="#1a1a1a" stroke-width="1.0" />
<text x="50.40" y="542.89" font-size="6.4" fill="#2b2b2b" text-anchor="end">0.0</text>
<line x1="53.50" y1="518.20" x2="56.50" y2="518.20" stroke="#1a1a1a" stroke-width="1.0" />
<text x="50.40" y="520.89" font-size="6.4" fill="#2b2b2b" text-anchor="end">0.5</text>
<line x1="53.50" y1="496.70" x2="56.50" y2="496.70" stroke="#1a1a1a" stroke-width="1.0" />
<text x="50.40" y="499.39" font-size="6.4" fill="#2b2b2b" text-anchor="end">1.0</text>
<line x1="53.50" y1="475.20" x2="56.50" y2="475.20" stroke="#1a1a1a" stroke-width="1.0" />
<text x="50.40" y="477.89" font-size="6.4" fill="#2b2b2b" text-anchor="end">1.5</text>
<line x1="56.00" y1="540.50" x2="115.40" y2="540.50" stroke="#1a1a1a" stroke-width="1.0" />
<line x1="66.10" y1="540.50" x2="66.10" y2="542.50" stroke="#1a1a1a" stroke-width="1.0" />
<line x1="79.20" y1="540.50" x2="79.20" y2="542.50" stroke="#1a1a1a" stroke-width="1.0" />
<line x1="92.80" y1="540.50" x2="92.80" y2="542.50" stroke="#1a1a1a" stroke-width="1.0" />
<line x1="106.60" y1="540.50" x2="106.60" y2="542.50" stroke="#1a1a1a" stroke-width="1.0" />
<rect x="62.30" y="497.40" width="7.60" height="42.80" fill="#1c4f8e" />
<rect x="75.40" y="498.90" width="7.60" height="41.30" fill="#c8102e" />
<line x1="79.20" y1="498.90" x2="79.20" y2="494.90" stroke="#c8102e" stroke-width="0.7" />
<line x1="76.92" y1="494.90" x2="81.48" y2="494.90" stroke="#c8102e" stroke-width="0.7" />
<rect x="89.00" y="478.00" width="7.60" height="62.20" fill="#3cb44a" />
<line x1="92.80" y1="478.00" x2="92.80" y2="469.90" stroke="#3cb44a" stroke-width="0.7" />
<line x1="90.52" y1="469.90" x2="95.08" y2="469.90" stroke="#3cb44a" stroke-width="0.7" />
<rect x="102.80" y="502.70" width="7.60" height="37.50" fill="#5b1e6c" />
<line x1="106.60" y1="502.70" x2="106.60" y2="493.20" stroke="#5b1e6c" stroke-width="0.7" />
<line x1="104.32" y1="493.20" x2="108.88" y2="493.20" stroke="#5b1e6c" stroke-width="0.7" />
<line x1="66.00" y1="466.70" x2="91.40" y2="466.70" stroke="#505050" stroke-width="0.7" />
<text x="78.70" y="466.76" font-size="6.6" fill="#2a2a2a" text-anchor="middle" font-weight="bold">*</text>
<line x1="93.10" y1="463.60" x2="105.80" y2="463.60" stroke="#505050" stroke-width="0.7" />
<text x="99.45" y="463.66" font-size="6.6" fill="#2a2a2a" text-anchor="middle" font-weight="bold">*</text>
<text x="53.30" y="552.16" font-size="6.3" fill="#2b2b2b" text-anchor="end">PLK4i</text>
<text x="53.30" y="562.06" font-size="6.3" fill="#2b2b2b" text-anchor="end">PRC2i</text>
<text x="66.00" y="552.11" font-size="6.18" fill="#2b2b2b" text-anchor="middle" font-weight="bold">–</text>
<text x="79.30" y="552.11" font-size="6.18" fill="#2b2b2b" text-anchor="middle" font-weight="bold">–</text>
<text x="92.40" y="552.52" font-size="6.48" fill="#2b2b2b" text-anchor="middle">+</text>
<text x="105.80" y="552.52" font-size="6.48" fill="#2b2b2b" text-anchor="middle">+</text>
<text x="66.00" y="562.01" font-size="6.18" fill="#2b2b2b" text-anchor="middle" font-weight="bold">–</text>
<text x="79.30" y="562.42" font-size="6.48" fill="#2b2b2b" text-anchor="middle">+</text>
<text x="92.40" y="562.01" font-size="6.18" fill="#2b2b2b" text-anchor="middle" font-weight="bold">–</text>
<text x="105.80" y="562.42" font-size="6.48" fill="#2b2b2b" text-anchor="middle">+</text>
<text transform="translate(22.65,501.60) rotate(-90)" x="0" y="2.78" font-size="7.77" fill="#2b2b2b" text-anchor="middle" textLength="34" lengthAdjust="spacingAndGlyphs">2’3’-cGAMP</text>
<text transform="translate(32.75,501.00) rotate(-90)" x="0" y="3.00" font-size="8.39" fill="#2b2b2b" text-anchor="middle" textLength="64.6" lengthAdjust="spacingAndGlyphs">normalized to vehicle</text>
<text x="142.10" y="454.90" font-size="12" fill="#111" font-weight="bold">L</text>
<line x1="187.50" y1="459.30" x2="187.50" y2="541.70" stroke="#1a1a1a" stroke-width="1.0" />
<line x1="184.50" y1="541.20" x2="187.50" y2="541.20" stroke="#1a1a1a" stroke-width="1.0" />
<text x="181.40" y="543.89" font-size="6.4" fill="#2b2b2b" text-anchor="end">0</text>
<line x1="184.50" y1="521.30" x2="187.50" y2="521.30" stroke="#1a1a1a" stroke-width="1.0" />
<text x="181.40" y="523.99" font-size="6.4" fill="#2b2b2b" text-anchor="end">5</text>
<line x1="184.50" y1="501.30" x2="187.50" y2="501.30" stroke="#1a1a1a" stroke-width="1.0" />
<text x="181.40" y="503.99" font-size="6.4" fill="#2b2b2b" text-anchor="end">10</text>
<line x1="184.50" y1="481.40" x2="187.50" y2="481.40" stroke="#1a1a1a" stroke-width="1.0" />
<text x="181.40" y="484.09" font-size="6.4" fill="#2b2b2b" text-anchor="end">15</text>
<line x1="184.50" y1="461.40" x2="187.50" y2="461.40" stroke="#1a1a1a" stroke-width="1.0" />
<text x="181.40" y="464.09" font-size="6.4" fill="#2b2b2b" text-anchor="end">20</text>
<line x1="187.00" y1="541.50" x2="246.60" y2="541.50" stroke="#1a1a1a" stroke-width="1.0" />
<line x1="196.15" y1="541.50" x2="196.15" y2="543.50" stroke="#1a1a1a" stroke-width="1.0" />
<line x1="209.95" y1="541.50" x2="209.95" y2="543.50" stroke="#1a1a1a" stroke-width="1.0" />
<line x1="223.65" y1="541.50" x2="223.65" y2="543.50" stroke="#1a1a1a" stroke-width="1.0" />
<line x1="237.45" y1="541.50" x2="237.45" y2="543.50" stroke="#1a1a1a" stroke-width="1.0" />
<rect x="191.60" y="535.50" width="9.10" height="5.70" fill="#1c4f8e" />
<line x1="196.15" y1="535.50" x2="196.15" y2="533.40" stroke="#1c4f8e" stroke-width="0.7" />
<line x1="193.42" y1="533.40" x2="198.88" y2="533.40" stroke="#1c4f8e" stroke-width="0.7" />
<rect x="205.40" y="531.90" width="9.10" height="9.30" fill="#c8102e" />
<line x1="209.95" y1="531.90" x2="209.95" y2="528.10" stroke="#c8102e" stroke-width="0.7" />
<line x1="207.22" y1="528.10" x2="212.68" y2="528.10" stroke="#c8102e" stroke-width="0.7" />
<rect x="219.10" y="488.50" width="9.10" height="52.70" fill="#3cb44a" />
<line x1="223.65" y1="488.50" x2="223.65" y2="483.20" stroke="#3cb44a" stroke-width="0.7" />
<line x1="220.92" y1="483.20" x2="226.38" y2="483.20" stroke="#3cb44a" stroke-width="0.7" />
<rect x="232.90" y="505.90" width="9.10" height="35.30" fill="#5b1e6c" />
<line x1="237.45" y1="505.90" x2="237.45" y2="503.30" stroke="#5b1e6c" stroke-width="0.7" />
<line x1="234.72" y1="503.30" x2="240.18" y2="503.30" stroke="#5b1e6c" stroke-width="0.7" />
<line x1="194.80" y1="475.60" x2="225.10" y2="475.60" stroke="#505050" stroke-width="0.7" />
<text x="209.95" y="475.66" font-size="6.6" fill="#2a2a2a" text-anchor="middle" font-weight="bold">**</text>
<line x1="225.50" y1="469.90" x2="238.20" y2="469.90" stroke="#505050" stroke-width="0.7" />
<text x="231.85" y="469.96" font-size="6.6" fill="#2a2a2a" text-anchor="middle" font-weight="bold">*</text>
<text x="183.10" y="553.16" font-size="6.3" fill="#2b2b2b" text-anchor="end">PLK4i</text>
<text x="183.10" y="563.16" font-size="6.3" fill="#2b2b2b" text-anchor="end">PRC2i</text>
<text x="196.50" y="553.11" font-size="6.18" fill="#2b2b2b" text-anchor="middle" font-weight="bold">–</text>
<text x="210.00" y="553.11" font-size="6.18" fill="#2b2b2b" text-anchor="middle" font-weight="bold">–</text>
<text x="223.80" y="553.52" font-size="6.48" fill="#2b2b2b" text-anchor="middle">+</text>
<text x="237.50" y="553.52" font-size="6.48" fill="#2b2b2b" text-anchor="middle">+</text>
<text x="196.50" y="563.11" font-size="6.18" fill="#2b2b2b" text-anchor="middle" font-weight="bold">–</text>
<text x="210.00" y="563.52" font-size="6.48" fill="#2b2b2b" text-anchor="middle">+</text>
<text x="223.80" y="563.11" font-size="6.18" fill="#2b2b2b" text-anchor="middle" font-weight="bold">–</text>
<text x="237.50" y="563.52" font-size="6.48" fill="#2b2b2b" text-anchor="middle">+</text>
<text transform="translate(156.25,500.00) rotate(-90)" x="0" y="2.98" font-size="8.32" fill="#2b2b2b" text-anchor="middle" textLength="66.7" lengthAdjust="spacingAndGlyphs">Cells with cytoplasmic</text>
<text transform="translate(165.55,499.50) rotate(-90)" x="0" y="3.11" font-size="8.7" fill="#2b2b2b" text-anchor="middle" textLength="44.4" lengthAdjust="spacingAndGlyphs">chromatin (%)</text>
<text x="272.50" y="455.70" font-size="12" fill="#111" font-weight="bold">M</text>
<line x1="330.50" y1="459.20" x2="330.50" y2="538.80" stroke="#1a1a1a" stroke-width="1.0" />
<line x1="327.50" y1="538.30" x2="330.50" y2="538.30" stroke="#1a1a1a" stroke-width="1.0" />
<text x="324.40" y="540.99" font-size="6.4" fill="#2b2b2b" text-anchor="end">0</text>
<line x1="327.50" y1="514.60" x2="330.50" y2="514.60" stroke="#1a1a1a" stroke-width="1.0" />
<text x="324.40" y="517.29" font-size="6.4" fill="#2b2b2b" text-anchor="end">500</text>
<line x1="327.50" y1="491.50" x2="330.50" y2="491.50" stroke="#1a1a1a" stroke-width="1.0" />
<text x="324.40" y="494.19" font-size="6.4" fill="#2b2b2b" text-anchor="end">1000</text>
<line x1="327.50" y1="468.40" x2="330.50" y2="468.40" stroke="#1a1a1a" stroke-width="1.0" />
<text x="324.40" y="471.09" font-size="6.4" fill="#2b2b2b" text-anchor="end">1500</text>
<rect x="335.90" y="513.10" width="3.00" height="25.20" fill="#1c4f8e" />
<line x1="337.40" y1="513.10" x2="337.40" y2="510.80" stroke="#1c4f8e" stroke-width="0.7" />
<line x1="336.20" y1="510.80" x2="338.60" y2="510.80" stroke="#1c4f8e" stroke-width="0.7" />
<rect x="342.05" y="516.00" width="3.00" height="22.30" fill="#c8102e" />
<line x1="343.55" y1="516.00" x2="343.55" y2="513.70" stroke="#c8102e" stroke-width="0.7" />
<line x1="342.35" y1="513.70" x2="344.75" y2="513.70" stroke="#c8102e" stroke-width="0.7" />
<rect x="348.30" y="487.10" width="3.00" height="51.20" fill="#3cb44a" />
<line x1="349.80" y1="487.10" x2="349.80" y2="479.40" stroke="#3cb44a" stroke-width="0.7" />
<line x1="348.60" y1="479.40" x2="351.00" y2="479.40" stroke="#3cb44a" stroke-width="0.7" />
<rect x="354.55" y="508.80" width="3.00" height="29.50" fill="#5b1e6c" />
<line x1="356.05" y1="508.80" x2="356.05" y2="503.50" stroke="#5b1e6c" stroke-width="0.7" />
<line x1="354.85" y1="503.50" x2="357.25" y2="503.50" stroke="#5b1e6c" stroke-width="0.7" />
<rect x="360.75" y="532.30" width="3.00" height="6.00" fill="#f7941d" />
<line x1="362.25" y1="532.30" x2="362.25" y2="530.50" stroke="#f7941d" stroke-width="0.7" />
<line x1="361.05" y1="530.50" x2="363.45" y2="530.50" stroke="#f7941d" stroke-width="0.7" />
<rect x="366.85" y="533.80" width="3.00" height="4.50" fill="#8b7fc6" />
<line x1="368.35" y1="533.80" x2="368.35" y2="532.00" stroke="#8b7fc6" stroke-width="0.7" />
<line x1="367.15" y1="532.00" x2="369.55" y2="532.00" stroke="#8b7fc6" stroke-width="0.7" />
<rect x="373.00" y="528.50" width="3.00" height="9.80" fill="#cf7a22" />
<line x1="374.50" y1="528.50" x2="374.50" y2="527.00" stroke="#cf7a22" stroke-width="0.7" />
<line x1="373.30" y1="527.00" x2="375.70" y2="527.00" stroke="#cf7a22" stroke-width="0.7" />
<rect x="379.35" y="527.50" width="3.00" height="10.80" fill="#3ba4e4" />
<line x1="380.85" y1="527.50" x2="380.85" y2="524.30" stroke="#3ba4e4" stroke-width="0.7" />
<line x1="379.65" y1="524.30" x2="382.05" y2="524.30" stroke="#3ba4e4" stroke-width="0.7" />
<rect x="398.60" y="510.80" width="3.00" height="27.50" fill="#1c4f8e" />
<line x1="400.10" y1="510.80" x2="400.10" y2="506.00" stroke="#1c4f8e" stroke-width="0.7" />
<line x1="398.90" y1="506.00" x2="401.30" y2="506.00" stroke="#1c4f8e" stroke-width="0.7" />
<rect x="404.95" y="514.00" width="3.00" height="24.30" fill="#c8102e" />
<line x1="406.45" y1="514.00" x2="406.45" y2="512.00" stroke="#c8102e" stroke-width="0.7" />
<line x1="405.25" y1="512.00" x2="407.65" y2="512.00" stroke="#c8102e" stroke-width="0.7" />
<rect x="411.10" y="494.40" width="3.00" height="43.90" fill="#3cb44a" />
<line x1="412.60" y1="494.40" x2="412.60" y2="491.00" stroke="#3cb44a" stroke-width="0.7" />
<line x1="411.40" y1="491.00" x2="413.80" y2="491.00" stroke="#3cb44a" stroke-width="0.7" />
<rect x="417.25" y="507.30" width="3.00" height="31.00" fill="#5b1e6c" />
<line x1="418.75" y1="507.30" x2="418.75" y2="502.30" stroke="#5b1e6c" stroke-width="0.7" />
<line x1="417.55" y1="502.30" x2="419.95" y2="502.30" stroke="#5b1e6c" stroke-width="0.7" />
<rect x="423.60" y="533.80" width="3.00" height="4.50" fill="#f7941d" />
<line x1="425.10" y1="533.80" x2="425.10" y2="533.00" stroke="#f7941d" stroke-width="0.7" />
<line x1="423.90" y1="533.00" x2="426.30" y2="533.00" stroke="#f7941d" stroke-width="0.7" />
<rect x="429.90" y="535.20" width="3.00" height="3.10" fill="#8b7fc6" />
<line x1="431.40" y1="535.20" x2="431.40" y2="534.00" stroke="#8b7fc6" stroke-width="0.7" />
<line x1="430.20" y1="534.00" x2="432.60" y2="534.00" stroke="#8b7fc6" stroke-width="0.7" />
<rect x="435.85" y="529.40" width="3.00" height="8.90" fill="#cf7a22" />
<line x1="437.35" y1="529.40" x2="437.35" y2="527.50" stroke="#cf7a22" stroke-width="0.7" />
<line x1="436.15" y1="527.50" x2="438.55" y2="527.50" stroke="#cf7a22" stroke-width="0.7" />
<rect x="441.95" y="529.40" width="3.00" height="8.90" fill="#3ba4e4" />
<line x1="443.45" y1="529.40" x2="443.45" y2="527.50" stroke="#3ba4e4" stroke-width="0.7" />
<line x1="442.25" y1="527.50" x2="444.65" y2="527.50" stroke="#3ba4e4" stroke-width="0.7" />
<rect x="461.25" y="506.00" width="3.00" height="32.30" fill="#1c4f8e" />
<line x1="462.75" y1="506.00" x2="462.75" y2="503.50" stroke="#1c4f8e" stroke-width="0.7" />
<line x1="461.55" y1="503.50" x2="463.95" y2="503.50" stroke="#1c4f8e" stroke-width="0.7" />
<rect x="467.55" y="510.20" width="3.00" height="28.10" fill="#c8102e" />
<line x1="469.05" y1="510.20" x2="469.05" y2="509.00" stroke="#c8102e" stroke-width="0.7" />
<line x1="467.85" y1="509.00" x2="470.25" y2="509.00" stroke="#c8102e" stroke-width="0.7" />
<rect x="473.75" y="484.80" width="3.00" height="53.50" fill="#3cb44a" />
<line x1="475.25" y1="484.80" x2="475.25" y2="479.00" stroke="#3cb44a" stroke-width="0.7" />
<line x1="474.05" y1="479.00" x2="476.45" y2="479.00" stroke="#3cb44a" stroke-width="0.7" />
<rect x="479.95" y="501.20" width="3.00" height="37.10" fill="#5b1e6c" />
<line x1="481.45" y1="501.20" x2="481.45" y2="496.00" stroke="#5b1e6c" stroke-width="0.7" />
<line x1="480.25" y1="496.00" x2="482.65" y2="496.00" stroke="#5b1e6c" stroke-width="0.7" />
<rect x="485.90" y="516.90" width="3.00" height="21.40" fill="#f7941d" />
<line x1="487.40" y1="516.90" x2="487.40" y2="514.00" stroke="#f7941d" stroke-width="0.7" />
<line x1="486.20" y1="514.00" x2="488.60" y2="514.00" stroke="#f7941d" stroke-width="0.7" />
<rect x="492.05" y="518.80" width="3.00" height="19.50" fill="#8b7fc6" />
<line x1="493.55" y1="518.80" x2="493.55" y2="515.50" stroke="#8b7fc6" stroke-width="0.7" />
<line x1="492.35" y1="515.50" x2="494.75" y2="515.50" stroke="#8b7fc6" stroke-width="0.7" />
<rect x="498.25" y="508.80" width="3.00" height="29.50" fill="#cf7a22" />
<line x1="499.75" y1="508.80" x2="499.75" y2="505.50" stroke="#cf7a22" stroke-width="0.7" />
<line x1="498.55" y1="505.50" x2="500.95" y2="505.50" stroke="#cf7a22" stroke-width="0.7" />
<rect x="504.55" y="506.30" width="3.00" height="32.00" fill="#3ba4e4" />
<line x1="506.05" y1="506.30" x2="506.05" y2="503.50" stroke="#3ba4e4" stroke-width="0.7" />
<line x1="504.85" y1="503.50" x2="507.25" y2="503.50" stroke="#3ba4e4" stroke-width="0.7" />
<line x1="330.00" y1="538.50" x2="513.30" y2="538.50" stroke="#1a1a1a" stroke-width="1.0" />
<line x1="337.40" y1="538.50" x2="337.40" y2="540.30" stroke="#1a1a1a" stroke-width="1.0" />
<line x1="343.55" y1="538.50" x2="343.55" y2="540.30" stroke="#1a1a1a" stroke-width="1.0" />
<line x1="349.80" y1="538.50" x2="349.80" y2="540.30" stroke="#1a1a1a" stroke-width="1.0" />
<line x1="356.05" y1="538.50" x2="356.05" y2="540.30" stroke="#1a1a1a" stroke-width="1.0" />
<line x1="362.25" y1="538.50" x2="362.25" y2="540.30" stroke="#1a1a1a" stroke-width="1.0" />
<line x1="368.35" y1="538.50" x2="368.35" y2="540.30" stroke="#1a1a1a" stroke-width="1.0" />
<line x1="374.50" y1="538.50" x2="374.50" y2="540.30" stroke="#1a1a1a" stroke-width="1.0" />
<line x1="380.85" y1="538.50" x2="380.85" y2="540.30" stroke="#1a1a1a" stroke-width="1.0" />
<line x1="400.10" y1="538.50" x2="400.10" y2="540.30" stroke="#1a1a1a" stroke-width="1.0" />
<line x1="406.45" y1="538.50" x2="406.45" y2="540.30" stroke="#1a1a1a" stroke-width="1.0" />
<line x1="412.60" y1="538.50" x2="412.60" y2="540.30" stroke="#1a1a1a" stroke-width="1.0" />
<line x1="418.75" y1="538.50" x2="418.75" y2="540.30" stroke="#1a1a1a" stroke-width="1.0" />
<line x1="425.10" y1="538.50" x2="425.10" y2="540.30" stroke="#1a1a1a" stroke-width="1.0" />
<line x1="431.40" y1="538.50" x2="431.40" y2="540.30" stroke="#1a1a1a" stroke-width="1.0" />
<line x1="437.35" y1="538.50" x2="437.35" y2="540.30" stroke="#1a1a1a" stroke-width="1.0" />
<line x1="443.45" y1="538.50" x2="443.45" y2="540.30" stroke="#1a1a1a" stroke-width="1.0" />
<line x1="462.75" y1="538.50" x2="462.75" y2="540.30" stroke="#1a1a1a" stroke-width="1.0" />
<line x1="469.05" y1="538.50" x2="469.05" y2="540.30" stroke="#1a1a1a" stroke-width="1.0" />
<line x1="475.25" y1="538.50" x2="475.25" y2="540.30" stroke="#1a1a1a" stroke-width="1.0" />
<line x1="481.45" y1="538.50" x2="481.45" y2="540.30" stroke="#1a1a1a" stroke-width="1.0" />
<line x1="487.40" y1="538.50" x2="487.40" y2="540.30" stroke="#1a1a1a" stroke-width="1.0" />
<line x1="493.55" y1="538.50" x2="493.55" y2="540.30" stroke="#1a1a1a" stroke-width="1.0" />
<line x1="499.75" y1="538.50" x2="499.75" y2="540.30" stroke="#1a1a1a" stroke-width="1.0" />
<line x1="506.05" y1="538.50" x2="506.05" y2="540.30" stroke="#1a1a1a" stroke-width="1.0" />
<text x="359.20" y="458.29" font-size="6.4" fill="#2b2b2b" text-anchor="middle">CXCL8</text>
<line x1="337.30" y1="461.20" x2="380.80" y2="461.20" stroke="#8a8a8a" stroke-width="0.9" />
<text x="419.80" y="458.29" font-size="6.4" fill="#2b2b2b" text-anchor="middle">CCL2</text>
<line x1="401.50" y1="461.20" x2="442.70" y2="461.20" stroke="#8a8a8a" stroke-width="0.9" />
<text x="480.60" y="458.29" font-size="6.4" fill="#2b2b2b" text-anchor="middle">IL-1β</text>
<line x1="462.70" y1="461.20" x2="504.60" y2="461.20" stroke="#8a8a8a" stroke-width="0.9" />
<line x1="337.30" y1="473.70" x2="348.80" y2="473.70" stroke="#505050" stroke-width="0.7" />
<text x="343.05" y="473.76" font-size="6.6" fill="#2a2a2a" text-anchor="middle" font-weight="bold">*</text>
<line x1="350.40" y1="476.90" x2="357.50" y2="476.90" stroke="#505050" stroke-width="0.7" />
<text x="353.95" y="476.96" font-size="6.6" fill="#2a2a2a" text-anchor="middle" font-weight="bold">*</text>
<line x1="349.50" y1="469.00" x2="374.60" y2="469.00" stroke="#505050" stroke-width="0.7" />
<text x="362.05" y="469.06" font-size="6.6" fill="#2a2a2a" text-anchor="middle" font-weight="bold">**</text>
<line x1="362.70" y1="523.70" x2="374.60" y2="523.70" stroke="#505050" stroke-width="0.7" />
<text x="368.65" y="520.81" font-size="7" fill="#2b2b2b" text-anchor="middle">ns</text>
<line x1="375.60" y1="517.30" x2="381.30" y2="517.30" stroke="#505050" stroke-width="0.7" />
<text x="378.45" y="514.41" font-size="7" fill="#2b2b2b" text-anchor="middle">ns</text>
<line x1="400.00" y1="486.20" x2="411.20" y2="486.20" stroke="#505050" stroke-width="0.7" />
<text x="405.60" y="486.26" font-size="6.6" fill="#2a2a2a" text-anchor="middle" font-weight="bold">*</text>
<line x1="412.70" y1="489.00" x2="419.20" y2="489.00" stroke="#505050" stroke-width="0.7" />
<text x="415.95" y="489.06" font-size="6.6" fill="#2a2a2a" text-anchor="middle" font-weight="bold">*</text>
<line x1="412.10" y1="481.30" x2="436.20" y2="481.30" stroke="#505050" stroke-width="0.7" />
<text x="424.15" y="481.36" font-size="6.6" fill="#2a2a2a" text-anchor="middle" font-weight="bold">*</text>
<line x1="424.60" y1="525.60" x2="437.00" y2="525.60" stroke="#505050" stroke-width="0.7" />
<text x="430.80" y="525.66" font-size="6.6" fill="#2a2a2a" text-anchor="middle" font-weight="bold">*</text>
<line x1="436.90" y1="523.30" x2="442.70" y2="523.30" stroke="#505050" stroke-width="0.7" />
<text x="439.80" y="520.41" font-size="7" fill="#2b2b2b" text-anchor="middle">ns</text>
<line x1="454.60" y1="474.20" x2="465.60" y2="474.20" stroke="#505050" stroke-width="0.7" />
<text x="460.10" y="474.26" font-size="6.6" fill="#2a2a2a" text-anchor="middle" font-weight="bold">*</text>
<line x1="466.70" y1="476.50" x2="474.40" y2="476.50" stroke="#505050" stroke-width="0.7" />
<text x="470.55" y="476.56" font-size="6.6" fill="#2a2a2a" text-anchor="middle" font-weight="bold">*</text>
<line x1="466.70" y1="469.80" x2="491.50" y2="469.80" stroke="#505050" stroke-width="0.7" />
<text x="479.10" y="469.86" font-size="6.6" fill="#2a2a2a" text-anchor="middle" font-weight="bold">*</text>
<line x1="488.30" y1="505.00" x2="498.80" y2="505.00" stroke="#505050" stroke-width="0.7" />
<text x="493.55" y="505.06" font-size="6.6" fill="#2a2a2a" text-anchor="middle" font-weight="bold">*</text>
<line x1="500.40" y1="502.50" x2="505.60" y2="502.50" stroke="#505050" stroke-width="0.7" />
<text x="503.00" y="499.61" font-size="7" fill="#2b2b2b" text-anchor="middle">ns</text>
<text x="327.30" y="549.96" font-size="6.3" fill="#2b2b2b" text-anchor="end">PLK4i</text>
<text x="327.30" y="559.56" font-size="6.3" fill="#2b2b2b" text-anchor="end">PRC2i</text>
<text x="337.40" y="549.76" font-size="5.768" fill="#2b2b2b" text-anchor="middle" font-weight="bold">–</text>
<text x="343.55" y="549.76" font-size="5.768" fill="#2b2b2b" text-anchor="middle" font-weight="bold">–</text>
<text x="349.80" y="550.17" font-size="6.048" fill="#2b2b2b" text-anchor="middle">+</text>
<text x="356.05" y="550.17" font-size="6.048" fill="#2b2b2b" text-anchor="middle">+</text>
<text x="362.25" y="549.76" font-size="5.768" fill="#2b2b2b" text-anchor="middle" font-weight="bold">–</text>
<text x="368.35" y="549.76" font-size="5.768" fill="#2b2b2b" text-anchor="middle" font-weight="bold">–</text>
<text x="374.50" y="550.17" font-size="6.048" fill="#2b2b2b" text-anchor="middle">+</text>
<text x="380.85" y="550.17" font-size="6.048" fill="#2b2b2b" text-anchor="middle">+</text>
<text x="337.40" y="559.36" font-size="5.768" fill="#2b2b2b" text-anchor="middle" font-weight="bold">–</text>
<text x="343.55" y="559.77" font-size="6.048" fill="#2b2b2b" text-anchor="middle">+</text>
<text x="349.80" y="559.36" font-size="5.768" fill="#2b2b2b" text-anchor="middle" font-weight="bold">–</text>
<text x="356.05" y="559.77" font-size="6.048" fill="#2b2b2b" text-anchor="middle">+</text>
<text x="362.25" y="559.36" font-size="5.768" fill="#2b2b2b" text-anchor="middle" font-weight="bold">–</text>
<text x="368.35" y="559.77" font-size="6.048" fill="#2b2b2b" text-anchor="middle">+</text>
<text x="374.50" y="559.36" font-size="5.768" fill="#2b2b2b" text-anchor="middle" font-weight="bold">–</text>
<text x="380.85" y="559.77" font-size="6.048" fill="#2b2b2b" text-anchor="middle">+</text>
<text x="400.10" y="549.76" font-size="5.768" fill="#2b2b2b" text-anchor="middle" font-weight="bold">–</text>
<text x="406.45" y="549.76" font-size="5.768" fill="#2b2b2b" text-anchor="middle" font-weight="bold">–</text>
<text x="412.60" y="550.17" font-size="6.048" fill="#2b2b2b" text-anchor="middle">+</text>
<text x="418.75" y="550.17" font-size="6.048" fill="#2b2b2b" text-anchor="middle">+</text>
<text x="425.10" y="549.76" font-size="5.768" fill="#2b2b2b" text-anchor="middle" font-weight="bold">–</text>
<text x="431.40" y="549.76" font-size="5.768" fill="#2b2b2b" text-anchor="middle" font-weight="bold">–</text>
<text x="437.35" y="550.17" font-size="6.048" fill="#2b2b2b" text-anchor="middle">+</text>
<text x="443.45" y="550.17" font-size="6.048" fill="#2b2b2b" text-anchor="middle">+</text>
<text x="400.10" y="559.36" font-size="5.768" fill="#2b2b2b" text-anchor="middle" font-weight="bold">–</text>
<text x="406.45" y="559.77" font-size="6.048" fill="#2b2b2b" text-anchor="middle">+</text>
<text x="412.60" y="559.36" font-size="5.768" fill="#2b2b2b" text-anchor="middle" font-weight="bold">–</text>
<text x="418.75" y="559.77" font-size="6.048" fill="#2b2b2b" text-anchor="middle">+</text>
<text x="425.10" y="559.36" font-size="5.768" fill="#2b2b2b" text-anchor="middle" font-weight="bold">–</text>
<text x="431.40" y="559.77" font-size="6.048" fill="#2b2b2b" text-anchor="middle">+</text>
<text x="437.35" y="559.36" font-size="5.768" fill="#2b2b2b" text-anchor="middle" font-weight="bold">–</text>
<text x="443.45" y="559.77" font-size="6.048" fill="#2b2b2b" text-anchor="middle">+</text>
<text x="462.75" y="549.76" font-size="5.768" fill="#2b2b2b" text-anchor="middle" font-weight="bold">–</text>
<text x="469.05" y="549.76" font-size="5.768" fill="#2b2b2b" text-anchor="middle" font-weight="bold">–</text>
<text x="475.25" y="550.17" font-size="6.048" fill="#2b2b2b" text-anchor="middle">+</text>
<text x="481.45" y="550.17" font-size="6.048" fill="#2b2b2b" text-anchor="middle">+</text>
<text x="487.40" y="549.76" font-size="5.768" fill="#2b2b2b" text-anchor="middle" font-weight="bold">–</text>
<text x="493.55" y="549.76" font-size="5.768" fill="#2b2b2b" text-anchor="middle" font-weight="bold">–</text>
<text x="499.75" y="550.17" font-size="6.048" fill="#2b2b2b" text-anchor="middle">+</text>
<text x="506.05" y="550.17" font-size="6.048" fill="#2b2b2b" text-anchor="middle">+</text>
<text x="462.75" y="559.36" font-size="5.768" fill="#2b2b2b" text-anchor="middle" font-weight="bold">–</text>
<text x="469.05" y="559.77" font-size="6.048" fill="#2b2b2b" text-anchor="middle">+</text>
<text x="475.25" y="559.36" font-size="5.768" fill="#2b2b2b" text-anchor="middle" font-weight="bold">–</text>
<text x="481.45" y="559.77" font-size="6.048" fill="#2b2b2b" text-anchor="middle">+</text>
<text x="487.40" y="559.36" font-size="5.768" fill="#2b2b2b" text-anchor="middle" font-weight="bold">–</text>
<text x="493.55" y="559.77" font-size="6.048" fill="#2b2b2b" text-anchor="middle">+</text>
<text x="499.75" y="559.36" font-size="5.768" fill="#2b2b2b" text-anchor="middle" font-weight="bold">–</text>
<text x="506.05" y="559.77" font-size="6.048" fill="#2b2b2b" text-anchor="middle">+</text>
<line x1="335.50" y1="561.50" x2="357.30" y2="561.50" stroke="#555" stroke-width="0.8" />
<text x="346.90" y="568.89" font-size="6.4" fill="#2b2b2b" text-anchor="middle">K052</text>
<line x1="361.20" y1="561.50" x2="380.40" y2="561.50" stroke="#555" stroke-width="0.8" />
<text x="370.80" y="568.89" font-size="6.4" fill="#2b2b2b" text-anchor="middle">ML2</text>
<line x1="399.50" y1="561.50" x2="418.80" y2="561.50" stroke="#555" stroke-width="0.8" />
<text x="409.20" y="568.89" font-size="6.4" fill="#2b2b2b" text-anchor="middle">K052</text>
<line x1="423.70" y1="561.50" x2="443.00" y2="561.50" stroke="#555" stroke-width="0.8" />
<text x="433.30" y="568.89" font-size="6.4" fill="#2b2b2b" text-anchor="middle">ML2</text>
<line x1="461.50" y1="561.50" x2="482.50" y2="561.50" stroke="#555" stroke-width="0.8" />
<text x="472.30" y="568.89" font-size="6.4" fill="#2b2b2b" text-anchor="middle">K052</text>
<line x1="486.30" y1="561.50" x2="505.60" y2="561.50" stroke="#555" stroke-width="0.8" />
<text x="496.00" y="568.89" font-size="6.4" fill="#2b2b2b" text-anchor="middle">ML2</text>
<text transform="translate(291.05,497.70) rotate(-90)" x="0" y="2.95" font-size="8.25" fill="#2b2b2b" text-anchor="middle" textLength="53.8" lengthAdjust="spacingAndGlyphs">Level of cytokines</text>
<text transform="translate(301.65,497.70) rotate(-90)" x="0" y="3.08" font-size="8.6" fill="#2b2b2b" text-anchor="middle" textLength="53.8" lengthAdjust="spacingAndGlyphs">(pg/mL/10<tspan font-size="4.5" dy="-2.5">6</tspan><tspan dy="2.5">cell)</tspan></text>
<text x="7.10" y="586.30" font-size="12" fill="#111" font-weight="bold">N</text>
<line x1="49.50" y1="598.20" x2="49.50" y2="675.90" stroke="#1a1a1a" stroke-width="1.0" />
<line x1="46.50" y1="675.40" x2="49.50" y2="675.40" stroke="#1a1a1a" stroke-width="1.0" />
<text x="43.40" y="678.09" font-size="6.4" fill="#2b2b2b" text-anchor="end">0</text>
<line x1="46.50" y1="651.00" x2="49.50" y2="651.00" stroke="#1a1a1a" stroke-width="1.0" />
<text x="43.40" y="653.69" font-size="6.4" fill="#2b2b2b" text-anchor="end">1</text>
<line x1="46.50" y1="626.60" x2="49.50" y2="626.60" stroke="#1a1a1a" stroke-width="1.0" />
<text x="43.40" y="629.29" font-size="6.4" fill="#2b2b2b" text-anchor="end">2</text>
<line x1="46.50" y1="602.20" x2="49.50" y2="602.20" stroke="#1a1a1a" stroke-width="1.0" />
<text x="43.40" y="604.89" font-size="6.4" fill="#2b2b2b" text-anchor="end">3</text>
<line x1="49.00" y1="675.50" x2="95.50" y2="675.50" stroke="#1a1a1a" stroke-width="1.0" />
<line x1="58.65" y1="675.50" x2="58.65" y2="677.50" stroke="#1a1a1a" stroke-width="1.0" />
<line x1="72.65" y1="675.50" x2="72.65" y2="677.50" stroke="#1a1a1a" stroke-width="1.0" />
<line x1="86.80" y1="675.50" x2="86.80" y2="677.50" stroke="#1a1a1a" stroke-width="1.0" />
<rect x="54.60" y="651.80" width="8.10" height="23.60" fill="#1c4f8e" />
<line x1="58.65" y1="651.80" x2="58.65" y2="650.20" stroke="#1c4f8e" stroke-width="0.7" />
<line x1="56.22" y1="650.20" x2="61.08" y2="650.20" stroke="#1c4f8e" stroke-width="0.7" />
<rect x="68.60" y="615.40" width="8.10" height="60.00" fill="#c8102e" />
<line x1="72.65" y1="615.40" x2="72.65" y2="604.90" stroke="#c8102e" stroke-width="0.7" />
<line x1="70.22" y1="604.90" x2="75.08" y2="604.90" stroke="#c8102e" stroke-width="0.7" />
<rect x="82.75" y="624.60" width="8.10" height="50.80" fill="#3cb44a" />
<line x1="86.80" y1="624.60" x2="86.80" y2="615.40" stroke="#3cb44a" stroke-width="0.7" />
<line x1="84.37" y1="615.40" x2="89.23" y2="615.40" stroke="#3cb44a" stroke-width="0.7" />
<line x1="58.10" y1="600.00" x2="72.80" y2="600.00" stroke="#505050" stroke-width="0.7" />
<text x="65.45" y="600.06" font-size="6.6" fill="#2a2a2a" text-anchor="middle" font-weight="bold">*</text>
<line x1="73.20" y1="603.50" x2="87.00" y2="603.50" stroke="#505050" stroke-width="0.7" />
<text x="80.10" y="603.56" font-size="6.6" fill="#2a2a2a" text-anchor="middle" font-weight="bold">*</text>
<text x="46.30" y="686.86" font-size="6.3" fill="#2b2b2b" text-anchor="end">PLK4i</text>
<text x="46.30" y="697.36" font-size="6.3" fill="#2b2b2b" text-anchor="end">cGAS/STINGi</text>
<text x="58.70" y="686.81" font-size="6.18" fill="#2b2b2b" text-anchor="middle" font-weight="bold">–</text>
<text x="72.40" y="687.22" font-size="6.48" fill="#2b2b2b" text-anchor="middle">+</text>
<text x="86.60" y="687.22" font-size="6.48" fill="#2b2b2b" text-anchor="middle">+</text>
<text x="58.70" y="697.31" font-size="6.18" fill="#2b2b2b" text-anchor="middle" font-weight="bold">–</text>
<text x="72.40" y="697.31" font-size="6.18" fill="#2b2b2b" text-anchor="middle" font-weight="bold">–</text>
<text x="86.60" y="697.72" font-size="6.48" fill="#2b2b2b" text-anchor="middle">+</text>
<text transform="translate(21.25,637.00) rotate(-90)" x="0" y="3.02" font-size="8.44" fill="#2b2b2b" text-anchor="middle" textLength="35" lengthAdjust="spacingAndGlyphs">Normalized</text>
<text transform="translate(30.45,637.00) rotate(-90)" x="0" y="2.87" font-size="8.02" fill="#2b2b2b" text-anchor="middle" textLength="49" lengthAdjust="spacingAndGlyphs">phagocytic index</text>
<text x="104.40" y="586.00" font-size="12" fill="#111" font-weight="bold">O</text>
<line x1="131.50" y1="594.70" x2="131.50" y2="676.50" stroke="#1a1a1a" stroke-width="1.0" />
<line x1="128.50" y1="676.00" x2="131.50" y2="676.00" stroke="#1a1a1a" stroke-width="1.0" />
<text x="125.40" y="678.69" font-size="6.4" fill="#2b2b2b" text-anchor="end">0</text>
<line x1="128.50" y1="660.20" x2="131.50" y2="660.20" stroke="#1a1a1a" stroke-width="1.0" />
<text x="125.40" y="662.89" font-size="6.4" fill="#2b2b2b" text-anchor="end">10</text>
<line x1="128.50" y1="644.50" x2="131.50" y2="644.50" stroke="#1a1a1a" stroke-width="1.0" />
<text x="125.40" y="647.19" font-size="6.4" fill="#2b2b2b" text-anchor="end">20</text>
<line x1="128.50" y1="628.70" x2="131.50" y2="628.70" stroke="#1a1a1a" stroke-width="1.0" />
<text x="125.40" y="631.39" font-size="6.4" fill="#2b2b2b" text-anchor="end">30</text>
<line x1="128.50" y1="613.00" x2="131.50" y2="613.00" stroke="#1a1a1a" stroke-width="1.0" />
<text x="125.40" y="615.69" font-size="6.4" fill="#2b2b2b" text-anchor="end">40</text>
<line x1="128.50" y1="597.20" x2="131.50" y2="597.20" stroke="#1a1a1a" stroke-width="1.0" />
<text x="125.40" y="599.89" font-size="6.4" fill="#2b2b2b" text-anchor="end">50</text>
<line x1="131.00" y1="676.50" x2="189.90" y2="676.50" stroke="#1a1a1a" stroke-width="1.0" />
<line x1="138.10" y1="676.50" x2="138.10" y2="678.50" stroke="#1a1a1a" stroke-width="1.0" />
<line x1="152.75" y1="676.50" x2="152.75" y2="678.50" stroke="#1a1a1a" stroke-width="1.0" />
<line x1="167.55" y1="676.50" x2="167.55" y2="678.50" stroke="#1a1a1a" stroke-width="1.0" />
<line x1="182.40" y1="676.50" x2="182.40" y2="678.50" stroke="#1a1a1a" stroke-width="1.0" />
<rect x="133.95" y="665.20" width="8.30" height="10.80" fill="#1c4f8e" />
<line x1="138.10" y1="665.20" x2="138.10" y2="663.20" stroke="#1c4f8e" stroke-width="0.7" />
<line x1="135.61" y1="663.20" x2="140.59" y2="663.20" stroke="#1c4f8e" stroke-width="0.7" />
<rect x="148.60" y="661.00" width="8.30" height="15.00" fill="#3cb44a" />
<line x1="152.75" y1="661.00" x2="152.75" y2="659.30" stroke="#3cb44a" stroke-width="0.7" />
<line x1="150.26" y1="659.30" x2="155.24" y2="659.30" stroke="#3cb44a" stroke-width="0.7" />
<rect x="163.40" y="638.00" width="8.30" height="38.00" fill="#c8102e" />
<line x1="167.55" y1="638.00" x2="167.55" y2="631.10" stroke="#c8102e" stroke-width="0.7" />
<line x1="165.06" y1="631.10" x2="170.04" y2="631.10" stroke="#c8102e" stroke-width="0.7" />
<rect x="178.25" y="612.80" width="8.30" height="63.20" fill="#5b1e6c" />
<line x1="182.40" y1="612.80" x2="182.40" y2="608.10" stroke="#5b1e6c" stroke-width="0.7" />
<line x1="179.91" y1="608.10" x2="184.89" y2="608.10" stroke="#5b1e6c" stroke-width="0.7" />
<line x1="136.90" y1="590.70" x2="182.60" y2="590.70" stroke="#505050" stroke-width="0.7" />
<text x="159.75" y="590.76" font-size="6.6" fill="#2a2a2a" text-anchor="middle" font-weight="bold">***</text>
<line x1="154.60" y1="598.00" x2="182.60" y2="598.00" stroke="#505050" stroke-width="0.7" />
<text x="168.60" y="598.06" font-size="6.6" fill="#2a2a2a" text-anchor="middle" font-weight="bold">***</text>
<line x1="166.90" y1="605.90" x2="182.60" y2="605.90" stroke="#505050" stroke-width="0.7" />
<text x="174.75" y="605.96" font-size="6.6" fill="#2a2a2a" text-anchor="middle" font-weight="bold">***</text>
<text x="127.50" y="687.46" font-size="6.3" fill="#2b2b2b" text-anchor="end">K052</text>
<text x="127.50" y="697.36" font-size="6.3" fill="#2b2b2b" text-anchor="end">T cell</text>
<text x="127.50" y="707.26" font-size="6.3" fill="#2b2b2b" text-anchor="end">PLK4i</text>
<text x="137.90" y="687.82" font-size="6.48" fill="#2b2b2b" text-anchor="middle">+</text>
<text x="152.70" y="687.82" font-size="6.48" fill="#2b2b2b" text-anchor="middle">+</text>
<text x="167.40" y="687.82" font-size="6.48" fill="#2b2b2b" text-anchor="middle">+</text>
<text x="182.60" y="687.82" font-size="6.48" fill="#2b2b2b" text-anchor="middle">+</text>
<text x="137.90" y="697.31" font-size="6.18" fill="#2b2b2b" text-anchor="middle" font-weight="bold">–</text>
<text x="152.70" y="697.31" font-size="6.18" fill="#2b2b2b" text-anchor="middle" font-weight="bold">–</text>
<text x="167.40" y="697.72" font-size="6.48" fill="#2b2b2b" text-anchor="middle">+</text>
<text x="182.60" y="697.72" font-size="6.48" fill="#2b2b2b" text-anchor="middle">+</text>
<text x="137.90" y="707.21" font-size="6.18" fill="#2b2b2b" text-anchor="middle" font-weight="bold">–</text>
<text x="152.70" y="707.62" font-size="6.48" fill="#2b2b2b" text-anchor="middle">+</text>
<text x="167.40" y="707.21" font-size="6.18" fill="#2b2b2b" text-anchor="middle" font-weight="bold">–</text>
<text x="182.60" y="707.62" font-size="6.48" fill="#2b2b2b" text-anchor="middle">+</text>
<text transform="translate(109.30,635.50) rotate(-90)" x="0" y="2.87" font-size="8.03" fill="#2b2b2b" text-anchor="middle" textLength="54.5" lengthAdjust="spacingAndGlyphs">Apoptotic cells (%)</text>
<text x="199.00" y="586.00" font-size="12" fill="#111" font-weight="bold">P</text>
<line x1="241.50" y1="594.70" x2="241.50" y2="675.90" stroke="#1a1a1a" stroke-width="1.0" />
<line x1="238.50" y1="675.40" x2="241.50" y2="675.40" stroke="#1a1a1a" stroke-width="1.0" />
<text x="235.40" y="678.09" font-size="6.4" fill="#2b2b2b" text-anchor="end">0</text>
<line x1="238.50" y1="649.20" x2="241.50" y2="649.20" stroke="#1a1a1a" stroke-width="1.0" />
<text x="235.40" y="651.89" font-size="6.4" fill="#2b2b2b" text-anchor="end">10</text>
<line x1="238.50" y1="623.00" x2="241.50" y2="623.00" stroke="#1a1a1a" stroke-width="1.0" />
<text x="235.40" y="625.69" font-size="6.4" fill="#2b2b2b" text-anchor="end">20</text>
<line x1="238.50" y1="596.80" x2="241.50" y2="596.80" stroke="#1a1a1a" stroke-width="1.0" />
<text x="235.40" y="599.49" font-size="6.4" fill="#2b2b2b" text-anchor="end">30</text>
<line x1="241.00" y1="675.50" x2="288.00" y2="675.50" stroke="#1a1a1a" stroke-width="1.0" />
<line x1="250.85" y1="675.50" x2="250.85" y2="677.50" stroke="#1a1a1a" stroke-width="1.0" />
<line x1="264.80" y1="675.50" x2="264.80" y2="677.50" stroke="#1a1a1a" stroke-width="1.0" />
<line x1="279.05" y1="675.50" x2="279.05" y2="677.50" stroke="#1a1a1a" stroke-width="1.0" />
<rect x="246.80" y="626.20" width="8.10" height="49.20" fill="#1c4f8e" />
<line x1="250.85" y1="626.20" x2="250.85" y2="623.20" stroke="#1c4f8e" stroke-width="0.7" />
<line x1="248.42" y1="623.20" x2="253.28" y2="623.20" stroke="#1c4f8e" stroke-width="0.7" />
<rect x="260.75" y="611.80" width="8.10" height="63.60" fill="#c8102e" />
<line x1="264.80" y1="611.80" x2="264.80" y2="609.40" stroke="#c8102e" stroke-width="0.7" />
<line x1="262.37" y1="609.40" x2="267.23" y2="609.40" stroke="#c8102e" stroke-width="0.7" />
<rect x="275.00" y="619.70" width="8.10" height="55.70" fill="#3cb44a" />
<line x1="279.05" y1="619.70" x2="279.05" y2="616.30" stroke="#3cb44a" stroke-width="0.7" />
<line x1="276.62" y1="616.30" x2="281.48" y2="616.30" stroke="#3cb44a" stroke-width="0.7" />
<line x1="248.10" y1="606.10" x2="262.80" y2="606.10" stroke="#505050" stroke-width="0.7" />
<text x="255.45" y="606.16" font-size="6.6" fill="#2a2a2a" text-anchor="middle" font-weight="bold">**</text>
<line x1="264.40" y1="601.00" x2="282.10" y2="601.00" stroke="#505050" stroke-width="0.7" />
<text x="273.25" y="601.06" font-size="6.6" fill="#2a2a2a" text-anchor="middle" font-weight="bold">*</text>
<text x="238.20" y="687.06" font-size="6.3" fill="#2b2b2b" text-anchor="end">T cell</text>
<text x="238.20" y="696.96" font-size="6.3" fill="#2b2b2b" text-anchor="end">PLK4i</text>
<text x="238.20" y="707.16" font-size="6.3" fill="#2b2b2b" text-anchor="end">cGAS/STINGi</text>
<text x="251.00" y="687.42" font-size="6.48" fill="#2b2b2b" text-anchor="middle">+</text>
<text x="264.80" y="687.42" font-size="6.48" fill="#2b2b2b" text-anchor="middle">+</text>
<text x="279.00" y="687.42" font-size="6.48" fill="#2b2b2b" text-anchor="middle">+</text>
<text x="251.00" y="696.91" font-size="6.18" fill="#2b2b2b" text-anchor="middle" font-weight="bold">–</text>
<text x="264.80" y="697.32" font-size="6.48" fill="#2b2b2b" text-anchor="middle">+</text>
<text x="279.00" y="697.32" font-size="6.48" fill="#2b2b2b" text-anchor="middle">+</text>
<text x="251.00" y="707.11" font-size="6.18" fill="#2b2b2b" text-anchor="middle" font-weight="bold">–</text>
<text x="264.80" y="707.11" font-size="6.18" fill="#2b2b2b" text-anchor="middle" font-weight="bold">–</text>
<text x="279.00" y="707.52" font-size="6.48" fill="#2b2b2b" text-anchor="middle">+</text>
<text transform="translate(219.40,635.00) rotate(-90)" x="0" y="2.91" font-size="8.14" fill="#2b2b2b" text-anchor="middle" textLength="55.3" lengthAdjust="spacingAndGlyphs">Apoptotic cells (%)</text>
<text x="297.40" y="586.30" font-size="12" fill="#111" font-weight="bold">Q</text>
<line x1="335.50" y1="601.20" x2="335.50" y2="679.80" stroke="#1a1a1a" stroke-width="1.0" />
<line x1="332.50" y1="679.30" x2="335.50" y2="679.30" stroke="#1a1a1a" stroke-width="1.0" />
<text x="329.40" y="681.99" font-size="6.4" fill="#2b2b2b" text-anchor="end">0.0</text>
<line x1="332.50" y1="656.30" x2="335.50" y2="656.30" stroke="#1a1a1a" stroke-width="1.0" />
<text x="329.40" y="658.99" font-size="6.4" fill="#2b2b2b" text-anchor="end">0.5</text>
<line x1="332.50" y1="633.30" x2="335.50" y2="633.30" stroke="#1a1a1a" stroke-width="1.0" />
<text x="329.40" y="635.99" font-size="6.4" fill="#2b2b2b" text-anchor="end">1.0</text>
<line x1="332.50" y1="610.30" x2="335.50" y2="610.30" stroke="#1a1a1a" stroke-width="1.0" />
<text x="329.40" y="612.99" font-size="6.4" fill="#2b2b2b" text-anchor="end">1.5</text>
<line x1="335.00" y1="679.50" x2="405.80" y2="679.50" stroke="#1a1a1a" stroke-width="1.0" />
<line x1="345.05" y1="679.50" x2="345.05" y2="681.50" stroke="#1a1a1a" stroke-width="1.0" />
<line x1="359.20" y1="679.50" x2="359.20" y2="681.50" stroke="#1a1a1a" stroke-width="1.0" />
<line x1="382.35" y1="679.50" x2="382.35" y2="681.50" stroke="#1a1a1a" stroke-width="1.0" />
<line x1="396.55" y1="679.50" x2="396.55" y2="681.50" stroke="#1a1a1a" stroke-width="1.0" />
<rect x="341.10" y="632.70" width="7.90" height="46.60" fill="#1c4f8e" />
<line x1="345.05" y1="632.70" x2="345.05" y2="631.10" stroke="#1c4f8e" stroke-width="0.7" />
<line x1="342.68" y1="631.10" x2="347.42" y2="631.10" stroke="#1c4f8e" stroke-width="0.7" />
<rect x="355.25" y="632.50" width="7.90" height="46.80" fill="#c8102e" />
<line x1="359.20" y1="632.50" x2="359.20" y2="625.20" stroke="#c8102e" stroke-width="0.7" />
<line x1="356.83" y1="625.20" x2="361.57" y2="625.20" stroke="#c8102e" stroke-width="0.7" />
<rect x="378.40" y="633.70" width="7.90" height="45.60" fill="#1c4f8e" />
<line x1="382.35" y1="633.70" x2="382.35" y2="632.50" stroke="#1c4f8e" stroke-width="0.7" />
<line x1="379.98" y1="632.50" x2="384.72" y2="632.50" stroke="#1c4f8e" stroke-width="0.7" />
<rect x="392.60" y="616.70" width="7.90" height="62.60" fill="#c8102e" />
<line x1="396.55" y1="616.70" x2="396.55" y2="611.40" stroke="#c8102e" stroke-width="0.7" />
<line x1="394.18" y1="611.40" x2="398.92" y2="611.40" stroke="#c8102e" stroke-width="0.7" />
<text x="351.50" y="601.51" font-size="7" fill="#2b2b2b" text-anchor="middle">ML2</text>
<line x1="340.50" y1="603.00" x2="363.30" y2="603.00" stroke="#8a8a8a" stroke-width="0.9" />
<text x="388.90" y="601.51" font-size="7" fill="#2b2b2b" text-anchor="middle">D259N</text>
<line x1="378.20" y1="603.00" x2="400.70" y2="603.00" stroke="#8a8a8a" stroke-width="0.9" />
<text x="359.20" y="623.81" font-size="7" fill="#2b2b2b" text-anchor="middle">ns</text>
<text x="396.30" y="611.56" font-size="6.6" fill="#2a2a2a" text-anchor="middle" font-weight="bold">*</text>
<text x="345.05" y="691.31" font-size="7" fill="#2b2b2b" text-anchor="middle">0</text>
<text x="359.20" y="691.31" font-size="7" fill="#2b2b2b" text-anchor="middle">10</text>
<text x="382.35" y="691.31" font-size="7" fill="#2b2b2b" text-anchor="middle">0</text>
<text x="396.55" y="691.31" font-size="7" fill="#2b2b2b" text-anchor="middle">10</text>
<text x="370.70" y="702.94" font-size="8.2" fill="#2b2b2b" text-anchor="middle" textLength="53.2" lengthAdjust="spacingAndGlyphs">CFI-400945 (nM)</text>
<text transform="translate(302.25,640.00) rotate(-90)" x="0" y="3.02" font-size="8.44" fill="#2b2b2b" text-anchor="middle" textLength="35" lengthAdjust="spacingAndGlyphs">Normalized</text>
<text transform="translate(311.55,640.00) rotate(-90)" x="0" y="2.87" font-size="8.02" fill="#2b2b2b" text-anchor="middle" textLength="49" lengthAdjust="spacingAndGlyphs">phagocytic index</text>
<text x="415.20" y="586.50" font-size="12" fill="#111" font-weight="bold">R</text>
<line x1="441.50" y1="601.60" x2="441.50" y2="679.80" stroke="#1a1a1a" stroke-width="1.0" />
<line x1="438.50" y1="679.30" x2="441.50" y2="679.30" stroke="#1a1a1a" stroke-width="1.0" />
<text x="435.40" y="681.99" font-size="6.4" fill="#2b2b2b" text-anchor="end">0.0</text>
<line x1="438.50" y1="656.30" x2="441.50" y2="656.30" stroke="#1a1a1a" stroke-width="1.0" />
<text x="435.40" y="658.99" font-size="6.4" fill="#2b2b2b" text-anchor="end">0.5</text>
<line x1="438.50" y1="633.30" x2="441.50" y2="633.30" stroke="#1a1a1a" stroke-width="1.0" />
<text x="435.40" y="635.99" font-size="6.4" fill="#2b2b2b" text-anchor="end">1.0</text>
<line x1="438.50" y1="610.30" x2="441.50" y2="610.30" stroke="#1a1a1a" stroke-width="1.0" />
<text x="435.40" y="612.99" font-size="6.4" fill="#2b2b2b" text-anchor="end">1.5</text>
<line x1="441.00" y1="679.50" x2="512.90" y2="679.50" stroke="#1a1a1a" stroke-width="1.0" />
<line x1="452.05" y1="679.50" x2="452.05" y2="681.50" stroke="#1a1a1a" stroke-width="1.0" />
<line x1="466.25" y1="679.50" x2="466.25" y2="681.50" stroke="#1a1a1a" stroke-width="1.0" />
<line x1="489.90" y1="679.50" x2="489.90" y2="681.50" stroke="#1a1a1a" stroke-width="1.0" />
<line x1="504.05" y1="679.50" x2="504.05" y2="681.50" stroke="#1a1a1a" stroke-width="1.0" />
<rect x="448.10" y="633.70" width="7.90" height="45.60" fill="#1c4f8e" />
<line x1="452.05" y1="633.70" x2="452.05" y2="625.20" stroke="#1c4f8e" stroke-width="0.7" />
<line x1="449.68" y1="625.20" x2="454.42" y2="625.20" stroke="#1c4f8e" stroke-width="0.7" />
<rect x="462.30" y="641.00" width="7.90" height="38.30" fill="#c8102e" />
<line x1="466.25" y1="641.00" x2="466.25" y2="634.00" stroke="#c8102e" stroke-width="0.7" />
<line x1="463.88" y1="634.00" x2="468.62" y2="634.00" stroke="#c8102e" stroke-width="0.7" />
<rect x="485.95" y="633.70" width="7.90" height="45.60" fill="#1c4f8e" />
<line x1="489.90" y1="633.70" x2="489.90" y2="626.60" stroke="#1c4f8e" stroke-width="0.7" />
<line x1="487.53" y1="626.60" x2="492.27" y2="626.60" stroke="#1c4f8e" stroke-width="0.7" />
<rect x="500.10" y="625.80" width="7.90" height="53.50" fill="#c8102e" />
<line x1="504.05" y1="625.80" x2="504.05" y2="617.30" stroke="#c8102e" stroke-width="0.7" />
<line x1="501.68" y1="617.30" x2="506.42" y2="617.30" stroke="#c8102e" stroke-width="0.7" />
<text x="457.40" y="601.31" font-size="7" fill="#2b2b2b" text-anchor="middle">ML2</text>
<line x1="447.00" y1="603.90" x2="469.20" y2="603.90" stroke="#8a8a8a" stroke-width="0.9" />
<text x="495.80" y="601.31" font-size="7" fill="#2b2b2b" text-anchor="middle">D259N</text>
<line x1="484.00" y1="603.90" x2="506.60" y2="603.90" stroke="#8a8a8a" stroke-width="0.9" />
<text x="466.30" y="627.81" font-size="7" fill="#2b2b2b" text-anchor="middle">ns</text>
<text x="503.70" y="616.36" font-size="6.6" fill="#2a2a2a" text-anchor="middle" font-weight="bold">*</text>
<text x="451.90" y="691.71" font-size="7" fill="#2b2b2b" text-anchor="middle">0</text>
<text x="466.70" y="691.71" font-size="7" fill="#2b2b2b" text-anchor="middle">10</text>
<text x="489.30" y="691.71" font-size="7" fill="#2b2b2b" text-anchor="middle">0</text>
<text x="504.10" y="691.71" font-size="7" fill="#2b2b2b" text-anchor="middle">10</text>
<text x="478.10" y="703.34" font-size="8.2" fill="#2b2b2b" text-anchor="middle" textLength="52.4" lengthAdjust="spacingAndGlyphs">CFI-400945 (nM)</text>
<text transform="translate(418.95,640.50) rotate(-90)" x="0" y="3.00" font-size="8.37" fill="#2b2b2b" text-anchor="middle" textLength="66" lengthAdjust="spacingAndGlyphs">Normalized apoptosis</text>
<rect x="0.5" y="0.5" width="519" height="715" fill="none" stroke="#4d4d4d" stroke-width="1"/>
</svg>
</body></html>
